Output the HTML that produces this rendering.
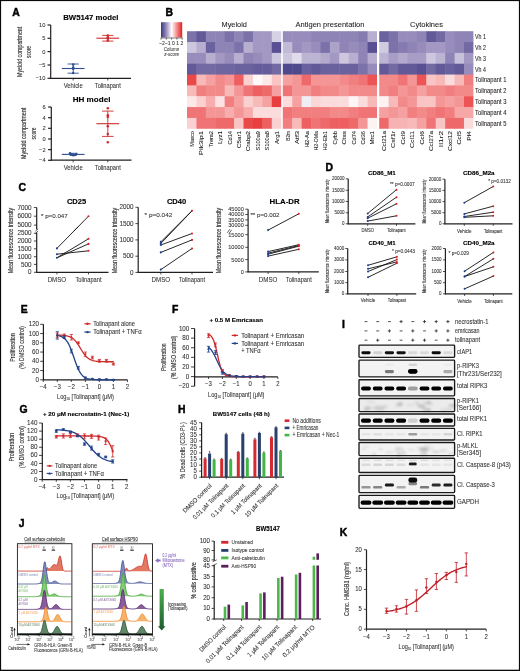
<!DOCTYPE html>
<html><head><meta charset="utf-8"><title>Figure</title>
<style>
html,body{margin:0;padding:0;background:#fff;}
body{width:520px;height:671px;overflow:hidden;}
svg{display:block;will-change:transform;}
text{font-family:"Liberation Sans", sans-serif;}
</style></head><body>
<svg width="520" height="671" viewBox="0 0 520 671" font-family='"Liberation Sans", sans-serif' fill="#231f20">
<rect width="520" height="671" fill="#fff"/>
<text x="12.30" y="15.80" font-size="10.4" font-weight="bold" fill="#000" stroke="#000" stroke-width="0.45">A</text>
<text x="90.85" y="20.00" font-size="7.0" stroke="#000" stroke-width="0.12" text-anchor="middle" font-weight="bold" fill="#000" textLength="55.3" lengthAdjust="spacingAndGlyphs">BW5147 model</text>
<line x1="50.70" y1="25.00" x2="50.70" y2="78.75" stroke="#231f20" stroke-width="1.2"/>
<line x1="50.25" y1="78.30" x2="131.00" y2="78.30" stroke="#231f20" stroke-width="1.2"/>
<line x1="47.50" y1="25.00" x2="50.70" y2="25.00" stroke="#231f20" stroke-width="1.2"/>
<text x="45.40" y="26.94" font-size="6.26" stroke="#333" stroke-width="0.08" text-anchor="end" fill="#333" textLength="6.4" lengthAdjust="spacingAndGlyphs">10</text>
<line x1="47.50" y1="38.30" x2="50.70" y2="38.30" stroke="#231f20" stroke-width="1.2"/>
<text x="45.40" y="40.24" font-size="6.26" stroke="#333" stroke-width="0.08" text-anchor="end" fill="#333" textLength="3.2" lengthAdjust="spacingAndGlyphs">5</text>
<line x1="47.50" y1="51.60" x2="50.70" y2="51.60" stroke="#231f20" stroke-width="1.2"/>
<text x="45.40" y="53.54" font-size="6.26" stroke="#333" stroke-width="0.08" text-anchor="end" fill="#333" textLength="3.2" lengthAdjust="spacingAndGlyphs">0</text>
<line x1="47.50" y1="65.00" x2="50.70" y2="65.00" stroke="#231f20" stroke-width="1.2"/>
<text x="45.40" y="66.94" font-size="6.26" stroke="#333" stroke-width="0.08" text-anchor="end" fill="#333" textLength="6.5" lengthAdjust="spacingAndGlyphs">−5</text>
<line x1="47.50" y1="78.30" x2="50.70" y2="78.30" stroke="#231f20" stroke-width="1.2"/>
<text x="45.40" y="80.24" font-size="6.26" stroke="#333" stroke-width="0.08" text-anchor="end" fill="#333" textLength="9.7" lengthAdjust="spacingAndGlyphs">−10</text>
<line x1="73.20" y1="78.30" x2="73.20" y2="80.50" stroke="#231f20" stroke-width="0.8"/>
<line x1="107.80" y1="78.30" x2="107.80" y2="80.50" stroke="#231f20" stroke-width="0.8"/>
<text x="73.20" y="88.20" font-size="6.5" stroke="#333" stroke-width="0.08" text-anchor="middle" fill="#333" textLength="19.0" lengthAdjust="spacingAndGlyphs">Vehicle</text>
<text x="107.80" y="88.20" font-size="6.5" stroke="#333" stroke-width="0.08" text-anchor="middle" fill="#333" textLength="26.0" lengthAdjust="spacingAndGlyphs">Tolinapant</text>
<text transform="translate(21.64,51.90) rotate(-90)" font-size="6.48" text-anchor="middle" stroke="#333" stroke-width="0.14" textLength="50.2" lengthAdjust="spacingAndGlyphs" fill="#333">Myeloid compartment</text>
<text transform="translate(31.04,51.90) rotate(-90)" font-size="6.48" text-anchor="middle" stroke="#333" stroke-width="0.14" textLength="12.0" lengthAdjust="spacingAndGlyphs" fill="#333">score</text>
<line x1="61.80" y1="68.50" x2="84.60" y2="68.50" stroke="#2f4f8f" stroke-width="1.1"/>
<line x1="73.20" y1="64.00" x2="73.20" y2="73.20" stroke="#2f4f8f" stroke-width="0.9"/>
<line x1="67.60" y1="64.00" x2="78.80" y2="64.00" stroke="#2f4f8f" stroke-width="0.9"/>
<line x1="67.60" y1="73.20" x2="78.80" y2="73.20" stroke="#2f4f8f" stroke-width="0.9"/>
<circle cx="73.20" cy="64.40" r="1.25" fill="#2f4f8f"/>
<circle cx="73.20" cy="67.60" r="1.25" fill="#2f4f8f"/>
<circle cx="73.20" cy="68.80" r="1.25" fill="#2f4f8f"/>
<circle cx="73.20" cy="73.00" r="1.25" fill="#2f4f8f"/>
<line x1="96.40" y1="38.20" x2="119.20" y2="38.20" stroke="#cf2a2a" stroke-width="1.1"/>
<line x1="107.80" y1="35.40" x2="107.80" y2="41.10" stroke="#cf2a2a" stroke-width="0.9"/>
<line x1="102.20" y1="35.40" x2="113.40" y2="35.40" stroke="#cf2a2a" stroke-width="0.9"/>
<line x1="102.20" y1="41.10" x2="113.40" y2="41.10" stroke="#cf2a2a" stroke-width="0.9"/>
<circle cx="107.80" cy="35.60" r="1.25" fill="#cf2a2a"/>
<circle cx="107.80" cy="37.30" r="1.25" fill="#cf2a2a"/>
<circle cx="107.80" cy="38.60" r="1.25" fill="#cf2a2a"/>
<circle cx="107.80" cy="40.60" r="1.25" fill="#cf2a2a"/>
<text x="91.55" y="102.10" font-size="7.0" stroke="#000" stroke-width="0.12" text-anchor="middle" font-weight="bold" fill="#000" textLength="37.7" lengthAdjust="spacingAndGlyphs">HH model</text>
<line x1="51.30" y1="107.00" x2="51.30" y2="160.65" stroke="#231f20" stroke-width="1.2"/>
<line x1="50.85" y1="160.20" x2="131.50" y2="160.20" stroke="#231f20" stroke-width="1.2"/>
<line x1="48.10" y1="107.00" x2="51.30" y2="107.00" stroke="#231f20" stroke-width="1.2"/>
<text x="45.60" y="108.94" font-size="6.26" stroke="#333" stroke-width="0.08" text-anchor="end" fill="#333" textLength="3.2" lengthAdjust="spacingAndGlyphs">6</text>
<line x1="48.10" y1="117.70" x2="51.30" y2="117.70" stroke="#231f20" stroke-width="1.2"/>
<text x="45.60" y="119.64" font-size="6.26" stroke="#333" stroke-width="0.08" text-anchor="end" fill="#333" textLength="3.2" lengthAdjust="spacingAndGlyphs">4</text>
<line x1="48.10" y1="128.30" x2="51.30" y2="128.30" stroke="#231f20" stroke-width="1.2"/>
<text x="45.60" y="130.24" font-size="6.26" stroke="#333" stroke-width="0.08" text-anchor="end" fill="#333" textLength="3.2" lengthAdjust="spacingAndGlyphs">2</text>
<line x1="48.10" y1="139.00" x2="51.30" y2="139.00" stroke="#231f20" stroke-width="1.2"/>
<text x="45.60" y="140.94" font-size="6.26" stroke="#333" stroke-width="0.08" text-anchor="end" fill="#333" textLength="3.2" lengthAdjust="spacingAndGlyphs">0</text>
<line x1="48.10" y1="149.60" x2="51.30" y2="149.60" stroke="#231f20" stroke-width="1.2"/>
<text x="45.60" y="151.54" font-size="6.26" stroke="#333" stroke-width="0.08" text-anchor="end" fill="#333" textLength="6.5" lengthAdjust="spacingAndGlyphs">−2</text>
<line x1="48.10" y1="160.30" x2="51.30" y2="160.30" stroke="#231f20" stroke-width="1.2"/>
<text x="45.60" y="162.24" font-size="6.26" stroke="#333" stroke-width="0.08" text-anchor="end" fill="#333" textLength="6.5" lengthAdjust="spacingAndGlyphs">−4</text>
<line x1="73.20" y1="160.20" x2="73.20" y2="162.40" stroke="#231f20" stroke-width="0.8"/>
<line x1="107.80" y1="160.20" x2="107.80" y2="162.40" stroke="#231f20" stroke-width="0.8"/>
<text x="73.20" y="169.60" font-size="6.5" stroke="#333" stroke-width="0.08" text-anchor="middle" fill="#333" textLength="19.0" lengthAdjust="spacingAndGlyphs">Vehicle</text>
<text x="107.80" y="169.60" font-size="6.5" stroke="#333" stroke-width="0.08" text-anchor="middle" fill="#333" textLength="26.0" lengthAdjust="spacingAndGlyphs">Tolinapant</text>
<text transform="translate(26.14,133.40) rotate(-90)" font-size="6.48" text-anchor="middle" stroke="#333" stroke-width="0.14" textLength="51.3" lengthAdjust="spacingAndGlyphs" fill="#333">Myeloid compartment</text>
<text transform="translate(35.74,133.40) rotate(-90)" font-size="6.48" text-anchor="middle" stroke="#333" stroke-width="0.14" textLength="12.0" lengthAdjust="spacingAndGlyphs" fill="#333">score</text>
<line x1="61.80" y1="154.40" x2="84.60" y2="154.40" stroke="#2f4f8f" stroke-width="1.1"/>
<line x1="73.20" y1="153.30" x2="73.20" y2="155.50" stroke="#2f4f8f" stroke-width="0.9"/>
<line x1="69.70" y1="153.30" x2="76.70" y2="153.30" stroke="#2f4f8f" stroke-width="0.9"/>
<line x1="69.70" y1="155.50" x2="76.70" y2="155.50" stroke="#2f4f8f" stroke-width="0.9"/>
<circle cx="70.00" cy="153.20" r="1.25" fill="#2f4f8f"/>
<circle cx="71.60" cy="154.30" r="1.25" fill="#2f4f8f"/>
<circle cx="73.20" cy="155.20" r="1.25" fill="#2f4f8f"/>
<circle cx="74.80" cy="155.00" r="1.25" fill="#2f4f8f"/>
<circle cx="76.40" cy="153.90" r="1.25" fill="#2f4f8f"/>
<line x1="96.40" y1="123.70" x2="119.20" y2="123.70" stroke="#cf2a2a" stroke-width="1.1"/>
<line x1="107.80" y1="111.10" x2="107.80" y2="136.40" stroke="#cf2a2a" stroke-width="0.9"/>
<line x1="102.00" y1="111.10" x2="113.60" y2="111.10" stroke="#cf2a2a" stroke-width="0.9"/>
<line x1="102.00" y1="136.40" x2="113.60" y2="136.40" stroke="#cf2a2a" stroke-width="0.9"/>
<circle cx="107.80" cy="108.20" r="1.25" fill="#cf2a2a"/>
<circle cx="107.80" cy="115.20" r="1.25" fill="#cf2a2a"/>
<circle cx="107.80" cy="117.00" r="1.25" fill="#cf2a2a"/>
<circle cx="107.80" cy="126.30" r="1.25" fill="#cf2a2a"/>
<circle cx="107.80" cy="134.10" r="1.25" fill="#cf2a2a"/>
<circle cx="107.80" cy="142.20" r="1.25" fill="#cf2a2a"/>
<text x="165.60" y="15.90" font-size="10.4" font-weight="bold" fill="#000" stroke="#000" stroke-width="0.45">B</text>
<defs><linearGradient id="cb" x1="0" x2="1" y1="0" y2="0"><stop offset="0.000" stop-color="#3c3780"/><stop offset="0.125" stop-color="#6a629e"/><stop offset="0.250" stop-color="#988cbc"/><stop offset="0.375" stop-color="#ccc6de"/><stop offset="0.500" stop-color="#ffffff"/><stop offset="0.625" stop-color="#f9c4c4"/><stop offset="0.750" stop-color="#f38a8a"/><stop offset="0.875" stop-color="#ec5455"/><stop offset="1.000" stop-color="#e41e20"/></linearGradient></defs>
<rect x="161.00" y="22.20" width="21.20" height="15.30" fill="url(#cb)"/>
<line x1="161.00" y1="38.00" x2="182.20" y2="38.00" stroke="#333" stroke-width="0.6"/>
<line x1="161.00" y1="37.60" x2="161.00" y2="39.60" stroke="#333" stroke-width="0.7"/>
<line x1="166.30" y1="37.60" x2="166.30" y2="39.60" stroke="#333" stroke-width="0.7"/>
<line x1="171.60" y1="37.60" x2="171.60" y2="39.60" stroke="#333" stroke-width="0.7"/>
<line x1="176.90" y1="37.60" x2="176.90" y2="39.60" stroke="#333" stroke-width="0.7"/>
<line x1="182.20" y1="37.60" x2="182.20" y2="39.60" stroke="#333" stroke-width="0.7"/>
<text x="171.20" y="44.94" font-size="4.64" stroke="#333" stroke-width="0.08" text-anchor="middle" fill="#333" textLength="24.0" lengthAdjust="spacingAndGlyphs">−2−1 0  1  2</text>
<text x="171.60" y="51.20" font-size="5.34" stroke="#444" stroke-width="0.08" text-anchor="middle" fill="#444" textLength="15.5" lengthAdjust="spacingAndGlyphs">Column</text>
<text x="171.60" y="56.30" font-size="5.34" stroke="#444" stroke-width="0.08" text-anchor="middle" fill="#444" textLength="14.5" lengthAdjust="spacingAndGlyphs" font-style="italic">z-score</text>
<rect x="187.00" y="31.20" width="9.92" height="11.34" fill="#7c72aa"/>
<rect x="196.42" y="31.20" width="9.92" height="11.34" fill="#615998"/>
<rect x="205.84" y="31.20" width="9.92" height="11.34" fill="#8f84b6"/>
<rect x="215.26" y="31.20" width="9.92" height="11.34" fill="#8f84b6"/>
<rect x="224.68" y="31.20" width="9.92" height="11.34" fill="#7c72aa"/>
<rect x="234.10" y="31.20" width="9.92" height="11.34" fill="#8f84b6"/>
<rect x="243.52" y="31.20" width="9.92" height="11.34" fill="#7c72aa"/>
<rect x="252.94" y="31.20" width="9.92" height="11.34" fill="#a298c3"/>
<rect x="262.36" y="31.20" width="9.92" height="11.34" fill="#a298c3"/>
<rect x="271.78" y="31.20" width="9.42" height="11.34" fill="#d6d1e4"/>
<rect x="187.00" y="42.04" width="9.92" height="11.34" fill="#ccc6de"/>
<rect x="196.42" y="42.04" width="9.92" height="11.34" fill="#b7aed0"/>
<rect x="205.84" y="42.04" width="9.92" height="11.34" fill="#6a629e"/>
<rect x="215.26" y="42.04" width="9.92" height="11.34" fill="#8f84b6"/>
<rect x="224.68" y="42.04" width="9.92" height="11.34" fill="#8f84b6"/>
<rect x="234.10" y="42.04" width="9.92" height="11.34" fill="#7c72aa"/>
<rect x="243.52" y="42.04" width="9.92" height="11.34" fill="#b7aed0"/>
<rect x="252.94" y="42.04" width="9.92" height="11.34" fill="#a298c3"/>
<rect x="262.36" y="42.04" width="9.92" height="11.34" fill="#a298c3"/>
<rect x="271.78" y="42.04" width="9.42" height="11.34" fill="#585092"/>
<rect x="187.00" y="52.88" width="9.92" height="11.34" fill="#988cbc"/>
<rect x="196.42" y="52.88" width="9.92" height="11.34" fill="#988cbc"/>
<rect x="205.84" y="52.88" width="9.92" height="11.34" fill="#b7aed0"/>
<rect x="215.26" y="52.88" width="9.92" height="11.34" fill="#a298c3"/>
<rect x="224.68" y="52.88" width="9.92" height="11.34" fill="#988cbc"/>
<rect x="234.10" y="52.88" width="9.92" height="11.34" fill="#b7aed0"/>
<rect x="243.52" y="52.88" width="9.92" height="11.34" fill="#8f84b6"/>
<rect x="252.94" y="52.88" width="9.92" height="11.34" fill="#988cbc"/>
<rect x="262.36" y="52.88" width="9.92" height="11.34" fill="#a298c3"/>
<rect x="271.78" y="52.88" width="9.42" height="11.34" fill="#ccc6de"/>
<rect x="187.00" y="63.72" width="9.92" height="11.34" fill="#615998"/>
<rect x="196.42" y="63.72" width="9.92" height="11.34" fill="#736aa4"/>
<rect x="205.84" y="63.72" width="9.92" height="11.34" fill="#736aa4"/>
<rect x="215.26" y="63.72" width="9.92" height="11.34" fill="#6f66a1"/>
<rect x="224.68" y="63.72" width="9.92" height="11.34" fill="#6f66a1"/>
<rect x="234.10" y="63.72" width="9.92" height="11.34" fill="#6a629e"/>
<rect x="243.52" y="63.72" width="9.92" height="11.34" fill="#6a629e"/>
<rect x="252.94" y="63.72" width="9.92" height="11.34" fill="#655d9b"/>
<rect x="262.36" y="63.72" width="9.92" height="11.34" fill="#655d9b"/>
<rect x="271.78" y="63.72" width="9.42" height="11.34" fill="#736aa4"/>
<rect x="187.00" y="74.56" width="9.92" height="11.34" fill="#ea494a"/>
<rect x="196.42" y="74.56" width="9.92" height="11.34" fill="#f8b9b9"/>
<rect x="205.84" y="74.56" width="9.92" height="11.34" fill="#f5a1a1"/>
<rect x="215.26" y="74.56" width="9.92" height="11.34" fill="#f38a8a"/>
<rect x="224.68" y="74.56" width="9.92" height="11.34" fill="#f49696"/>
<rect x="234.10" y="74.56" width="9.92" height="11.34" fill="#ed5f60"/>
<rect x="243.52" y="74.56" width="9.92" height="11.34" fill="#fad0d0"/>
<rect x="252.94" y="74.56" width="9.92" height="11.34" fill="#fef9f9"/>
<rect x="262.36" y="74.56" width="9.92" height="11.34" fill="#fde8e8"/>
<rect x="271.78" y="74.56" width="9.42" height="11.34" fill="#f9c4c4"/>
<rect x="187.00" y="85.40" width="9.92" height="11.34" fill="#f8b9b9"/>
<rect x="196.42" y="85.40" width="9.92" height="11.34" fill="#f27f7f"/>
<rect x="205.84" y="85.40" width="9.92" height="11.34" fill="#f38a8a"/>
<rect x="215.26" y="85.40" width="9.92" height="11.34" fill="#f38a8a"/>
<rect x="224.68" y="85.40" width="9.92" height="11.34" fill="#f8b9b9"/>
<rect x="234.10" y="85.40" width="9.92" height="11.34" fill="#f49696"/>
<rect x="243.52" y="85.40" width="9.92" height="11.34" fill="#f07475"/>
<rect x="252.94" y="85.40" width="9.92" height="11.34" fill="#ed5f60"/>
<rect x="262.36" y="85.40" width="9.92" height="11.34" fill="#ee6a6a"/>
<rect x="271.78" y="85.40" width="9.42" height="11.34" fill="#f5a1a1"/>
<rect x="187.00" y="96.24" width="9.92" height="11.34" fill="#fde8e8"/>
<rect x="196.42" y="96.24" width="9.92" height="11.34" fill="#fad0d0"/>
<rect x="205.84" y="96.24" width="9.92" height="11.34" fill="#f7adad"/>
<rect x="215.26" y="96.24" width="9.92" height="11.34" fill="#fce2e2"/>
<rect x="224.68" y="96.24" width="9.92" height="11.34" fill="#f27f7f"/>
<rect x="234.10" y="96.24" width="9.92" height="11.34" fill="#f5a1a1"/>
<rect x="243.52" y="96.24" width="9.92" height="11.34" fill="#fad0d0"/>
<rect x="252.94" y="96.24" width="9.92" height="11.34" fill="#f8b9b9"/>
<rect x="262.36" y="96.24" width="9.92" height="11.34" fill="#f5a1a1"/>
<rect x="271.78" y="96.24" width="9.42" height="11.34" fill="#e83e40"/>
<rect x="187.00" y="107.08" width="9.92" height="11.34" fill="#f07475"/>
<rect x="196.42" y="107.08" width="9.92" height="11.34" fill="#f07475"/>
<rect x="205.84" y="107.08" width="9.92" height="11.34" fill="#f49696"/>
<rect x="215.26" y="107.08" width="9.92" height="11.34" fill="#f49696"/>
<rect x="224.68" y="107.08" width="9.92" height="11.34" fill="#f7adad"/>
<rect x="234.10" y="107.08" width="9.92" height="11.34" fill="#f49696"/>
<rect x="243.52" y="107.08" width="9.92" height="11.34" fill="#f7adad"/>
<rect x="252.94" y="107.08" width="9.92" height="11.34" fill="#fbdcdc"/>
<rect x="262.36" y="107.08" width="9.92" height="11.34" fill="#fbdcdc"/>
<rect x="271.78" y="107.08" width="9.42" height="11.34" fill="#fbdcdc"/>
<rect x="187.00" y="117.92" width="9.92" height="10.84" fill="#fad0d0"/>
<rect x="196.42" y="117.92" width="9.92" height="10.84" fill="#f07475"/>
<rect x="205.84" y="117.92" width="9.92" height="10.84" fill="#f07475"/>
<rect x="215.26" y="117.92" width="9.92" height="10.84" fill="#ee6a6a"/>
<rect x="224.68" y="117.92" width="9.92" height="10.84" fill="#ee6a6a"/>
<rect x="234.10" y="117.92" width="9.92" height="10.84" fill="#f9c4c4"/>
<rect x="243.52" y="117.92" width="9.92" height="10.84" fill="#ea494a"/>
<rect x="252.94" y="117.92" width="9.92" height="10.84" fill="#e83e40"/>
<rect x="262.36" y="117.92" width="9.92" height="10.84" fill="#ed5f60"/>
<rect x="271.78" y="117.92" width="9.42" height="10.84" fill="#fad0d0"/>
<rect x="282.80" y="31.20" width="9.92" height="11.34" fill="#988cbc"/>
<rect x="292.22" y="31.20" width="9.92" height="11.34" fill="#988cbc"/>
<rect x="301.64" y="31.20" width="9.92" height="11.34" fill="#988cbc"/>
<rect x="311.06" y="31.20" width="9.92" height="11.34" fill="#8f84b6"/>
<rect x="320.48" y="31.20" width="9.92" height="11.34" fill="#8f84b6"/>
<rect x="329.90" y="31.20" width="9.92" height="11.34" fill="#8f84b6"/>
<rect x="339.32" y="31.20" width="9.92" height="11.34" fill="#8f84b6"/>
<rect x="348.74" y="31.20" width="9.92" height="11.34" fill="#8f84b6"/>
<rect x="358.16" y="31.20" width="9.92" height="11.34" fill="#867bb0"/>
<rect x="367.58" y="31.20" width="9.42" height="11.34" fill="#b7aed0"/>
<rect x="282.80" y="42.04" width="9.92" height="11.34" fill="#c1bad7"/>
<rect x="292.22" y="42.04" width="9.92" height="11.34" fill="#988cbc"/>
<rect x="301.64" y="42.04" width="9.92" height="11.34" fill="#a298c3"/>
<rect x="311.06" y="42.04" width="9.92" height="11.34" fill="#988cbc"/>
<rect x="320.48" y="42.04" width="9.92" height="11.34" fill="#7c72aa"/>
<rect x="329.90" y="42.04" width="9.92" height="11.34" fill="#ada3c9"/>
<rect x="339.32" y="42.04" width="9.92" height="11.34" fill="#8f84b6"/>
<rect x="348.74" y="42.04" width="9.92" height="11.34" fill="#988cbc"/>
<rect x="358.16" y="42.04" width="9.92" height="11.34" fill="#8f84b6"/>
<rect x="367.58" y="42.04" width="9.42" height="11.34" fill="#585092"/>
<rect x="282.80" y="52.88" width="9.92" height="11.34" fill="#ccc6de"/>
<rect x="292.22" y="52.88" width="9.92" height="11.34" fill="#e0dceb"/>
<rect x="301.64" y="52.88" width="9.92" height="11.34" fill="#bcb4d3"/>
<rect x="311.06" y="52.88" width="9.92" height="11.34" fill="#bcb4d3"/>
<rect x="320.48" y="52.88" width="9.92" height="11.34" fill="#b2a9cd"/>
<rect x="329.90" y="52.88" width="9.92" height="11.34" fill="#a298c3"/>
<rect x="339.32" y="52.88" width="9.92" height="11.34" fill="#ccc6de"/>
<rect x="348.74" y="52.88" width="9.92" height="11.34" fill="#b7aed0"/>
<rect x="358.16" y="52.88" width="9.92" height="11.34" fill="#8f84b6"/>
<rect x="367.58" y="52.88" width="9.42" height="11.34" fill="#b7aed0"/>
<rect x="282.80" y="63.72" width="9.92" height="11.34" fill="#4e488c"/>
<rect x="292.22" y="63.72" width="9.92" height="11.34" fill="#4e488c"/>
<rect x="301.64" y="63.72" width="9.92" height="11.34" fill="#6a629e"/>
<rect x="311.06" y="63.72" width="9.92" height="11.34" fill="#615998"/>
<rect x="320.48" y="63.72" width="9.92" height="11.34" fill="#6a629e"/>
<rect x="329.90" y="63.72" width="9.92" height="11.34" fill="#6a629e"/>
<rect x="339.32" y="63.72" width="9.92" height="11.34" fill="#6a629e"/>
<rect x="348.74" y="63.72" width="9.92" height="11.34" fill="#6a629e"/>
<rect x="358.16" y="63.72" width="9.92" height="11.34" fill="#7c72aa"/>
<rect x="367.58" y="63.72" width="9.42" height="11.34" fill="#988cbc"/>
<rect x="282.80" y="74.56" width="9.92" height="11.34" fill="#f5a1a1"/>
<rect x="292.22" y="74.56" width="9.92" height="11.34" fill="#f49696"/>
<rect x="301.64" y="74.56" width="9.92" height="11.34" fill="#ee6a6a"/>
<rect x="311.06" y="74.56" width="9.92" height="11.34" fill="#f49696"/>
<rect x="320.48" y="74.56" width="9.92" height="11.34" fill="#f49696"/>
<rect x="329.90" y="74.56" width="9.92" height="11.34" fill="#f49696"/>
<rect x="339.32" y="74.56" width="9.92" height="11.34" fill="#f38a8a"/>
<rect x="348.74" y="74.56" width="9.92" height="11.34" fill="#f27f7f"/>
<rect x="358.16" y="74.56" width="9.92" height="11.34" fill="#f07475"/>
<rect x="367.58" y="74.56" width="9.42" height="11.34" fill="#ec5455"/>
<rect x="282.80" y="85.40" width="9.92" height="11.34" fill="#f07475"/>
<rect x="292.22" y="85.40" width="9.92" height="11.34" fill="#f49696"/>
<rect x="301.64" y="85.40" width="9.92" height="11.34" fill="#f49696"/>
<rect x="311.06" y="85.40" width="9.92" height="11.34" fill="#f27f7f"/>
<rect x="320.48" y="85.40" width="9.92" height="11.34" fill="#f38a8a"/>
<rect x="329.90" y="85.40" width="9.92" height="11.34" fill="#f38a8a"/>
<rect x="339.32" y="85.40" width="9.92" height="11.34" fill="#f49696"/>
<rect x="348.74" y="85.40" width="9.92" height="11.34" fill="#f38a8a"/>
<rect x="358.16" y="85.40" width="9.92" height="11.34" fill="#f38a8a"/>
<rect x="367.58" y="85.40" width="9.42" height="11.34" fill="#f38a8a"/>
<rect x="282.80" y="96.24" width="9.92" height="11.34" fill="#fbdcdc"/>
<rect x="292.22" y="96.24" width="9.92" height="11.34" fill="#f5a1a1"/>
<rect x="301.64" y="96.24" width="9.92" height="11.34" fill="#f0eef5"/>
<rect x="311.06" y="96.24" width="9.92" height="11.34" fill="#fbd6d6"/>
<rect x="320.48" y="96.24" width="9.92" height="11.34" fill="#fbdcdc"/>
<rect x="329.90" y="96.24" width="9.92" height="11.34" fill="#fbdcdc"/>
<rect x="339.32" y="96.24" width="9.92" height="11.34" fill="#fbdcdc"/>
<rect x="348.74" y="96.24" width="9.92" height="11.34" fill="#fef6f6"/>
<rect x="358.16" y="96.24" width="9.92" height="11.34" fill="#fbdcdc"/>
<rect x="367.58" y="96.24" width="9.42" height="11.34" fill="#f8b9b9"/>
<rect x="282.80" y="107.08" width="9.92" height="11.34" fill="#f07475"/>
<rect x="292.22" y="107.08" width="9.92" height="11.34" fill="#f27f7f"/>
<rect x="301.64" y="107.08" width="9.92" height="11.34" fill="#f27f7f"/>
<rect x="311.06" y="107.08" width="9.92" height="11.34" fill="#f27f7f"/>
<rect x="320.48" y="107.08" width="9.92" height="11.34" fill="#f27f7f"/>
<rect x="329.90" y="107.08" width="9.92" height="11.34" fill="#f38a8a"/>
<rect x="339.32" y="107.08" width="9.92" height="11.34" fill="#f38a8a"/>
<rect x="348.74" y="107.08" width="9.92" height="11.34" fill="#f27f7f"/>
<rect x="358.16" y="107.08" width="9.92" height="11.34" fill="#f07475"/>
<rect x="367.58" y="107.08" width="9.42" height="11.34" fill="#f07475"/>
<rect x="282.80" y="117.92" width="9.92" height="10.84" fill="#f27f7f"/>
<rect x="292.22" y="117.92" width="9.92" height="10.84" fill="#f8b9b9"/>
<rect x="301.64" y="117.92" width="9.92" height="10.84" fill="#ed5f60"/>
<rect x="311.06" y="117.92" width="9.92" height="10.84" fill="#f07475"/>
<rect x="320.48" y="117.92" width="9.92" height="10.84" fill="#ee6a6a"/>
<rect x="329.90" y="117.92" width="9.92" height="10.84" fill="#ed5f60"/>
<rect x="339.32" y="117.92" width="9.92" height="10.84" fill="#ed5f60"/>
<rect x="348.74" y="117.92" width="9.92" height="10.84" fill="#ee6a6a"/>
<rect x="358.16" y="117.92" width="9.92" height="10.84" fill="#f49696"/>
<rect x="367.58" y="117.92" width="9.42" height="10.84" fill="#fef3f3"/>
<rect x="379.20" y="31.20" width="9.92" height="11.34" fill="#6a629e"/>
<rect x="388.62" y="31.20" width="9.92" height="11.34" fill="#7c72aa"/>
<rect x="398.04" y="31.20" width="9.92" height="11.34" fill="#988cbc"/>
<rect x="407.46" y="31.20" width="9.92" height="11.34" fill="#988cbc"/>
<rect x="416.88" y="31.20" width="9.92" height="11.34" fill="#8f84b6"/>
<rect x="426.30" y="31.20" width="9.92" height="11.34" fill="#615998"/>
<rect x="435.72" y="31.20" width="9.92" height="11.34" fill="#736aa4"/>
<rect x="445.14" y="31.20" width="9.92" height="11.34" fill="#988cbc"/>
<rect x="454.56" y="31.20" width="9.92" height="11.34" fill="#8f84b6"/>
<rect x="463.98" y="31.20" width="9.42" height="11.34" fill="#8f84b6"/>
<rect x="379.20" y="42.04" width="9.92" height="11.34" fill="#d1cbe1"/>
<rect x="388.62" y="42.04" width="9.92" height="11.34" fill="#7c72aa"/>
<rect x="398.04" y="42.04" width="9.92" height="11.34" fill="#867bb0"/>
<rect x="407.46" y="42.04" width="9.92" height="11.34" fill="#8f84b6"/>
<rect x="416.88" y="42.04" width="9.92" height="11.34" fill="#988cbc"/>
<rect x="426.30" y="42.04" width="9.92" height="11.34" fill="#a298c3"/>
<rect x="435.72" y="42.04" width="9.92" height="11.34" fill="#a298c3"/>
<rect x="445.14" y="42.04" width="9.92" height="11.34" fill="#988cbc"/>
<rect x="454.56" y="42.04" width="9.92" height="11.34" fill="#8f84b6"/>
<rect x="463.98" y="42.04" width="9.42" height="11.34" fill="#736aa4"/>
<rect x="379.20" y="52.88" width="9.92" height="11.34" fill="#bcb4d3"/>
<rect x="388.62" y="52.88" width="9.92" height="11.34" fill="#a79dc6"/>
<rect x="398.04" y="52.88" width="9.92" height="11.34" fill="#b2a9cd"/>
<rect x="407.46" y="52.88" width="9.92" height="11.34" fill="#a79dc6"/>
<rect x="416.88" y="52.88" width="9.92" height="11.34" fill="#a79dc6"/>
<rect x="426.30" y="52.88" width="9.92" height="11.34" fill="#ccc6de"/>
<rect x="435.72" y="52.88" width="9.92" height="11.34" fill="#bcb4d3"/>
<rect x="445.14" y="52.88" width="9.92" height="11.34" fill="#8f84b6"/>
<rect x="454.56" y="52.88" width="9.92" height="11.34" fill="#c6c0da"/>
<rect x="463.98" y="52.88" width="9.42" height="11.34" fill="#a298c3"/>
<rect x="379.20" y="63.72" width="9.92" height="11.34" fill="#615998"/>
<rect x="388.62" y="63.72" width="9.92" height="11.34" fill="#736aa4"/>
<rect x="398.04" y="63.72" width="9.92" height="11.34" fill="#615998"/>
<rect x="407.46" y="63.72" width="9.92" height="11.34" fill="#615998"/>
<rect x="416.88" y="63.72" width="9.92" height="11.34" fill="#585092"/>
<rect x="426.30" y="63.72" width="9.92" height="11.34" fill="#736aa4"/>
<rect x="435.72" y="63.72" width="9.92" height="11.34" fill="#615998"/>
<rect x="445.14" y="63.72" width="9.92" height="11.34" fill="#6a629e"/>
<rect x="454.56" y="63.72" width="9.92" height="11.34" fill="#615998"/>
<rect x="463.98" y="63.72" width="9.42" height="11.34" fill="#988cbc"/>
<rect x="379.20" y="74.56" width="9.92" height="11.34" fill="#f38a8a"/>
<rect x="388.62" y="74.56" width="9.92" height="11.34" fill="#f38a8a"/>
<rect x="398.04" y="74.56" width="9.92" height="11.34" fill="#f07475"/>
<rect x="407.46" y="74.56" width="9.92" height="11.34" fill="#f49696"/>
<rect x="416.88" y="74.56" width="9.92" height="11.34" fill="#ec5455"/>
<rect x="426.30" y="74.56" width="9.92" height="11.34" fill="#f9c4c4"/>
<rect x="435.72" y="74.56" width="9.92" height="11.34" fill="#f8b9b9"/>
<rect x="445.14" y="74.56" width="9.92" height="11.34" fill="#fbdcdc"/>
<rect x="454.56" y="74.56" width="9.92" height="11.34" fill="#f8b9b9"/>
<rect x="463.98" y="74.56" width="9.42" height="11.34" fill="#f27f7f"/>
<rect x="379.20" y="85.40" width="9.92" height="11.34" fill="#f38a8a"/>
<rect x="388.62" y="85.40" width="9.92" height="11.34" fill="#f27f7f"/>
<rect x="398.04" y="85.40" width="9.92" height="11.34" fill="#f49696"/>
<rect x="407.46" y="85.40" width="9.92" height="11.34" fill="#f38a8a"/>
<rect x="416.88" y="85.40" width="9.92" height="11.34" fill="#f5a1a1"/>
<rect x="426.30" y="85.40" width="9.92" height="11.34" fill="#f38a8a"/>
<rect x="435.72" y="85.40" width="9.92" height="11.34" fill="#f38a8a"/>
<rect x="445.14" y="85.40" width="9.92" height="11.34" fill="#f27f7f"/>
<rect x="454.56" y="85.40" width="9.92" height="11.34" fill="#f38a8a"/>
<rect x="463.98" y="85.40" width="9.42" height="11.34" fill="#f38a8a"/>
<rect x="379.20" y="96.24" width="9.92" height="11.34" fill="#fef3f3"/>
<rect x="388.62" y="96.24" width="9.92" height="11.34" fill="#f8b9b9"/>
<rect x="398.04" y="96.24" width="9.92" height="11.34" fill="#f38a8a"/>
<rect x="407.46" y="96.24" width="9.92" height="11.34" fill="#f49696"/>
<rect x="416.88" y="96.24" width="9.92" height="11.34" fill="#f9c4c4"/>
<rect x="426.30" y="96.24" width="9.92" height="11.34" fill="#f9c4c4"/>
<rect x="435.72" y="96.24" width="9.92" height="11.34" fill="#f49696"/>
<rect x="445.14" y="96.24" width="9.92" height="11.34" fill="#f5a1a1"/>
<rect x="454.56" y="96.24" width="9.92" height="11.34" fill="#f49696"/>
<rect x="463.98" y="96.24" width="9.42" height="11.34" fill="#ec5455"/>
<rect x="379.20" y="107.08" width="9.92" height="11.34" fill="#f5a1a1"/>
<rect x="388.62" y="107.08" width="9.92" height="11.34" fill="#f49696"/>
<rect x="398.04" y="107.08" width="9.92" height="11.34" fill="#f5a1a1"/>
<rect x="407.46" y="107.08" width="9.92" height="11.34" fill="#f27f7f"/>
<rect x="416.88" y="107.08" width="9.92" height="11.34" fill="#f38a8a"/>
<rect x="426.30" y="107.08" width="9.92" height="11.34" fill="#f27f7f"/>
<rect x="435.72" y="107.08" width="9.92" height="11.34" fill="#f07475"/>
<rect x="445.14" y="107.08" width="9.92" height="11.34" fill="#f27f7f"/>
<rect x="454.56" y="107.08" width="9.92" height="11.34" fill="#f6a7a7"/>
<rect x="463.98" y="107.08" width="9.42" height="11.34" fill="#f6a7a7"/>
<rect x="379.20" y="117.92" width="9.92" height="10.84" fill="#ee6a6a"/>
<rect x="388.62" y="117.92" width="9.92" height="10.84" fill="#f7b3b3"/>
<rect x="398.04" y="117.92" width="9.92" height="10.84" fill="#f7b3b3"/>
<rect x="407.46" y="117.92" width="9.92" height="10.84" fill="#f8b9b9"/>
<rect x="416.88" y="117.92" width="9.92" height="10.84" fill="#f5a1a1"/>
<rect x="426.30" y="117.92" width="9.92" height="10.84" fill="#f07475"/>
<rect x="435.72" y="117.92" width="9.92" height="10.84" fill="#f9c4c4"/>
<rect x="445.14" y="117.92" width="9.92" height="10.84" fill="#ee6a6a"/>
<rect x="454.56" y="117.92" width="9.92" height="10.84" fill="#ee6a6a"/>
<rect x="463.98" y="117.92" width="9.42" height="10.84" fill="#fbdcdc"/>
<text x="234.20" y="27.40" font-size="7.77" stroke="#231f20" stroke-width="0.08" text-anchor="middle" textLength="25.4" lengthAdjust="spacingAndGlyphs">Myeloid</text>
<text x="330.00" y="27.40" font-size="7.77" stroke="#231f20" stroke-width="0.08" text-anchor="middle" textLength="69.0" lengthAdjust="spacingAndGlyphs">Antigen presentation</text>
<text x="426.50" y="27.40" font-size="7.77" stroke="#231f20" stroke-width="0.08" text-anchor="middle" textLength="33.0" lengthAdjust="spacingAndGlyphs">Cytokines</text>
<text x="475.10" y="39.07" font-size="6.61" stroke="#231f20" stroke-width="0.08" textLength="10.8" lengthAdjust="spacingAndGlyphs">Vh 1</text>
<text x="475.10" y="49.91" font-size="6.61" stroke="#231f20" stroke-width="0.08" textLength="10.8" lengthAdjust="spacingAndGlyphs">Vh 2</text>
<text x="475.10" y="60.75" font-size="6.61" stroke="#231f20" stroke-width="0.08" textLength="10.8" lengthAdjust="spacingAndGlyphs">Vh 3</text>
<text x="475.10" y="71.59" font-size="6.61" stroke="#231f20" stroke-width="0.08" textLength="10.8" lengthAdjust="spacingAndGlyphs">Vh 4</text>
<text x="475.10" y="82.43" font-size="6.61" stroke="#231f20" stroke-width="0.08" textLength="31.4" lengthAdjust="spacingAndGlyphs">Tolinapant 1</text>
<text x="475.10" y="93.27" font-size="6.61" stroke="#231f20" stroke-width="0.08" textLength="31.4" lengthAdjust="spacingAndGlyphs">Tolinapant 2</text>
<text x="475.10" y="104.11" font-size="6.61" stroke="#231f20" stroke-width="0.08" textLength="31.4" lengthAdjust="spacingAndGlyphs">Tolinapant 3</text>
<text x="475.10" y="114.95" font-size="6.61" stroke="#231f20" stroke-width="0.08" textLength="31.4" lengthAdjust="spacingAndGlyphs">Tolinapant 4</text>
<text x="475.10" y="125.79" font-size="6.61" stroke="#231f20" stroke-width="0.08" textLength="31.4" lengthAdjust="spacingAndGlyphs">Tolinapant 5</text>
<text transform="translate(193.87,131.0) rotate(-90)" font-size="6.0" text-anchor="end" stroke="#231f20" stroke-width="0.08" textLength="15.7" lengthAdjust="spacingAndGlyphs">Marco</text>
<text transform="translate(203.29,131.0) rotate(-90)" font-size="6.0" text-anchor="end" stroke="#231f20" stroke-width="0.08" textLength="24.0" lengthAdjust="spacingAndGlyphs">Pik3ip1</text>
<text transform="translate(212.71,131.0) rotate(-90)" font-size="6.0" text-anchor="end" stroke="#231f20" stroke-width="0.08" textLength="16.2" lengthAdjust="spacingAndGlyphs">Trem2</text>
<text transform="translate(222.13,131.0) rotate(-90)" font-size="6.0" text-anchor="end" stroke="#231f20" stroke-width="0.08" textLength="13.0" lengthAdjust="spacingAndGlyphs">Lyz1</text>
<text transform="translate(231.55,131.0) rotate(-90)" font-size="6.0" text-anchor="end" stroke="#231f20" stroke-width="0.08" textLength="13.6" lengthAdjust="spacingAndGlyphs">Cd14</text>
<text transform="translate(240.97,131.0) rotate(-90)" font-size="6.0" text-anchor="end" stroke="#231f20" stroke-width="0.08" textLength="16.9" lengthAdjust="spacingAndGlyphs">C5ar1</text>
<text transform="translate(250.39,131.0) rotate(-90)" font-size="6.0" text-anchor="end" stroke="#231f20" stroke-width="0.08" textLength="20.1" lengthAdjust="spacingAndGlyphs">Crabp2</text>
<text transform="translate(259.81,131.0) rotate(-90)" font-size="6.0" text-anchor="end" stroke="#231f20" stroke-width="0.08" textLength="19.5" lengthAdjust="spacingAndGlyphs">S100a9</text>
<text transform="translate(269.23,131.0) rotate(-90)" font-size="6.0" text-anchor="end" stroke="#231f20" stroke-width="0.08" textLength="19.5" lengthAdjust="spacingAndGlyphs">S100a8</text>
<text transform="translate(278.65,131.0) rotate(-90)" font-size="6.0" text-anchor="end" stroke="#231f20" stroke-width="0.08" textLength="13.0" lengthAdjust="spacingAndGlyphs">Arg1</text>
<text transform="translate(289.67,131.0) rotate(-90)" font-size="6.0" text-anchor="end" stroke="#231f20" stroke-width="0.08" textLength="9.8" lengthAdjust="spacingAndGlyphs">B2m</text>
<text transform="translate(299.09,131.0) rotate(-90)" font-size="6.0" text-anchor="end" stroke="#231f20" stroke-width="0.08" textLength="13.0" lengthAdjust="spacingAndGlyphs">Atf3</text>
<text transform="translate(308.51,131.0) rotate(-90)" font-size="6.0" text-anchor="end" stroke="#231f20" stroke-width="0.08" textLength="16.2" lengthAdjust="spacingAndGlyphs">H2-Aa</text>
<text transform="translate(317.93,131.0) rotate(-90)" font-size="6.0" text-anchor="end" stroke="#231f20" stroke-width="0.08" textLength="19.5" lengthAdjust="spacingAndGlyphs">H2-DMa</text>
<text transform="translate(327.35,131.0) rotate(-90)" font-size="6.0" text-anchor="end" stroke="#231f20" stroke-width="0.08" textLength="19.5" lengthAdjust="spacingAndGlyphs">H2-Eb1</text>
<text transform="translate(336.77,131.0) rotate(-90)" font-size="6.0" text-anchor="end" stroke="#231f20" stroke-width="0.08" textLength="13.6" lengthAdjust="spacingAndGlyphs">Cybb</text>
<text transform="translate(346.19,131.0) rotate(-90)" font-size="6.0" text-anchor="end" stroke="#231f20" stroke-width="0.08" textLength="13.6" lengthAdjust="spacingAndGlyphs">Ctss</text>
<text transform="translate(355.61,131.0) rotate(-90)" font-size="6.0" text-anchor="end" stroke="#231f20" stroke-width="0.08" textLength="13.6" lengthAdjust="spacingAndGlyphs">Cd74</text>
<text transform="translate(365.03,131.0) rotate(-90)" font-size="6.0" text-anchor="end" stroke="#231f20" stroke-width="0.08" textLength="13.6" lengthAdjust="spacingAndGlyphs">Cd36</text>
<text transform="translate(374.45,131.0) rotate(-90)" font-size="6.0" text-anchor="end" stroke="#231f20" stroke-width="0.08" textLength="13.6" lengthAdjust="spacingAndGlyphs">Mrc1</text>
<text transform="translate(386.07,131.0) rotate(-90)" font-size="6.0" text-anchor="end" stroke="#231f20" stroke-width="0.08" textLength="20.1" lengthAdjust="spacingAndGlyphs">Ccl21a</text>
<text transform="translate(395.49,131.0) rotate(-90)" font-size="6.0" text-anchor="end" stroke="#231f20" stroke-width="0.08" textLength="16.9" lengthAdjust="spacingAndGlyphs">Csf1r</text>
<text transform="translate(404.91,131.0) rotate(-90)" font-size="6.0" text-anchor="end" stroke="#231f20" stroke-width="0.08" textLength="13.6" lengthAdjust="spacingAndGlyphs">Ccl9</text>
<text transform="translate(414.33,131.0) rotate(-90)" font-size="6.0" text-anchor="end" stroke="#231f20" stroke-width="0.08" textLength="16.9" lengthAdjust="spacingAndGlyphs">Ccl11</text>
<text transform="translate(423.75,131.0) rotate(-90)" font-size="6.0" text-anchor="end" stroke="#231f20" stroke-width="0.08" textLength="13.6" lengthAdjust="spacingAndGlyphs">Ccl6</text>
<text transform="translate(433.17,131.0) rotate(-90)" font-size="6.0" text-anchor="end" stroke="#231f20" stroke-width="0.08" textLength="20.1" lengthAdjust="spacingAndGlyphs">Ccl27a</text>
<text transform="translate(442.59,131.0) rotate(-90)" font-size="6.0" text-anchor="end" stroke="#231f20" stroke-width="0.08" textLength="16.2" lengthAdjust="spacingAndGlyphs">Il1r2</text>
<text transform="translate(452.01,131.0) rotate(-90)" font-size="6.0" text-anchor="end" stroke="#231f20" stroke-width="0.08" textLength="20.1" lengthAdjust="spacingAndGlyphs">Cxcl12</text>
<text transform="translate(461.43,131.0) rotate(-90)" font-size="6.0" text-anchor="end" stroke="#231f20" stroke-width="0.08" textLength="13.6" lengthAdjust="spacingAndGlyphs">Ccl5</text>
<text transform="translate(470.85,131.0) rotate(-90)" font-size="6.0" text-anchor="end" stroke="#231f20" stroke-width="0.08" textLength="9.8" lengthAdjust="spacingAndGlyphs">Pf4</text>
<text x="18.60" y="190.70" font-size="10.4" font-weight="bold" fill="#000" stroke="#000" stroke-width="0.45">C</text>
<line x1="36.70" y1="207.50" x2="36.70" y2="229.60" stroke="#231f20" stroke-width="1.2"/>
<line x1="36.70" y1="232.60" x2="36.70" y2="272.85" stroke="#231f20" stroke-width="1.2"/>
<line x1="35.30" y1="231.20" x2="38.10" y2="228.80" stroke="#231f20" stroke-width="0.7"/>
<line x1="35.30" y1="233.40" x2="38.10" y2="231.00" stroke="#231f20" stroke-width="0.7"/>
<line x1="36.25" y1="272.40" x2="108.50" y2="272.40" stroke="#231f20" stroke-width="1.2"/>
<line x1="33.90" y1="207.50" x2="36.70" y2="207.50" stroke="#231f20" stroke-width="0.8"/>
<text x="31.60" y="209.66" font-size="6.96" stroke="#333" stroke-width="0.08" text-anchor="end" fill="#333" textLength="14.1" lengthAdjust="spacingAndGlyphs">7000</text>
<line x1="33.90" y1="216.20" x2="36.70" y2="216.20" stroke="#231f20" stroke-width="0.8"/>
<text x="31.60" y="218.36" font-size="6.96" stroke="#333" stroke-width="0.08" text-anchor="end" fill="#333" textLength="14.1" lengthAdjust="spacingAndGlyphs">6000</text>
<line x1="33.90" y1="225.10" x2="36.70" y2="225.10" stroke="#231f20" stroke-width="0.8"/>
<text x="31.60" y="227.26" font-size="6.96" stroke="#333" stroke-width="0.08" text-anchor="end" fill="#333" textLength="14.1" lengthAdjust="spacingAndGlyphs">5000</text>
<line x1="33.90" y1="233.30" x2="36.70" y2="233.30" stroke="#231f20" stroke-width="0.8"/>
<text x="31.60" y="235.46" font-size="6.96" stroke="#333" stroke-width="0.08" text-anchor="end" fill="#333" textLength="14.1" lengthAdjust="spacingAndGlyphs">2500</text>
<line x1="33.90" y1="241.00" x2="36.70" y2="241.00" stroke="#231f20" stroke-width="0.8"/>
<text x="31.60" y="243.16" font-size="6.96" stroke="#333" stroke-width="0.08" text-anchor="end" fill="#333" textLength="14.1" lengthAdjust="spacingAndGlyphs">2000</text>
<line x1="33.90" y1="248.80" x2="36.70" y2="248.80" stroke="#231f20" stroke-width="0.8"/>
<text x="31.60" y="250.96" font-size="6.96" stroke="#333" stroke-width="0.08" text-anchor="end" fill="#333" textLength="14.1" lengthAdjust="spacingAndGlyphs">1500</text>
<line x1="33.90" y1="256.70" x2="36.70" y2="256.70" stroke="#231f20" stroke-width="0.8"/>
<text x="31.60" y="258.86" font-size="6.96" stroke="#333" stroke-width="0.08" text-anchor="end" fill="#333" textLength="14.1" lengthAdjust="spacingAndGlyphs">1000</text>
<line x1="33.90" y1="264.40" x2="36.70" y2="264.40" stroke="#231f20" stroke-width="0.8"/>
<text x="31.60" y="266.56" font-size="6.96" stroke="#333" stroke-width="0.08" text-anchor="end" fill="#333" textLength="10.6" lengthAdjust="spacingAndGlyphs">500</text>
<line x1="33.90" y1="272.30" x2="36.70" y2="272.30" stroke="#231f20" stroke-width="0.8"/>
<text x="31.60" y="274.46" font-size="6.96" stroke="#333" stroke-width="0.08" text-anchor="end" fill="#333" textLength="3.5" lengthAdjust="spacingAndGlyphs">0</text>
<line x1="56.90" y1="272.40" x2="56.90" y2="274.40" stroke="#231f20" stroke-width="0.8"/>
<line x1="88.50" y1="272.40" x2="88.50" y2="274.40" stroke="#231f20" stroke-width="0.8"/>
<text x="56.90" y="281.96" font-size="6.96" stroke="#333" stroke-width="0.08" text-anchor="middle" fill="#333" textLength="18.5" lengthAdjust="spacingAndGlyphs">DMSO</text>
<text x="88.50" y="281.96" font-size="6.96" stroke="#333" stroke-width="0.08" text-anchor="middle" fill="#333" textLength="26.0" lengthAdjust="spacingAndGlyphs">Tolinapant</text>
<text x="76.55" y="203.90" font-size="7.2" stroke="#000" stroke-width="0.12" text-anchor="middle" font-weight="bold" fill="#000" textLength="19.3" lengthAdjust="spacingAndGlyphs">CD25</text>
<text x="41.00" y="217.97" font-size="6.03" stroke="#333" stroke-width="0.08" fill="#333" textLength="26.8" lengthAdjust="spacingAndGlyphs">* p=0.047</text>
<text transform="translate(12.72,240.60) rotate(-90)" font-size="6.72" text-anchor="middle" stroke="#333" stroke-width="0.14" textLength="65.5" lengthAdjust="spacingAndGlyphs" fill="#333">Mean fluorescence intensity</text>
<line x1="56.90" y1="248.40" x2="78.39" y2="226.50" stroke="#111" stroke-width="0.9"/>
<line x1="73.98" y1="231.00" x2="88.50" y2="216.20" stroke="#111" stroke-width="0.9"/>
<line x1="56.90" y1="254.20" x2="88.50" y2="250.80" stroke="#111" stroke-width="0.9"/>
<line x1="56.90" y1="257.80" x2="88.50" y2="243.90" stroke="#111" stroke-width="0.9"/>
<line x1="56.90" y1="257.80" x2="88.50" y2="238.80" stroke="#111" stroke-width="0.9"/>
<circle cx="56.90" cy="248.40" r="1.05" fill="#1f3e8c"/>
<circle cx="56.90" cy="254.20" r="1.05" fill="#1f3e8c"/>
<circle cx="56.90" cy="257.80" r="1.05" fill="#1f3e8c"/>
<circle cx="88.50" cy="216.20" r="1.05" fill="#d42026"/>
<circle cx="88.50" cy="238.80" r="1.05" fill="#d42026"/>
<circle cx="88.50" cy="243.90" r="1.05" fill="#d42026"/>
<circle cx="88.50" cy="250.80" r="1.05" fill="#d42026"/>
<line x1="138.20" y1="207.30" x2="138.20" y2="272.85" stroke="#231f20" stroke-width="1.2"/>
<line x1="137.75" y1="272.40" x2="213.00" y2="272.40" stroke="#231f20" stroke-width="1.2"/>
<line x1="135.40" y1="207.30" x2="138.20" y2="207.30" stroke="#231f20" stroke-width="0.8"/>
<text x="133.60" y="209.46" font-size="6.96" stroke="#333" stroke-width="0.08" text-anchor="end" fill="#333" textLength="14.1" lengthAdjust="spacingAndGlyphs">2000</text>
<line x1="135.40" y1="223.60" x2="138.20" y2="223.60" stroke="#231f20" stroke-width="0.8"/>
<text x="133.60" y="225.76" font-size="6.96" stroke="#333" stroke-width="0.08" text-anchor="end" fill="#333" textLength="14.1" lengthAdjust="spacingAndGlyphs">1500</text>
<line x1="135.40" y1="239.90" x2="138.20" y2="239.90" stroke="#231f20" stroke-width="0.8"/>
<text x="133.60" y="242.06" font-size="6.96" stroke="#333" stroke-width="0.08" text-anchor="end" fill="#333" textLength="14.1" lengthAdjust="spacingAndGlyphs">1000</text>
<line x1="135.40" y1="256.20" x2="138.20" y2="256.20" stroke="#231f20" stroke-width="0.8"/>
<text x="133.60" y="258.36" font-size="6.96" stroke="#333" stroke-width="0.08" text-anchor="end" fill="#333" textLength="10.6" lengthAdjust="spacingAndGlyphs">500</text>
<line x1="135.40" y1="272.40" x2="138.20" y2="272.40" stroke="#231f20" stroke-width="0.8"/>
<text x="133.60" y="274.56" font-size="6.96" stroke="#333" stroke-width="0.08" text-anchor="end" fill="#333" textLength="3.5" lengthAdjust="spacingAndGlyphs">0</text>
<line x1="160.80" y1="272.40" x2="160.80" y2="274.40" stroke="#231f20" stroke-width="0.8"/>
<line x1="192.00" y1="272.40" x2="192.00" y2="274.40" stroke="#231f20" stroke-width="0.8"/>
<text x="160.80" y="281.96" font-size="6.96" stroke="#333" stroke-width="0.08" text-anchor="middle" fill="#333" textLength="18.5" lengthAdjust="spacingAndGlyphs">DMSO</text>
<text x="192.00" y="281.96" font-size="6.96" stroke="#333" stroke-width="0.08" text-anchor="middle" fill="#333" textLength="26.0" lengthAdjust="spacingAndGlyphs">Tolinapant</text>
<text x="176.55" y="203.90" font-size="7.2" stroke="#000" stroke-width="0.12" text-anchor="middle" font-weight="bold" fill="#000" textLength="19.3" lengthAdjust="spacingAndGlyphs">CD40</text>
<text x="144.60" y="217.37" font-size="6.03" stroke="#333" stroke-width="0.08" fill="#333" textLength="27.7" lengthAdjust="spacingAndGlyphs">* p=0.042</text>
<text transform="translate(117.12,240.60) rotate(-90)" font-size="6.72" text-anchor="middle" stroke="#333" stroke-width="0.14" textLength="65.5" lengthAdjust="spacingAndGlyphs" fill="#333">Mean fluorescence intensity</text>
<line x1="160.80" y1="241.90" x2="192.00" y2="210.80" stroke="#111" stroke-width="0.9"/>
<line x1="160.80" y1="243.50" x2="192.00" y2="210.80" stroke="#111" stroke-width="0.9"/>
<line x1="160.80" y1="245.00" x2="192.00" y2="233.50" stroke="#111" stroke-width="0.9"/>
<line x1="160.80" y1="252.40" x2="192.00" y2="239.90" stroke="#111" stroke-width="0.9"/>
<line x1="160.80" y1="269.60" x2="192.00" y2="248.50" stroke="#111" stroke-width="0.9"/>
<circle cx="160.80" cy="241.90" r="1.05" fill="#1f3e8c"/>
<circle cx="160.80" cy="243.50" r="1.05" fill="#1f3e8c"/>
<circle cx="160.80" cy="245.00" r="1.05" fill="#1f3e8c"/>
<circle cx="160.80" cy="252.40" r="1.05" fill="#1f3e8c"/>
<circle cx="160.80" cy="269.60" r="1.05" fill="#1f3e8c"/>
<circle cx="192.00" cy="210.80" r="1.05" fill="#d42026"/>
<circle cx="192.00" cy="233.50" r="1.05" fill="#d42026"/>
<circle cx="192.00" cy="239.90" r="1.05" fill="#d42026"/>
<circle cx="192.00" cy="248.50" r="1.05" fill="#d42026"/>
<line x1="248.10" y1="209.20" x2="248.10" y2="272.35" stroke="#231f20" stroke-width="1.2"/>
<line x1="227.40" y1="232.80" x2="229.80" y2="229.20" stroke="#231f20" stroke-width="0.7"/>
<line x1="229.20" y1="233.40" x2="231.60" y2="229.80" stroke="#231f20" stroke-width="0.7"/>
<line x1="247.65" y1="271.90" x2="318.80" y2="271.90" stroke="#231f20" stroke-width="1.2"/>
<line x1="245.30" y1="209.20" x2="248.10" y2="209.20" stroke="#231f20" stroke-width="0.8"/>
<text x="243.80" y="211.11" font-size="6.15" stroke="#333" stroke-width="0.08" text-anchor="end" fill="#333" textLength="15.6" lengthAdjust="spacingAndGlyphs">45000</text>
<line x1="245.30" y1="214.50" x2="248.10" y2="214.50" stroke="#231f20" stroke-width="0.8"/>
<text x="243.80" y="216.41" font-size="6.15" stroke="#333" stroke-width="0.08" text-anchor="end" fill="#333" textLength="15.6" lengthAdjust="spacingAndGlyphs">40000</text>
<line x1="245.30" y1="219.90" x2="248.10" y2="219.90" stroke="#231f20" stroke-width="0.8"/>
<text x="243.80" y="221.81" font-size="6.15" stroke="#333" stroke-width="0.08" text-anchor="end" fill="#333" textLength="15.6" lengthAdjust="spacingAndGlyphs">35000</text>
<line x1="245.30" y1="225.30" x2="248.10" y2="225.30" stroke="#231f20" stroke-width="0.8"/>
<text x="243.80" y="227.21" font-size="6.15" stroke="#333" stroke-width="0.08" text-anchor="end" fill="#333" textLength="15.6" lengthAdjust="spacingAndGlyphs">30000</text>
<line x1="245.30" y1="234.70" x2="248.10" y2="234.70" stroke="#231f20" stroke-width="0.8"/>
<text x="243.80" y="236.61" font-size="6.15" stroke="#333" stroke-width="0.08" text-anchor="end" fill="#333" textLength="15.6" lengthAdjust="spacingAndGlyphs">15000</text>
<line x1="245.30" y1="247.30" x2="248.10" y2="247.30" stroke="#231f20" stroke-width="0.8"/>
<text x="243.80" y="249.21" font-size="6.15" stroke="#333" stroke-width="0.08" text-anchor="end" fill="#333" textLength="15.6" lengthAdjust="spacingAndGlyphs">10000</text>
<line x1="245.30" y1="259.60" x2="248.10" y2="259.60" stroke="#231f20" stroke-width="0.8"/>
<text x="243.80" y="261.51" font-size="6.15" stroke="#333" stroke-width="0.08" text-anchor="end" fill="#333" textLength="12.5" lengthAdjust="spacingAndGlyphs">5000</text>
<line x1="245.30" y1="271.90" x2="248.10" y2="271.90" stroke="#231f20" stroke-width="0.8"/>
<text x="243.80" y="273.81" font-size="6.15" stroke="#333" stroke-width="0.08" text-anchor="end" fill="#333" textLength="3.1" lengthAdjust="spacingAndGlyphs">0</text>
<line x1="268.10" y1="271.90" x2="268.10" y2="273.90" stroke="#231f20" stroke-width="0.8"/>
<line x1="298.80" y1="271.90" x2="298.80" y2="273.90" stroke="#231f20" stroke-width="0.8"/>
<text x="268.10" y="281.96" font-size="6.96" stroke="#333" stroke-width="0.08" text-anchor="middle" fill="#333" textLength="18.5" lengthAdjust="spacingAndGlyphs">DMSO</text>
<text x="298.80" y="281.96" font-size="6.96" stroke="#333" stroke-width="0.08" text-anchor="middle" fill="#333" textLength="26.0" lengthAdjust="spacingAndGlyphs">Tolinapant</text>
<text x="284.60" y="203.80" font-size="7.2" stroke="#000" stroke-width="0.12" text-anchor="middle" font-weight="bold" fill="#000" textLength="30.0" lengthAdjust="spacingAndGlyphs">HLA-DR</text>
<text x="250.40" y="217.37" font-size="6.03" stroke="#333" stroke-width="0.08" fill="#333" textLength="29.2" lengthAdjust="spacingAndGlyphs">** p=0.002</text>
<text transform="translate(221.42,240.60) rotate(-90)" font-size="6.72" text-anchor="middle" stroke="#333" stroke-width="0.14" textLength="65.5" lengthAdjust="spacingAndGlyphs" fill="#333">Mean fluorescence intensity</text>
<line x1="268.10" y1="230.10" x2="298.80" y2="213.80" stroke="#111" stroke-width="0.9"/>
<line x1="268.10" y1="251.60" x2="298.80" y2="244.70" stroke="#111" stroke-width="0.9"/>
<line x1="268.10" y1="253.20" x2="298.80" y2="245.50" stroke="#111" stroke-width="0.9"/>
<line x1="268.10" y1="254.20" x2="298.80" y2="246.20" stroke="#111" stroke-width="0.9"/>
<line x1="268.10" y1="256.10" x2="298.80" y2="249.30" stroke="#111" stroke-width="0.9"/>
<circle cx="268.10" cy="230.10" r="1.05" fill="#1f3e8c"/>
<circle cx="268.10" cy="251.60" r="1.05" fill="#1f3e8c"/>
<circle cx="268.10" cy="253.20" r="1.05" fill="#1f3e8c"/>
<circle cx="268.10" cy="254.20" r="1.05" fill="#1f3e8c"/>
<circle cx="268.10" cy="256.10" r="1.05" fill="#1f3e8c"/>
<circle cx="298.80" cy="213.80" r="1.05" fill="#d42026"/>
<circle cx="298.80" cy="244.70" r="1.05" fill="#d42026"/>
<circle cx="298.80" cy="245.50" r="1.05" fill="#d42026"/>
<circle cx="298.80" cy="246.20" r="1.05" fill="#d42026"/>
<circle cx="298.80" cy="249.30" r="1.05" fill="#d42026"/>
<text x="325.60" y="170.80" font-size="10.4" font-weight="bold" fill="#000" stroke="#000" stroke-width="0.45">D</text>
<line x1="348.20" y1="178.80" x2="348.20" y2="224.25" stroke="#231f20" stroke-width="1.2"/>
<line x1="347.75" y1="223.80" x2="415.40" y2="223.80" stroke="#231f20" stroke-width="1.2"/>
<line x1="345.80" y1="178.80" x2="348.20" y2="178.80" stroke="#231f20" stroke-width="0.8"/>
<text x="344.60" y="180.35" font-size="4.99" stroke="#333" stroke-width="0.08" text-anchor="end" fill="#333" textLength="12.7" lengthAdjust="spacingAndGlyphs">20000</text>
<line x1="345.80" y1="190.30" x2="348.20" y2="190.30" stroke="#231f20" stroke-width="0.8"/>
<text x="344.60" y="191.85" font-size="4.99" stroke="#333" stroke-width="0.08" text-anchor="end" fill="#333" textLength="12.7" lengthAdjust="spacingAndGlyphs">15000</text>
<line x1="345.80" y1="201.50" x2="348.20" y2="201.50" stroke="#231f20" stroke-width="0.8"/>
<text x="344.60" y="203.05" font-size="4.99" stroke="#333" stroke-width="0.08" text-anchor="end" fill="#333" textLength="12.7" lengthAdjust="spacingAndGlyphs">10000</text>
<line x1="345.80" y1="212.80" x2="348.20" y2="212.80" stroke="#231f20" stroke-width="0.8"/>
<text x="344.60" y="214.35" font-size="4.99" stroke="#333" stroke-width="0.08" text-anchor="end" fill="#333" textLength="10.1" lengthAdjust="spacingAndGlyphs">5000</text>
<line x1="345.80" y1="223.80" x2="348.20" y2="223.80" stroke="#231f20" stroke-width="0.8"/>
<text x="344.60" y="225.35" font-size="4.99" stroke="#333" stroke-width="0.08" text-anchor="end" fill="#333" textLength="2.5" lengthAdjust="spacingAndGlyphs">0</text>
<line x1="367.70" y1="223.80" x2="367.70" y2="225.80" stroke="#231f20" stroke-width="0.8"/>
<line x1="396.50" y1="223.80" x2="396.50" y2="225.80" stroke="#231f20" stroke-width="0.8"/>
<text x="367.70" y="232.45" font-size="4.99" stroke="#333" stroke-width="0.08" text-anchor="middle" fill="#333" textLength="12.5" lengthAdjust="spacingAndGlyphs">DMSO</text>
<text x="396.50" y="232.45" font-size="4.99" stroke="#333" stroke-width="0.08" text-anchor="middle" fill="#333" textLength="18.5" lengthAdjust="spacingAndGlyphs">Tolinapant</text>
<text x="381.85" y="174.90" font-size="5.6" stroke="#000" stroke-width="0.12" text-anchor="middle" font-weight="bold" fill="#000" textLength="27.7" lengthAdjust="spacingAndGlyphs">CD86_M1</text>
<text x="390.00" y="185.74" font-size="4.64" stroke="#333" stroke-width="0.08" fill="#333" textLength="24.6" lengthAdjust="spacingAndGlyphs">** p=0.0007</text>
<text transform="translate(328.78,201.20) rotate(-90)" font-size="4.8" text-anchor="middle" stroke="#333" stroke-width="0.14" textLength="44.0" lengthAdjust="spacingAndGlyphs" fill="#333">Mean fluorescence intensity</text>
<line x1="367.70" y1="213.50" x2="396.50" y2="189.70" stroke="#111" stroke-width="0.9"/>
<line x1="367.70" y1="216.90" x2="396.50" y2="197.20" stroke="#111" stroke-width="0.9"/>
<line x1="367.70" y1="218.20" x2="396.50" y2="203.80" stroke="#111" stroke-width="0.9"/>
<line x1="367.70" y1="221.10" x2="396.50" y2="215.80" stroke="#111" stroke-width="0.9"/>
<circle cx="367.70" cy="213.50" r="1.0" fill="#1f3e8c"/>
<circle cx="367.70" cy="216.90" r="1.0" fill="#1f3e8c"/>
<circle cx="367.70" cy="218.20" r="1.0" fill="#1f3e8c"/>
<circle cx="367.70" cy="221.10" r="1.0" fill="#1f3e8c"/>
<circle cx="396.50" cy="189.70" r="1.0" fill="#d42026"/>
<circle cx="396.50" cy="197.20" r="1.0" fill="#d42026"/>
<circle cx="396.50" cy="203.80" r="1.0" fill="#d42026"/>
<circle cx="396.50" cy="215.80" r="1.0" fill="#d42026"/>
<line x1="444.90" y1="179.20" x2="444.90" y2="224.25" stroke="#231f20" stroke-width="1.2"/>
<line x1="444.45" y1="223.80" x2="512.50" y2="223.80" stroke="#231f20" stroke-width="1.2"/>
<line x1="442.50" y1="179.20" x2="444.90" y2="179.20" stroke="#231f20" stroke-width="0.8"/>
<text x="441.40" y="180.75" font-size="4.99" stroke="#333" stroke-width="0.08" text-anchor="end" fill="#333" textLength="12.7" lengthAdjust="spacingAndGlyphs">20000</text>
<line x1="442.50" y1="190.40" x2="444.90" y2="190.40" stroke="#231f20" stroke-width="0.8"/>
<text x="441.40" y="191.95" font-size="4.99" stroke="#333" stroke-width="0.08" text-anchor="end" fill="#333" textLength="12.7" lengthAdjust="spacingAndGlyphs">15000</text>
<line x1="442.50" y1="201.60" x2="444.90" y2="201.60" stroke="#231f20" stroke-width="0.8"/>
<text x="441.40" y="203.15" font-size="4.99" stroke="#333" stroke-width="0.08" text-anchor="end" fill="#333" textLength="12.7" lengthAdjust="spacingAndGlyphs">10000</text>
<line x1="442.50" y1="212.70" x2="444.90" y2="212.70" stroke="#231f20" stroke-width="0.8"/>
<text x="441.40" y="214.25" font-size="4.99" stroke="#333" stroke-width="0.08" text-anchor="end" fill="#333" textLength="10.1" lengthAdjust="spacingAndGlyphs">5000</text>
<line x1="442.50" y1="223.80" x2="444.90" y2="223.80" stroke="#231f20" stroke-width="0.8"/>
<text x="441.40" y="225.35" font-size="4.99" stroke="#333" stroke-width="0.08" text-anchor="end" fill="#333" textLength="2.5" lengthAdjust="spacingAndGlyphs">0</text>
<line x1="464.30" y1="223.80" x2="464.30" y2="225.80" stroke="#231f20" stroke-width="0.8"/>
<line x1="493.20" y1="223.80" x2="493.20" y2="225.80" stroke="#231f20" stroke-width="0.8"/>
<text x="464.30" y="232.75" font-size="4.99" stroke="#333" stroke-width="0.08" text-anchor="middle" fill="#333" textLength="14.5" lengthAdjust="spacingAndGlyphs">Vehicle</text>
<text x="493.20" y="232.75" font-size="4.99" stroke="#333" stroke-width="0.08" text-anchor="middle" fill="#333" textLength="18.5" lengthAdjust="spacingAndGlyphs">Tolinapant</text>
<text x="478.80" y="175.20" font-size="5.6" stroke="#000" stroke-width="0.12" text-anchor="middle" font-weight="bold" fill="#000" textLength="31.6" lengthAdjust="spacingAndGlyphs">CD86_M2a</text>
<text x="488.30" y="182.54" font-size="4.64" stroke="#333" stroke-width="0.08" fill="#333" textLength="22.4" lengthAdjust="spacingAndGlyphs">* p=0.0132</text>
<text transform="translate(425.98,201.40) rotate(-90)" font-size="4.8" text-anchor="middle" stroke="#333" stroke-width="0.14" textLength="44.0" lengthAdjust="spacingAndGlyphs" fill="#333">Mean fluorescence intensity</text>
<line x1="464.30" y1="202.70" x2="493.20" y2="186.50" stroke="#111" stroke-width="0.9"/>
<line x1="464.30" y1="213.90" x2="493.20" y2="206.20" stroke="#111" stroke-width="0.9"/>
<line x1="464.30" y1="216.50" x2="493.20" y2="212.20" stroke="#111" stroke-width="0.9"/>
<line x1="464.30" y1="217.30" x2="493.20" y2="215.80" stroke="#111" stroke-width="0.9"/>
<circle cx="464.30" cy="202.70" r="1.0" fill="#1f3e8c"/>
<circle cx="464.30" cy="213.90" r="1.0" fill="#1f3e8c"/>
<circle cx="464.30" cy="216.50" r="1.0" fill="#1f3e8c"/>
<circle cx="464.30" cy="217.30" r="1.0" fill="#1f3e8c"/>
<circle cx="493.20" cy="186.50" r="1.0" fill="#d42026"/>
<circle cx="493.20" cy="206.20" r="1.0" fill="#d42026"/>
<circle cx="493.20" cy="212.20" r="1.0" fill="#d42026"/>
<circle cx="493.20" cy="215.80" r="1.0" fill="#d42026"/>
<line x1="347.70" y1="248.50" x2="347.70" y2="294.35" stroke="#231f20" stroke-width="1.2"/>
<line x1="347.25" y1="293.90" x2="416.20" y2="293.90" stroke="#231f20" stroke-width="1.2"/>
<line x1="345.30" y1="248.50" x2="347.70" y2="248.50" stroke="#231f20" stroke-width="0.8"/>
<text x="344.20" y="250.05" font-size="4.99" stroke="#333" stroke-width="0.08" text-anchor="end" fill="#333" textLength="10.1" lengthAdjust="spacingAndGlyphs">4000</text>
<line x1="345.30" y1="259.90" x2="347.70" y2="259.90" stroke="#231f20" stroke-width="0.8"/>
<text x="344.20" y="261.45" font-size="4.99" stroke="#333" stroke-width="0.08" text-anchor="end" fill="#333" textLength="10.1" lengthAdjust="spacingAndGlyphs">3000</text>
<line x1="345.30" y1="271.50" x2="347.70" y2="271.50" stroke="#231f20" stroke-width="0.8"/>
<text x="344.20" y="273.05" font-size="4.99" stroke="#333" stroke-width="0.08" text-anchor="end" fill="#333" textLength="10.1" lengthAdjust="spacingAndGlyphs">2000</text>
<line x1="345.30" y1="282.70" x2="347.70" y2="282.70" stroke="#231f20" stroke-width="0.8"/>
<text x="344.20" y="284.25" font-size="4.99" stroke="#333" stroke-width="0.08" text-anchor="end" fill="#333" textLength="10.1" lengthAdjust="spacingAndGlyphs">1000</text>
<line x1="345.30" y1="293.90" x2="347.70" y2="293.90" stroke="#231f20" stroke-width="0.8"/>
<text x="344.20" y="295.45" font-size="4.99" stroke="#333" stroke-width="0.08" text-anchor="end" fill="#333" textLength="2.5" lengthAdjust="spacingAndGlyphs">0</text>
<line x1="368.00" y1="293.90" x2="368.00" y2="295.90" stroke="#231f20" stroke-width="0.8"/>
<line x1="396.90" y1="293.90" x2="396.90" y2="295.90" stroke="#231f20" stroke-width="0.8"/>
<text x="368.00" y="302.45" font-size="4.99" stroke="#333" stroke-width="0.08" text-anchor="middle" fill="#333" textLength="14.5" lengthAdjust="spacingAndGlyphs">Vehicle</text>
<text x="396.90" y="302.45" font-size="4.99" stroke="#333" stroke-width="0.08" text-anchor="middle" fill="#333" textLength="18.5" lengthAdjust="spacingAndGlyphs">Tolinapant</text>
<text x="382.10" y="245.10" font-size="5.6" stroke="#000" stroke-width="0.12" text-anchor="middle" font-weight="bold" fill="#000" textLength="27.2" lengthAdjust="spacingAndGlyphs">CD40_M1</text>
<text x="392.00" y="253.04" font-size="4.64" stroke="#333" stroke-width="0.08" fill="#333" textLength="23.0" lengthAdjust="spacingAndGlyphs">* p=0.0443</text>
<text transform="translate(329.28,271.20) rotate(-90)" font-size="4.8" text-anchor="middle" stroke="#333" stroke-width="0.14" textLength="44.0" lengthAdjust="spacingAndGlyphs" fill="#333">Mean fluorescence intensity</text>
<line x1="368.00" y1="265.30" x2="396.90" y2="256.80" stroke="#111" stroke-width="0.9"/>
<line x1="368.00" y1="268.80" x2="396.90" y2="261.90" stroke="#111" stroke-width="0.9"/>
<line x1="368.00" y1="271.50" x2="396.90" y2="259.60" stroke="#111" stroke-width="0.9"/>
<line x1="368.00" y1="277.30" x2="396.90" y2="263.20" stroke="#111" stroke-width="0.9"/>
<circle cx="368.00" cy="265.30" r="1.0" fill="#1f3e8c"/>
<circle cx="368.00" cy="268.80" r="1.0" fill="#1f3e8c"/>
<circle cx="368.00" cy="271.50" r="1.0" fill="#1f3e8c"/>
<circle cx="368.00" cy="277.30" r="1.0" fill="#1f3e8c"/>
<circle cx="396.90" cy="256.80" r="1.0" fill="#d42026"/>
<circle cx="396.90" cy="259.60" r="1.0" fill="#d42026"/>
<circle cx="396.90" cy="261.90" r="1.0" fill="#d42026"/>
<circle cx="396.90" cy="263.20" r="1.0" fill="#d42026"/>
<line x1="445.40" y1="248.50" x2="445.40" y2="294.35" stroke="#231f20" stroke-width="1.2"/>
<line x1="444.95" y1="293.90" x2="512.30" y2="293.90" stroke="#231f20" stroke-width="1.2"/>
<line x1="443.00" y1="248.50" x2="445.40" y2="248.50" stroke="#231f20" stroke-width="0.8"/>
<text x="441.60" y="250.05" font-size="4.99" stroke="#333" stroke-width="0.08" text-anchor="end" fill="#333" textLength="10.1" lengthAdjust="spacingAndGlyphs">2000</text>
<line x1="443.00" y1="259.90" x2="445.40" y2="259.90" stroke="#231f20" stroke-width="0.8"/>
<text x="441.60" y="261.45" font-size="4.99" stroke="#333" stroke-width="0.08" text-anchor="end" fill="#333" textLength="10.1" lengthAdjust="spacingAndGlyphs">1500</text>
<line x1="443.00" y1="271.50" x2="445.40" y2="271.50" stroke="#231f20" stroke-width="0.8"/>
<text x="441.60" y="273.05" font-size="4.99" stroke="#333" stroke-width="0.08" text-anchor="end" fill="#333" textLength="10.1" lengthAdjust="spacingAndGlyphs">1000</text>
<line x1="443.00" y1="282.70" x2="445.40" y2="282.70" stroke="#231f20" stroke-width="0.8"/>
<text x="441.60" y="284.25" font-size="4.99" stroke="#333" stroke-width="0.08" text-anchor="end" fill="#333" textLength="7.6" lengthAdjust="spacingAndGlyphs">500</text>
<line x1="443.00" y1="293.90" x2="445.40" y2="293.90" stroke="#231f20" stroke-width="0.8"/>
<text x="441.60" y="295.45" font-size="4.99" stroke="#333" stroke-width="0.08" text-anchor="end" fill="#333" textLength="2.5" lengthAdjust="spacingAndGlyphs">0</text>
<line x1="464.60" y1="293.90" x2="464.60" y2="295.90" stroke="#231f20" stroke-width="0.8"/>
<line x1="493.40" y1="293.90" x2="493.40" y2="295.90" stroke="#231f20" stroke-width="0.8"/>
<text x="464.60" y="302.75" font-size="4.99" stroke="#333" stroke-width="0.08" text-anchor="middle" fill="#333" textLength="14.5" lengthAdjust="spacingAndGlyphs">Vehicle</text>
<text x="493.40" y="302.75" font-size="4.99" stroke="#333" stroke-width="0.08" text-anchor="middle" fill="#333" textLength="18.5" lengthAdjust="spacingAndGlyphs">Tolinapant</text>
<text x="478.80" y="245.10" font-size="5.6" stroke="#000" stroke-width="0.12" text-anchor="middle" font-weight="bold" fill="#000" textLength="31.6" lengthAdjust="spacingAndGlyphs">CD40_M2a</text>
<text x="448.50" y="255.34" font-size="4.64" stroke="#333" stroke-width="0.08" fill="#333" textLength="20.5" lengthAdjust="spacingAndGlyphs">* p=0.029</text>
<text transform="translate(426.18,271.20) rotate(-90)" font-size="4.8" text-anchor="middle" stroke="#333" stroke-width="0.14" textLength="44.0" lengthAdjust="spacingAndGlyphs" fill="#333">Mean fluorescence intensity</text>
<line x1="464.60" y1="271.20" x2="493.40" y2="252.40" stroke="#111" stroke-width="0.9"/>
<line x1="464.60" y1="276.50" x2="493.40" y2="258.80" stroke="#111" stroke-width="0.9"/>
<line x1="464.60" y1="276.50" x2="493.40" y2="266.80" stroke="#111" stroke-width="0.9"/>
<line x1="464.60" y1="288.80" x2="493.40" y2="276.10" stroke="#111" stroke-width="0.9"/>
<circle cx="464.60" cy="271.20" r="1.0" fill="#1f3e8c"/>
<circle cx="464.60" cy="276.50" r="1.0" fill="#1f3e8c"/>
<circle cx="464.60" cy="276.50" r="1.0" fill="#1f3e8c"/>
<circle cx="464.60" cy="288.80" r="1.0" fill="#1f3e8c"/>
<circle cx="493.40" cy="252.40" r="1.0" fill="#d42026"/>
<circle cx="493.40" cy="258.80" r="1.0" fill="#d42026"/>
<circle cx="493.40" cy="266.80" r="1.0" fill="#d42026"/>
<circle cx="493.40" cy="276.10" r="1.0" fill="#d42026"/>
<text x="20.80" y="313.40" font-size="10.4" font-weight="bold" fill="#000" stroke="#000" stroke-width="0.45">E</text>
<line x1="43.40" y1="324.30" x2="43.40" y2="380.25" stroke="#231f20" stroke-width="1.2"/>
<line x1="42.95" y1="379.80" x2="127.50" y2="379.80" stroke="#231f20" stroke-width="1.2"/>
<line x1="40.20" y1="324.30" x2="43.40" y2="324.30" stroke="#231f20" stroke-width="0.85"/>
<text x="39.10" y="326.42" font-size="6.84" stroke="#333" stroke-width="0.08" text-anchor="end" fill="#333" textLength="10.4" lengthAdjust="spacingAndGlyphs">120</text>
<line x1="40.20" y1="333.55" x2="43.40" y2="333.55" stroke="#231f20" stroke-width="0.85"/>
<text x="39.10" y="335.67" font-size="6.84" stroke="#333" stroke-width="0.08" text-anchor="end" fill="#333" textLength="10.4" lengthAdjust="spacingAndGlyphs">100</text>
<line x1="40.20" y1="342.80" x2="43.40" y2="342.80" stroke="#231f20" stroke-width="0.85"/>
<text x="39.10" y="344.92" font-size="6.84" stroke="#333" stroke-width="0.08" text-anchor="end" fill="#333" textLength="7.0" lengthAdjust="spacingAndGlyphs">80</text>
<line x1="40.20" y1="352.05" x2="43.40" y2="352.05" stroke="#231f20" stroke-width="0.85"/>
<text x="39.10" y="354.17" font-size="6.84" stroke="#333" stroke-width="0.08" text-anchor="end" fill="#333" textLength="7.0" lengthAdjust="spacingAndGlyphs">60</text>
<line x1="40.20" y1="361.30" x2="43.40" y2="361.30" stroke="#231f20" stroke-width="0.85"/>
<text x="39.10" y="363.42" font-size="6.84" stroke="#333" stroke-width="0.08" text-anchor="end" fill="#333" textLength="7.0" lengthAdjust="spacingAndGlyphs">40</text>
<line x1="40.20" y1="370.55" x2="43.40" y2="370.55" stroke="#231f20" stroke-width="0.85"/>
<text x="39.10" y="372.67" font-size="6.84" stroke="#333" stroke-width="0.08" text-anchor="end" fill="#333" textLength="7.0" lengthAdjust="spacingAndGlyphs">20</text>
<line x1="40.20" y1="379.80" x2="43.40" y2="379.80" stroke="#231f20" stroke-width="0.85"/>
<text x="39.10" y="381.92" font-size="6.84" stroke="#333" stroke-width="0.08" text-anchor="end" fill="#333" textLength="3.5" lengthAdjust="spacingAndGlyphs">0</text>
<line x1="43.27" y1="379.80" x2="43.27" y2="382.00" stroke="#231f20" stroke-width="0.8"/>
<text x="43.27" y="389.29" font-size="6.73" stroke="#333" stroke-width="0.08" text-anchor="middle" fill="#333" textLength="7.0" lengthAdjust="spacingAndGlyphs">−4</text>
<line x1="57.30" y1="379.80" x2="57.30" y2="382.00" stroke="#231f20" stroke-width="0.8"/>
<text x="57.30" y="389.29" font-size="6.73" stroke="#333" stroke-width="0.08" text-anchor="middle" fill="#333" textLength="7.0" lengthAdjust="spacingAndGlyphs">−3</text>
<line x1="71.33" y1="379.80" x2="71.33" y2="382.00" stroke="#231f20" stroke-width="0.8"/>
<text x="71.33" y="389.29" font-size="6.73" stroke="#333" stroke-width="0.08" text-anchor="middle" fill="#333" textLength="7.0" lengthAdjust="spacingAndGlyphs">−2</text>
<line x1="85.36" y1="379.80" x2="85.36" y2="382.00" stroke="#231f20" stroke-width="0.8"/>
<text x="85.36" y="389.29" font-size="6.73" stroke="#333" stroke-width="0.08" text-anchor="middle" fill="#333" textLength="7.0" lengthAdjust="spacingAndGlyphs">−1</text>
<line x1="99.39" y1="379.80" x2="99.39" y2="382.00" stroke="#231f20" stroke-width="0.8"/>
<text x="99.39" y="389.29" font-size="6.73" stroke="#333" stroke-width="0.08" text-anchor="middle" fill="#333" textLength="3.4" lengthAdjust="spacingAndGlyphs">0</text>
<line x1="113.42" y1="379.80" x2="113.42" y2="382.00" stroke="#231f20" stroke-width="0.8"/>
<text x="113.42" y="389.29" font-size="6.73" stroke="#333" stroke-width="0.08" text-anchor="middle" fill="#333" textLength="3.4" lengthAdjust="spacingAndGlyphs">1</text>
<line x1="127.45" y1="379.80" x2="127.45" y2="382.00" stroke="#231f20" stroke-width="0.8"/>
<text x="127.45" y="389.29" font-size="6.73" stroke="#333" stroke-width="0.08" text-anchor="middle" fill="#333" textLength="3.4" lengthAdjust="spacingAndGlyphs">2</text>
<text transform="translate(15.38,347.50) rotate(-90)" font-size="7.2" text-anchor="middle" stroke="#333" stroke-width="0.14" textLength="28.6" lengthAdjust="spacingAndGlyphs" fill="#333">Proliferation</text>
<text transform="translate(24.48,347.50) rotate(-90)" font-size="7.2" text-anchor="middle" stroke="#333" stroke-width="0.14" textLength="42.5" lengthAdjust="spacingAndGlyphs" fill="#333">(% DMSO control)</text>
<text x="57.00" y="398.70" font-size="6.8" fill="#333" stroke="#333" stroke-width="0.08" textLength="57.0" lengthAdjust="spacingAndGlyphs">Log<tspan font-size="3.8" dy="1.5">10</tspan><tspan dy="-1.5"> [Tolinapant] (μM)</tspan></text>
<path d="M57.30,335.03 L58.24,335.05 L59.17,335.08 L60.11,335.12 L61.04,335.16 L61.98,335.22 L62.91,335.29 L63.85,335.38 L64.78,335.49 L65.72,335.63 L66.65,335.81 L67.59,336.02 L68.52,336.29 L69.46,336.62 L70.39,337.02 L71.33,337.51 L72.27,338.09 L73.20,338.79 L74.14,339.62 L75.07,340.57 L76.01,341.67 L76.94,342.89 L77.88,344.24 L78.81,345.68 L79.75,347.19 L80.68,348.74 L81.62,350.27 L82.55,351.75 L83.49,353.15 L84.42,354.43 L85.36,355.60 L86.30,356.62 L87.23,357.51 L88.17,358.27 L89.10,358.91 L90.04,359.45 L90.97,359.89 L91.91,360.25 L92.84,360.55 L93.78,360.79 L94.71,360.98 L95.65,361.14 L96.58,361.27 L97.52,361.37 L98.45,361.45 L99.39,361.51 L100.33,361.56 L101.26,361.60 L102.20,361.64 L103.13,361.66 L104.07,361.68 L105.00,361.70 L105.94,361.71 L106.87,361.72 L107.81,361.73 L108.74,361.74 L109.68,361.74 L110.61,361.75 L111.55,361.75 L112.48,361.75 L113.42,361.75" fill="none" stroke="#cf2a2a" stroke-width="1.3" stroke-linejoin="round" stroke-linecap="round"/>
<path d="M57.30,335.51 L58.24,335.67 L59.17,335.87 L60.11,336.12 L61.04,336.44 L61.98,336.84 L62.91,337.34 L63.85,337.96 L64.78,338.73 L65.72,339.67 L66.65,340.82 L67.59,342.19 L68.52,343.81 L69.46,345.69 L70.39,347.82 L71.33,350.19 L72.27,352.75 L73.20,355.45 L74.14,358.19 L75.07,360.92 L76.01,363.54 L76.94,365.99 L77.88,368.22 L78.81,370.21 L79.75,371.93 L80.68,373.40 L81.62,374.63 L82.55,375.65 L83.49,376.49 L84.42,377.17 L85.36,377.71 L86.30,378.15 L87.23,378.50 L88.17,378.78 L89.10,379.00 L90.04,379.17 L90.97,379.30 L91.91,379.41 L92.84,379.50 L93.78,379.56 L94.71,379.61 L95.65,379.65 L96.58,379.69 L97.52,379.71 L98.45,379.73 L99.39,379.75 L100.33,379.76 L101.26,379.77 L102.20,379.77 L103.13,379.78 L104.07,379.78 L105.00,379.79 L105.94,379.79 L106.87,379.79 L107.81,379.79 L108.74,379.80 L109.68,379.80 L110.61,379.80 L111.55,379.80 L112.48,379.80 L113.42,379.80" fill="none" stroke="#22438a" stroke-width="1.3" stroke-linejoin="round" stroke-linecap="round"/>
<line x1="57.30" y1="333.09" x2="57.30" y2="337.71" stroke="#cf2a2a" stroke-width="0.8"/>
<line x1="55.70" y1="333.09" x2="58.90" y2="333.09" stroke="#cf2a2a" stroke-width="0.8"/>
<line x1="55.70" y1="337.71" x2="58.90" y2="337.71" stroke="#cf2a2a" stroke-width="0.8"/>
<circle cx="57.30" cy="335.40" r="1.1" fill="#cf2a2a"/>
<line x1="64.31" y1="334.01" x2="64.31" y2="336.79" stroke="#cf2a2a" stroke-width="0.8"/>
<line x1="62.71" y1="334.01" x2="65.91" y2="334.01" stroke="#cf2a2a" stroke-width="0.8"/>
<line x1="62.71" y1="336.79" x2="65.91" y2="336.79" stroke="#cf2a2a" stroke-width="0.8"/>
<circle cx="64.31" cy="335.40" r="1.1" fill="#cf2a2a"/>
<line x1="71.33" y1="334.48" x2="71.33" y2="340.03" stroke="#cf2a2a" stroke-width="0.8"/>
<line x1="69.73" y1="334.48" x2="72.93" y2="334.48" stroke="#cf2a2a" stroke-width="0.8"/>
<line x1="69.73" y1="340.03" x2="72.93" y2="340.03" stroke="#cf2a2a" stroke-width="0.8"/>
<circle cx="71.33" cy="337.25" r="1.1" fill="#cf2a2a"/>
<line x1="78.34" y1="341.88" x2="78.34" y2="343.73" stroke="#cf2a2a" stroke-width="0.8"/>
<line x1="76.75" y1="341.88" x2="79.94" y2="341.88" stroke="#cf2a2a" stroke-width="0.8"/>
<line x1="76.75" y1="343.73" x2="79.94" y2="343.73" stroke="#cf2a2a" stroke-width="0.8"/>
<circle cx="78.34" cy="342.80" r="1.1" fill="#cf2a2a"/>
<line x1="85.36" y1="352.05" x2="85.36" y2="356.68" stroke="#cf2a2a" stroke-width="0.8"/>
<line x1="83.76" y1="352.05" x2="86.96" y2="352.05" stroke="#cf2a2a" stroke-width="0.8"/>
<line x1="83.76" y1="356.68" x2="86.96" y2="356.68" stroke="#cf2a2a" stroke-width="0.8"/>
<circle cx="85.36" cy="354.36" r="1.1" fill="#cf2a2a"/>
<line x1="92.38" y1="356.21" x2="92.38" y2="358.99" stroke="#cf2a2a" stroke-width="0.8"/>
<line x1="90.78" y1="356.21" x2="93.97" y2="356.21" stroke="#cf2a2a" stroke-width="0.8"/>
<line x1="90.78" y1="358.99" x2="93.97" y2="358.99" stroke="#cf2a2a" stroke-width="0.8"/>
<circle cx="92.38" cy="357.60" r="1.1" fill="#cf2a2a"/>
<line x1="99.39" y1="359.45" x2="99.39" y2="362.23" stroke="#cf2a2a" stroke-width="0.8"/>
<line x1="97.79" y1="359.45" x2="100.99" y2="359.45" stroke="#cf2a2a" stroke-width="0.8"/>
<line x1="97.79" y1="362.23" x2="100.99" y2="362.23" stroke="#cf2a2a" stroke-width="0.8"/>
<circle cx="99.39" cy="360.84" r="1.1" fill="#cf2a2a"/>
<line x1="106.41" y1="359.45" x2="106.41" y2="362.23" stroke="#cf2a2a" stroke-width="0.8"/>
<line x1="104.81" y1="359.45" x2="108.00" y2="359.45" stroke="#cf2a2a" stroke-width="0.8"/>
<line x1="104.81" y1="362.23" x2="108.00" y2="362.23" stroke="#cf2a2a" stroke-width="0.8"/>
<circle cx="106.41" cy="360.84" r="1.1" fill="#cf2a2a"/>
<line x1="113.42" y1="363.15" x2="113.42" y2="365.00" stroke="#cf2a2a" stroke-width="0.8"/>
<line x1="111.82" y1="363.15" x2="115.02" y2="363.15" stroke="#cf2a2a" stroke-width="0.8"/>
<line x1="111.82" y1="365.00" x2="115.02" y2="365.00" stroke="#cf2a2a" stroke-width="0.8"/>
<circle cx="113.42" cy="364.07" r="1.1" fill="#cf2a2a"/>
<line x1="57.30" y1="331.70" x2="57.30" y2="339.10" stroke="#22438a" stroke-width="0.8"/>
<line x1="55.70" y1="331.70" x2="58.90" y2="331.70" stroke="#22438a" stroke-width="0.8"/>
<line x1="55.70" y1="339.10" x2="58.90" y2="339.10" stroke="#22438a" stroke-width="0.8"/>
<circle cx="57.30" cy="335.40" r="1.1" fill="#22438a"/>
<line x1="64.31" y1="335.86" x2="64.31" y2="338.64" stroke="#22438a" stroke-width="0.8"/>
<line x1="62.71" y1="335.86" x2="65.91" y2="335.86" stroke="#22438a" stroke-width="0.8"/>
<line x1="62.71" y1="338.64" x2="65.91" y2="338.64" stroke="#22438a" stroke-width="0.8"/>
<circle cx="64.31" cy="337.25" r="1.1" fill="#22438a"/>
<line x1="71.33" y1="349.28" x2="71.33" y2="352.98" stroke="#22438a" stroke-width="0.8"/>
<line x1="69.73" y1="349.28" x2="72.93" y2="349.28" stroke="#22438a" stroke-width="0.8"/>
<line x1="69.73" y1="352.98" x2="72.93" y2="352.98" stroke="#22438a" stroke-width="0.8"/>
<circle cx="71.33" cy="351.12" r="1.1" fill="#22438a"/>
<line x1="78.34" y1="366.39" x2="78.34" y2="369.16" stroke="#22438a" stroke-width="0.8"/>
<line x1="76.75" y1="366.39" x2="79.94" y2="366.39" stroke="#22438a" stroke-width="0.8"/>
<line x1="76.75" y1="369.16" x2="79.94" y2="369.16" stroke="#22438a" stroke-width="0.8"/>
<circle cx="78.34" cy="367.78" r="1.1" fill="#22438a"/>
<line x1="85.36" y1="377.03" x2="85.36" y2="378.88" stroke="#22438a" stroke-width="0.8"/>
<line x1="83.76" y1="377.03" x2="86.96" y2="377.03" stroke="#22438a" stroke-width="0.8"/>
<line x1="83.76" y1="378.88" x2="86.96" y2="378.88" stroke="#22438a" stroke-width="0.8"/>
<circle cx="85.36" cy="377.95" r="1.1" fill="#22438a"/>
<line x1="92.38" y1="378.41" x2="92.38" y2="379.34" stroke="#22438a" stroke-width="0.8"/>
<line x1="90.78" y1="378.41" x2="93.97" y2="378.41" stroke="#22438a" stroke-width="0.8"/>
<line x1="90.78" y1="379.34" x2="93.97" y2="379.34" stroke="#22438a" stroke-width="0.8"/>
<circle cx="92.38" cy="378.88" r="1.1" fill="#22438a"/>
<line x1="99.39" y1="378.88" x2="99.39" y2="379.80" stroke="#22438a" stroke-width="0.8"/>
<line x1="97.79" y1="378.88" x2="100.99" y2="378.88" stroke="#22438a" stroke-width="0.8"/>
<line x1="97.79" y1="379.80" x2="100.99" y2="379.80" stroke="#22438a" stroke-width="0.8"/>
<circle cx="99.39" cy="379.34" r="1.1" fill="#22438a"/>
<line x1="106.41" y1="378.88" x2="106.41" y2="379.80" stroke="#22438a" stroke-width="0.8"/>
<line x1="104.81" y1="378.88" x2="108.00" y2="378.88" stroke="#22438a" stroke-width="0.8"/>
<line x1="104.81" y1="379.80" x2="108.00" y2="379.80" stroke="#22438a" stroke-width="0.8"/>
<circle cx="106.41" cy="379.34" r="1.1" fill="#22438a"/>
<line x1="113.42" y1="379.34" x2="113.42" y2="380.26" stroke="#22438a" stroke-width="0.8"/>
<line x1="111.82" y1="379.34" x2="115.02" y2="379.34" stroke="#22438a" stroke-width="0.8"/>
<line x1="111.82" y1="380.26" x2="115.02" y2="380.26" stroke="#22438a" stroke-width="0.8"/>
<circle cx="113.42" cy="379.80" r="1.1" fill="#22438a"/>
<line x1="84.40" y1="323.80" x2="90.60" y2="323.80" stroke="#cf2a2a" stroke-width="1.2"/>
<circle cx="87.50" cy="323.80" r="1.2" fill="#cf2a2a"/>
<text x="93.20" y="325.92" font-size="6.84" stroke="#333" stroke-width="0.08" fill="#333" textLength="41.8" lengthAdjust="spacingAndGlyphs">Tolinapant alone</text>
<line x1="84.40" y1="332.10" x2="90.60" y2="332.10" stroke="#22438a" stroke-width="1.2"/>
<circle cx="87.50" cy="332.10" r="1.2" fill="#22438a"/>
<text x="93.20" y="334.22" font-size="6.84" stroke="#333" stroke-width="0.08" fill="#333" textLength="48.5" lengthAdjust="spacingAndGlyphs">Tolinapant + TNFα</text>
<text x="172.00" y="313.10" font-size="10.4" font-weight="bold" fill="#000" stroke="#000" stroke-width="0.45">F</text>
<line x1="194.60" y1="328.50" x2="194.60" y2="386.20" stroke="#231f20" stroke-width="1.2"/>
<line x1="194.60" y1="376.90" x2="277.80" y2="376.90" stroke="#231f20" stroke-width="1.2"/>
<line x1="191.00" y1="328.50" x2="194.60" y2="328.50" stroke="#231f20" stroke-width="0.85"/>
<text x="189.30" y="330.62" font-size="6.84" stroke="#333" stroke-width="0.08" text-anchor="end" fill="#333" textLength="10.4" lengthAdjust="spacingAndGlyphs">100</text>
<line x1="191.00" y1="338.12" x2="194.60" y2="338.12" stroke="#231f20" stroke-width="0.85"/>
<text x="189.30" y="340.24" font-size="6.84" stroke="#333" stroke-width="0.08" text-anchor="end" fill="#333" textLength="7.0" lengthAdjust="spacingAndGlyphs">80</text>
<line x1="191.00" y1="347.74" x2="194.60" y2="347.74" stroke="#231f20" stroke-width="0.85"/>
<text x="189.30" y="349.86" font-size="6.84" stroke="#333" stroke-width="0.08" text-anchor="end" fill="#333" textLength="7.0" lengthAdjust="spacingAndGlyphs">60</text>
<line x1="191.00" y1="357.36" x2="194.60" y2="357.36" stroke="#231f20" stroke-width="0.85"/>
<text x="189.30" y="359.48" font-size="6.84" stroke="#333" stroke-width="0.08" text-anchor="end" fill="#333" textLength="7.0" lengthAdjust="spacingAndGlyphs">40</text>
<line x1="191.00" y1="366.98" x2="194.60" y2="366.98" stroke="#231f20" stroke-width="0.85"/>
<text x="189.30" y="369.10" font-size="6.84" stroke="#333" stroke-width="0.08" text-anchor="end" fill="#333" textLength="7.0" lengthAdjust="spacingAndGlyphs">20</text>
<line x1="191.00" y1="376.60" x2="194.60" y2="376.60" stroke="#231f20" stroke-width="0.85"/>
<text x="189.30" y="378.72" font-size="6.84" stroke="#333" stroke-width="0.08" text-anchor="end" fill="#333" textLength="3.5" lengthAdjust="spacingAndGlyphs">0</text>
<line x1="191.00" y1="386.22" x2="194.60" y2="386.22" stroke="#231f20" stroke-width="0.85"/>
<text x="189.30" y="388.34" font-size="6.84" stroke="#333" stroke-width="0.08" text-anchor="end" fill="#333" textLength="10.6" lengthAdjust="spacingAndGlyphs">−20</text>
<line x1="208.50" y1="376.90" x2="208.50" y2="379.00" stroke="#231f20" stroke-width="0.8"/>
<text x="208.50" y="386.42" font-size="6.5" stroke="#333" stroke-width="0.08" text-anchor="middle" fill="#333" textLength="6.8" lengthAdjust="spacingAndGlyphs">−3</text>
<line x1="222.37" y1="376.90" x2="222.37" y2="379.00" stroke="#231f20" stroke-width="0.8"/>
<text x="222.37" y="386.42" font-size="6.5" stroke="#333" stroke-width="0.08" text-anchor="middle" fill="#333" textLength="6.8" lengthAdjust="spacingAndGlyphs">−2</text>
<line x1="236.24" y1="376.90" x2="236.24" y2="379.00" stroke="#231f20" stroke-width="0.8"/>
<text x="236.24" y="386.42" font-size="6.5" stroke="#333" stroke-width="0.08" text-anchor="middle" fill="#333" textLength="6.8" lengthAdjust="spacingAndGlyphs">−1</text>
<line x1="250.11" y1="376.90" x2="250.11" y2="379.00" stroke="#231f20" stroke-width="0.8"/>
<text x="250.11" y="386.42" font-size="6.5" stroke="#333" stroke-width="0.08" text-anchor="middle" fill="#333" textLength="3.3" lengthAdjust="spacingAndGlyphs">0</text>
<line x1="263.98" y1="376.90" x2="263.98" y2="379.00" stroke="#231f20" stroke-width="0.8"/>
<text x="263.98" y="386.42" font-size="6.5" stroke="#333" stroke-width="0.08" text-anchor="middle" fill="#333" textLength="3.3" lengthAdjust="spacingAndGlyphs">1</text>
<line x1="277.85" y1="376.90" x2="277.85" y2="379.00" stroke="#231f20" stroke-width="0.8"/>
<text x="277.85" y="386.42" font-size="6.5" stroke="#333" stroke-width="0.08" text-anchor="middle" fill="#333" textLength="3.3" lengthAdjust="spacingAndGlyphs">2</text>
<text transform="translate(166.38,357.20) rotate(-90)" font-size="7.2" text-anchor="middle" stroke="#333" stroke-width="0.14" textLength="27.7" lengthAdjust="spacingAndGlyphs" fill="#333">Proliferation</text>
<text transform="translate(175.88,357.30) rotate(-90)" font-size="7.2" text-anchor="middle" stroke="#333" stroke-width="0.14" textLength="43.3" lengthAdjust="spacingAndGlyphs" fill="#333">(% DMSO control)</text>
<text x="208.0" y="396.6" font-size="6.8" fill="#333" stroke="#333" stroke-width="0.08" textLength="56.5" lengthAdjust="spacingAndGlyphs">Log<tspan font-size="3.8" dy="1.5">10</tspan><tspan dy="-1.5"> [Tolinapant] (μM)</tspan></text>
<text x="209.40" y="322.16" font-size="6.0" stroke="#000" stroke-width="0.12" font-weight="bold" fill="#000" textLength="53.6" lengthAdjust="spacingAndGlyphs">+ 0.5 M Emricasan</text>
<path d="M208.50,334.31 L209.42,334.77 L210.35,335.41 L211.27,336.33 L212.20,337.60 L213.12,339.33 L214.05,341.61 L214.97,344.49 L215.90,347.95 L216.82,351.86 L217.75,355.99 L218.67,360.05 L219.60,363.76 L220.52,366.94 L221.45,369.51 L222.37,371.51 L223.29,372.99 L224.22,374.08 L225.14,374.85 L226.07,375.39 L226.99,375.77 L227.92,376.03 L228.84,376.21 L229.77,376.33 L230.69,376.42 L231.62,376.48 L232.54,376.52 L233.47,376.54 L234.39,376.56 L235.32,376.57 L236.24,376.58 L237.16,376.59 L238.09,376.59 L239.01,376.59 L239.94,376.60 L240.86,376.60 L241.79,376.60 L242.71,376.60 L243.64,376.60 L244.56,376.60 L245.49,376.60 L246.41,376.60 L247.34,376.60 L248.26,376.60 L249.19,376.60 L250.11,376.60 L251.03,376.60 L251.96,376.60 L252.88,376.60 L253.81,376.60 L254.73,376.60 L255.66,376.60 L256.58,376.60 L257.51,376.60 L258.43,376.60 L259.36,376.60 L260.28,376.60 L261.21,376.60 L262.13,376.60 L263.06,376.60 L263.98,376.60" fill="none" stroke="#cf2a2a" stroke-width="1.3" stroke-linejoin="round" stroke-linecap="round"/>
<path d="M208.50,347.12 L209.42,347.91 L210.35,348.86 L211.27,349.99 L212.20,351.30 L213.12,352.80 L214.05,354.48 L214.97,356.31 L215.90,358.25 L216.82,360.25 L217.75,362.24 L218.67,364.18 L219.60,366.01 L220.52,367.69 L221.45,369.19 L222.37,370.50 L223.29,371.63 L224.22,372.58 L225.14,373.37 L226.07,374.02 L226.99,374.54 L227.92,374.97 L228.84,375.31 L229.77,375.58 L230.69,375.80 L231.62,375.97 L232.54,376.10 L233.47,376.21 L234.39,376.30 L235.32,376.36 L236.24,376.41 L237.16,376.45 L238.09,376.49 L239.01,376.51 L239.94,376.53 L240.86,376.54 L241.79,376.56 L242.71,376.57 L243.64,376.57 L244.56,376.58 L245.49,376.58 L246.41,376.59 L247.34,376.59 L248.26,376.59 L249.19,376.59 L250.11,376.60 L251.03,376.60 L251.96,376.60 L252.88,376.60 L253.81,376.60 L254.73,376.60 L255.66,376.60 L256.58,376.60 L257.51,376.60 L258.43,376.60 L259.36,376.60 L260.28,376.60 L261.21,376.60 L262.13,376.60 L263.06,376.60 L263.98,376.60" fill="none" stroke="#22438a" stroke-width="1.3" stroke-linejoin="round" stroke-linecap="round"/>
<line x1="208.50" y1="333.79" x2="208.50" y2="337.64" stroke="#cf2a2a" stroke-width="0.8"/>
<line x1="206.90" y1="333.79" x2="210.10" y2="333.79" stroke="#cf2a2a" stroke-width="0.8"/>
<line x1="206.90" y1="337.64" x2="210.10" y2="337.64" stroke="#cf2a2a" stroke-width="0.8"/>
<circle cx="208.50" cy="335.72" r="1.1" fill="#cf2a2a"/>
<line x1="215.44" y1="342.93" x2="215.44" y2="346.78" stroke="#cf2a2a" stroke-width="0.8"/>
<line x1="213.84" y1="342.93" x2="217.03" y2="342.93" stroke="#cf2a2a" stroke-width="0.8"/>
<line x1="213.84" y1="346.78" x2="217.03" y2="346.78" stroke="#cf2a2a" stroke-width="0.8"/>
<circle cx="215.44" cy="344.85" r="1.1" fill="#cf2a2a"/>
<line x1="222.37" y1="369.39" x2="222.37" y2="372.27" stroke="#cf2a2a" stroke-width="0.8"/>
<line x1="220.77" y1="369.39" x2="223.97" y2="369.39" stroke="#cf2a2a" stroke-width="0.8"/>
<line x1="220.77" y1="372.27" x2="223.97" y2="372.27" stroke="#cf2a2a" stroke-width="0.8"/>
<circle cx="222.37" cy="370.83" r="1.1" fill="#cf2a2a"/>
<line x1="229.31" y1="374.68" x2="229.31" y2="375.64" stroke="#cf2a2a" stroke-width="0.8"/>
<line x1="227.71" y1="374.68" x2="230.91" y2="374.68" stroke="#cf2a2a" stroke-width="0.8"/>
<line x1="227.71" y1="375.64" x2="230.91" y2="375.64" stroke="#cf2a2a" stroke-width="0.8"/>
<circle cx="229.31" cy="375.16" r="1.1" fill="#cf2a2a"/>
<line x1="236.24" y1="375.64" x2="236.24" y2="376.60" stroke="#cf2a2a" stroke-width="0.8"/>
<line x1="234.64" y1="375.64" x2="237.84" y2="375.64" stroke="#cf2a2a" stroke-width="0.8"/>
<line x1="234.64" y1="376.60" x2="237.84" y2="376.60" stroke="#cf2a2a" stroke-width="0.8"/>
<circle cx="236.24" cy="376.12" r="1.1" fill="#cf2a2a"/>
<line x1="243.18" y1="376.12" x2="243.18" y2="377.08" stroke="#cf2a2a" stroke-width="0.8"/>
<line x1="241.58" y1="376.12" x2="244.78" y2="376.12" stroke="#cf2a2a" stroke-width="0.8"/>
<line x1="241.58" y1="377.08" x2="244.78" y2="377.08" stroke="#cf2a2a" stroke-width="0.8"/>
<circle cx="243.18" cy="376.60" r="1.1" fill="#cf2a2a"/>
<line x1="250.11" y1="376.12" x2="250.11" y2="377.08" stroke="#cf2a2a" stroke-width="0.8"/>
<line x1="248.51" y1="376.12" x2="251.71" y2="376.12" stroke="#cf2a2a" stroke-width="0.8"/>
<line x1="248.51" y1="377.08" x2="251.71" y2="377.08" stroke="#cf2a2a" stroke-width="0.8"/>
<circle cx="250.11" cy="376.60" r="1.1" fill="#cf2a2a"/>
<line x1="257.05" y1="376.12" x2="257.05" y2="377.08" stroke="#cf2a2a" stroke-width="0.8"/>
<line x1="255.45" y1="376.12" x2="258.65" y2="376.12" stroke="#cf2a2a" stroke-width="0.8"/>
<line x1="255.45" y1="377.08" x2="258.65" y2="377.08" stroke="#cf2a2a" stroke-width="0.8"/>
<circle cx="257.05" cy="376.60" r="1.1" fill="#cf2a2a"/>
<line x1="263.98" y1="376.12" x2="263.98" y2="377.08" stroke="#cf2a2a" stroke-width="0.8"/>
<line x1="262.38" y1="376.12" x2="265.58" y2="376.12" stroke="#cf2a2a" stroke-width="0.8"/>
<line x1="262.38" y1="377.08" x2="265.58" y2="377.08" stroke="#cf2a2a" stroke-width="0.8"/>
<circle cx="263.98" cy="376.60" r="1.1" fill="#cf2a2a"/>
<line x1="208.50" y1="346.30" x2="208.50" y2="352.07" stroke="#22438a" stroke-width="0.8"/>
<line x1="206.90" y1="346.30" x2="210.10" y2="346.30" stroke="#22438a" stroke-width="0.8"/>
<line x1="206.90" y1="352.07" x2="210.10" y2="352.07" stroke="#22438a" stroke-width="0.8"/>
<circle cx="208.50" cy="349.18" r="1.1" fill="#22438a"/>
<line x1="215.44" y1="350.63" x2="215.44" y2="354.47" stroke="#22438a" stroke-width="0.8"/>
<line x1="213.84" y1="350.63" x2="217.03" y2="350.63" stroke="#22438a" stroke-width="0.8"/>
<line x1="213.84" y1="354.47" x2="217.03" y2="354.47" stroke="#22438a" stroke-width="0.8"/>
<circle cx="215.44" cy="352.55" r="1.1" fill="#22438a"/>
<line x1="222.37" y1="371.31" x2="222.37" y2="374.20" stroke="#22438a" stroke-width="0.8"/>
<line x1="220.77" y1="371.31" x2="223.97" y2="371.31" stroke="#22438a" stroke-width="0.8"/>
<line x1="220.77" y1="374.20" x2="223.97" y2="374.20" stroke="#22438a" stroke-width="0.8"/>
<circle cx="222.37" cy="372.75" r="1.1" fill="#22438a"/>
<line x1="229.31" y1="375.16" x2="229.31" y2="376.12" stroke="#22438a" stroke-width="0.8"/>
<line x1="227.71" y1="375.16" x2="230.91" y2="375.16" stroke="#22438a" stroke-width="0.8"/>
<line x1="227.71" y1="376.12" x2="230.91" y2="376.12" stroke="#22438a" stroke-width="0.8"/>
<circle cx="229.31" cy="375.64" r="1.1" fill="#22438a"/>
<line x1="236.24" y1="375.64" x2="236.24" y2="376.60" stroke="#22438a" stroke-width="0.8"/>
<line x1="234.64" y1="375.64" x2="237.84" y2="375.64" stroke="#22438a" stroke-width="0.8"/>
<line x1="234.64" y1="376.60" x2="237.84" y2="376.60" stroke="#22438a" stroke-width="0.8"/>
<circle cx="236.24" cy="376.12" r="1.1" fill="#22438a"/>
<line x1="243.18" y1="376.12" x2="243.18" y2="377.08" stroke="#22438a" stroke-width="0.8"/>
<line x1="241.58" y1="376.12" x2="244.78" y2="376.12" stroke="#22438a" stroke-width="0.8"/>
<line x1="241.58" y1="377.08" x2="244.78" y2="377.08" stroke="#22438a" stroke-width="0.8"/>
<circle cx="243.18" cy="376.60" r="1.1" fill="#22438a"/>
<line x1="250.11" y1="376.12" x2="250.11" y2="377.08" stroke="#22438a" stroke-width="0.8"/>
<line x1="248.51" y1="376.12" x2="251.71" y2="376.12" stroke="#22438a" stroke-width="0.8"/>
<line x1="248.51" y1="377.08" x2="251.71" y2="377.08" stroke="#22438a" stroke-width="0.8"/>
<circle cx="250.11" cy="376.60" r="1.1" fill="#22438a"/>
<line x1="257.05" y1="376.12" x2="257.05" y2="377.08" stroke="#22438a" stroke-width="0.8"/>
<line x1="255.45" y1="376.12" x2="258.65" y2="376.12" stroke="#22438a" stroke-width="0.8"/>
<line x1="255.45" y1="377.08" x2="258.65" y2="377.08" stroke="#22438a" stroke-width="0.8"/>
<circle cx="257.05" cy="376.60" r="1.1" fill="#22438a"/>
<line x1="263.98" y1="376.12" x2="263.98" y2="377.08" stroke="#22438a" stroke-width="0.8"/>
<line x1="262.38" y1="376.12" x2="265.58" y2="376.12" stroke="#22438a" stroke-width="0.8"/>
<line x1="262.38" y1="377.08" x2="265.58" y2="377.08" stroke="#22438a" stroke-width="0.8"/>
<circle cx="263.98" cy="376.60" r="1.1" fill="#22438a"/>
<line x1="231.70" y1="335.40" x2="238.00" y2="335.40" stroke="#cf2a2a" stroke-width="1.2"/>
<circle cx="234.80" cy="335.40" r="1.2" fill="#cf2a2a"/>
<text x="241.20" y="337.52" font-size="6.84" stroke="#333" stroke-width="0.08" fill="#333" textLength="63.0" lengthAdjust="spacingAndGlyphs">Tolinapant + Emricasan</text>
<line x1="231.70" y1="343.40" x2="238.00" y2="343.40" stroke="#22438a" stroke-width="1.2"/>
<circle cx="234.80" cy="343.40" r="1.2" fill="#22438a"/>
<text x="241.20" y="345.52" font-size="6.84" stroke="#333" stroke-width="0.08" fill="#333" textLength="63.0" lengthAdjust="spacingAndGlyphs">Tolinapant + Emricasan</text>
<text x="241.20" y="352.92" font-size="6.84" stroke="#333" stroke-width="0.08" fill="#333" textLength="19.5" lengthAdjust="spacingAndGlyphs">+ TNFα</text>
<text x="19.50" y="413.10" font-size="10.4" font-weight="bold" fill="#000" stroke="#000" stroke-width="0.45">G</text>
<line x1="42.30" y1="423.00" x2="42.30" y2="480.05" stroke="#231f20" stroke-width="1.2"/>
<line x1="41.85" y1="479.60" x2="127.50" y2="479.60" stroke="#231f20" stroke-width="1.2"/>
<line x1="39.10" y1="423.04" x2="42.30" y2="423.04" stroke="#231f20" stroke-width="0.85"/>
<text x="37.40" y="425.16" font-size="6.84" stroke="#333" stroke-width="0.08" text-anchor="end" fill="#333" textLength="10.4" lengthAdjust="spacingAndGlyphs">140</text>
<line x1="39.10" y1="431.12" x2="42.30" y2="431.12" stroke="#231f20" stroke-width="0.85"/>
<text x="37.40" y="433.24" font-size="6.84" stroke="#333" stroke-width="0.08" text-anchor="end" fill="#333" textLength="10.4" lengthAdjust="spacingAndGlyphs">120</text>
<line x1="39.10" y1="439.20" x2="42.30" y2="439.20" stroke="#231f20" stroke-width="0.85"/>
<text x="37.40" y="441.32" font-size="6.84" stroke="#333" stroke-width="0.08" text-anchor="end" fill="#333" textLength="10.4" lengthAdjust="spacingAndGlyphs">100</text>
<line x1="39.10" y1="447.28" x2="42.30" y2="447.28" stroke="#231f20" stroke-width="0.85"/>
<text x="37.40" y="449.40" font-size="6.84" stroke="#333" stroke-width="0.08" text-anchor="end" fill="#333" textLength="7.0" lengthAdjust="spacingAndGlyphs">80</text>
<line x1="39.10" y1="455.36" x2="42.30" y2="455.36" stroke="#231f20" stroke-width="0.85"/>
<text x="37.40" y="457.48" font-size="6.84" stroke="#333" stroke-width="0.08" text-anchor="end" fill="#333" textLength="7.0" lengthAdjust="spacingAndGlyphs">60</text>
<line x1="39.10" y1="463.44" x2="42.30" y2="463.44" stroke="#231f20" stroke-width="0.85"/>
<text x="37.40" y="465.56" font-size="6.84" stroke="#333" stroke-width="0.08" text-anchor="end" fill="#333" textLength="7.0" lengthAdjust="spacingAndGlyphs">40</text>
<line x1="39.10" y1="471.52" x2="42.30" y2="471.52" stroke="#231f20" stroke-width="0.85"/>
<text x="37.40" y="473.64" font-size="6.84" stroke="#333" stroke-width="0.08" text-anchor="end" fill="#333" textLength="7.0" lengthAdjust="spacingAndGlyphs">20</text>
<line x1="39.10" y1="479.60" x2="42.30" y2="479.60" stroke="#231f20" stroke-width="0.85"/>
<text x="37.40" y="481.72" font-size="6.84" stroke="#333" stroke-width="0.08" text-anchor="end" fill="#333" textLength="3.5" lengthAdjust="spacingAndGlyphs">0</text>
<line x1="42.20" y1="479.60" x2="42.20" y2="481.80" stroke="#231f20" stroke-width="0.8"/>
<text x="42.20" y="489.29" font-size="6.73" stroke="#333" stroke-width="0.08" text-anchor="middle" fill="#333" textLength="7.0" lengthAdjust="spacingAndGlyphs">−4</text>
<line x1="56.30" y1="479.60" x2="56.30" y2="481.80" stroke="#231f20" stroke-width="0.8"/>
<text x="56.30" y="489.29" font-size="6.73" stroke="#333" stroke-width="0.08" text-anchor="middle" fill="#333" textLength="7.0" lengthAdjust="spacingAndGlyphs">−3</text>
<line x1="70.40" y1="479.60" x2="70.40" y2="481.80" stroke="#231f20" stroke-width="0.8"/>
<text x="70.40" y="489.29" font-size="6.73" stroke="#333" stroke-width="0.08" text-anchor="middle" fill="#333" textLength="7.0" lengthAdjust="spacingAndGlyphs">−2</text>
<line x1="84.50" y1="479.60" x2="84.50" y2="481.80" stroke="#231f20" stroke-width="0.8"/>
<text x="84.50" y="489.29" font-size="6.73" stroke="#333" stroke-width="0.08" text-anchor="middle" fill="#333" textLength="7.0" lengthAdjust="spacingAndGlyphs">−1</text>
<line x1="98.60" y1="479.60" x2="98.60" y2="481.80" stroke="#231f20" stroke-width="0.8"/>
<text x="98.60" y="489.29" font-size="6.73" stroke="#333" stroke-width="0.08" text-anchor="middle" fill="#333" textLength="3.4" lengthAdjust="spacingAndGlyphs">0</text>
<line x1="112.70" y1="479.60" x2="112.70" y2="481.80" stroke="#231f20" stroke-width="0.8"/>
<text x="112.70" y="489.29" font-size="6.73" stroke="#333" stroke-width="0.08" text-anchor="middle" fill="#333" textLength="3.4" lengthAdjust="spacingAndGlyphs">1</text>
<line x1="126.80" y1="479.60" x2="126.80" y2="481.80" stroke="#231f20" stroke-width="0.8"/>
<text x="126.80" y="489.29" font-size="6.73" stroke="#333" stroke-width="0.08" text-anchor="middle" fill="#333" textLength="3.4" lengthAdjust="spacingAndGlyphs">2</text>
<text transform="translate(14.28,447.20) rotate(-90)" font-size="7.2" text-anchor="middle" stroke="#333" stroke-width="0.14" textLength="28.6" lengthAdjust="spacingAndGlyphs" fill="#333">Proliferation</text>
<text transform="translate(23.88,447.20) rotate(-90)" font-size="7.2" text-anchor="middle" stroke="#333" stroke-width="0.14" textLength="41.7" lengthAdjust="spacingAndGlyphs" fill="#333">(% DMSO control)</text>
<text x="56.55" y="497.90" font-size="6.8" fill="#333" stroke="#333" stroke-width="0.08" textLength="57.5" lengthAdjust="spacingAndGlyphs">Log<tspan font-size="3.8" dy="1.5">10</tspan><tspan dy="-1.5"> [Tolinapant] (μM)</tspan></text>
<text x="42.90" y="416.16" font-size="6.0" stroke="#000" stroke-width="0.12" font-weight="bold" fill="#000" textLength="86.5" lengthAdjust="spacingAndGlyphs">+ 20 μM necrostatin-1 (Nec-1)</text>
<path d="M56.30,435.97 L57.24,435.97 L58.18,435.97 L59.12,435.97 L60.06,435.97 L61.00,435.97 L61.94,435.97 L62.88,435.97 L63.82,435.97 L64.76,435.97 L65.70,435.97 L66.64,435.97 L67.58,435.97 L68.52,435.97 L69.46,435.97 L70.40,435.97 L71.34,435.97 L72.28,435.97 L73.22,435.97 L74.16,435.97 L75.10,435.97 L76.04,435.97 L76.98,435.97 L77.92,435.97 L78.86,435.97 L79.80,435.97 L80.74,435.97 L81.68,435.97 L82.62,435.97 L83.56,435.97 L84.50,435.97 L85.44,435.98 L86.38,435.98 L87.32,435.98 L88.26,435.99 L89.20,435.99 L90.14,436.00 L91.08,436.01 L92.02,436.02 L92.96,436.04 L93.90,436.06 L94.84,436.09 L95.78,436.13 L96.72,436.18 L97.66,436.25 L98.60,436.34 L99.54,436.45 L100.48,436.60 L101.42,436.80 L102.36,437.06 L103.30,437.40 L104.24,437.83 L105.18,438.39 L106.12,439.11 L107.06,440.02 L108.00,441.15 L108.94,442.56 L109.88,444.25 L110.82,446.27 L111.76,448.60 L112.70,451.21" fill="none" stroke="#cf2a2a" stroke-width="1.3" stroke-linejoin="round" stroke-linecap="round"/>
<path d="M56.30,429.76 L57.24,429.79 L58.18,429.84 L59.12,429.88 L60.06,429.94 L61.00,430.00 L61.94,430.08 L62.88,430.16 L63.82,430.25 L64.76,430.36 L65.70,430.49 L66.64,430.63 L67.58,430.79 L68.52,430.97 L69.46,431.17 L70.40,431.41 L71.34,431.67 L72.28,431.97 L73.22,432.30 L74.16,432.68 L75.10,433.10 L76.04,433.56 L76.98,434.08 L77.92,434.65 L78.86,435.28 L79.80,435.97 L80.74,436.72 L81.68,437.53 L82.62,438.40 L83.56,439.33 L84.50,440.31 L85.44,441.34 L86.38,442.41 L87.32,443.51 L88.26,444.64 L89.20,445.78 L90.14,446.93 L91.08,448.06 L92.02,449.18 L92.96,450.27 L93.90,451.32 L94.84,452.32 L95.78,453.28 L96.72,454.18 L97.66,455.02 L98.60,455.80 L99.54,456.51 L100.48,457.17 L101.42,457.78 L102.36,458.32 L103.30,458.81 L104.24,459.26 L105.18,459.65 L106.12,460.01 L107.06,460.32 L108.00,460.60 L108.94,460.85 L109.88,461.07 L110.82,461.26 L111.76,461.43 L112.70,461.58" fill="none" stroke="#22438a" stroke-width="1.3" stroke-linejoin="round" stroke-linecap="round"/>
<line x1="56.30" y1="435.56" x2="56.30" y2="437.99" stroke="#cf2a2a" stroke-width="0.8"/>
<line x1="54.70" y1="435.56" x2="57.90" y2="435.56" stroke="#cf2a2a" stroke-width="0.8"/>
<line x1="54.70" y1="437.99" x2="57.90" y2="437.99" stroke="#cf2a2a" stroke-width="0.8"/>
<rect x="55.30" y="435.78" width="2.00" height="2.00" fill="#cf2a2a"/>
<line x1="63.35" y1="433.95" x2="63.35" y2="437.99" stroke="#cf2a2a" stroke-width="0.8"/>
<line x1="61.75" y1="433.95" x2="64.95" y2="433.95" stroke="#cf2a2a" stroke-width="0.8"/>
<line x1="61.75" y1="437.99" x2="64.95" y2="437.99" stroke="#cf2a2a" stroke-width="0.8"/>
<rect x="62.35" y="434.97" width="2.00" height="2.00" fill="#cf2a2a"/>
<line x1="70.40" y1="433.54" x2="70.40" y2="437.58" stroke="#cf2a2a" stroke-width="0.8"/>
<line x1="68.80" y1="433.54" x2="72.00" y2="433.54" stroke="#cf2a2a" stroke-width="0.8"/>
<line x1="68.80" y1="437.58" x2="72.00" y2="437.58" stroke="#cf2a2a" stroke-width="0.8"/>
<rect x="69.40" y="434.56" width="2.00" height="2.00" fill="#cf2a2a"/>
<line x1="77.45" y1="433.95" x2="77.45" y2="436.37" stroke="#cf2a2a" stroke-width="0.8"/>
<line x1="75.85" y1="433.95" x2="79.05" y2="433.95" stroke="#cf2a2a" stroke-width="0.8"/>
<line x1="75.85" y1="436.37" x2="79.05" y2="436.37" stroke="#cf2a2a" stroke-width="0.8"/>
<rect x="76.45" y="434.16" width="2.00" height="2.00" fill="#cf2a2a"/>
<line x1="84.50" y1="433.95" x2="84.50" y2="438.80" stroke="#cf2a2a" stroke-width="0.8"/>
<line x1="82.90" y1="433.95" x2="86.10" y2="433.95" stroke="#cf2a2a" stroke-width="0.8"/>
<line x1="82.90" y1="438.80" x2="86.10" y2="438.80" stroke="#cf2a2a" stroke-width="0.8"/>
<rect x="83.50" y="435.37" width="2.00" height="2.00" fill="#cf2a2a"/>
<line x1="91.55" y1="434.35" x2="91.55" y2="438.39" stroke="#cf2a2a" stroke-width="0.8"/>
<line x1="89.95" y1="434.35" x2="93.15" y2="434.35" stroke="#cf2a2a" stroke-width="0.8"/>
<line x1="89.95" y1="438.39" x2="93.15" y2="438.39" stroke="#cf2a2a" stroke-width="0.8"/>
<rect x="90.55" y="435.37" width="2.00" height="2.00" fill="#cf2a2a"/>
<line x1="98.60" y1="435.16" x2="98.60" y2="440.01" stroke="#cf2a2a" stroke-width="0.8"/>
<line x1="97.00" y1="435.16" x2="100.20" y2="435.16" stroke="#cf2a2a" stroke-width="0.8"/>
<line x1="97.00" y1="440.01" x2="100.20" y2="440.01" stroke="#cf2a2a" stroke-width="0.8"/>
<rect x="97.60" y="436.58" width="2.00" height="2.00" fill="#cf2a2a"/>
<line x1="105.65" y1="437.99" x2="105.65" y2="444.45" stroke="#cf2a2a" stroke-width="0.8"/>
<line x1="104.05" y1="437.99" x2="107.25" y2="437.99" stroke="#cf2a2a" stroke-width="0.8"/>
<line x1="104.05" y1="444.45" x2="107.25" y2="444.45" stroke="#cf2a2a" stroke-width="0.8"/>
<rect x="104.65" y="440.22" width="2.00" height="2.00" fill="#cf2a2a"/>
<line x1="112.70" y1="445.66" x2="112.70" y2="456.98" stroke="#cf2a2a" stroke-width="0.8"/>
<line x1="111.10" y1="445.66" x2="114.30" y2="445.66" stroke="#cf2a2a" stroke-width="0.8"/>
<line x1="111.10" y1="456.98" x2="114.30" y2="456.98" stroke="#cf2a2a" stroke-width="0.8"/>
<rect x="111.70" y="450.32" width="2.00" height="2.00" fill="#cf2a2a"/>
<line x1="56.30" y1="429.91" x2="56.30" y2="432.33" stroke="#22438a" stroke-width="0.8"/>
<line x1="54.70" y1="429.91" x2="57.90" y2="429.91" stroke="#22438a" stroke-width="0.8"/>
<line x1="54.70" y1="432.33" x2="57.90" y2="432.33" stroke="#22438a" stroke-width="0.8"/>
<rect x="55.20" y="430.02" width="2.20" height="2.20" fill="#22438a"/>
<line x1="63.35" y1="428.70" x2="63.35" y2="430.31" stroke="#22438a" stroke-width="0.8"/>
<line x1="61.75" y1="428.70" x2="64.95" y2="428.70" stroke="#22438a" stroke-width="0.8"/>
<line x1="61.75" y1="430.31" x2="64.95" y2="430.31" stroke="#22438a" stroke-width="0.8"/>
<rect x="62.25" y="428.40" width="2.20" height="2.20" fill="#22438a"/>
<line x1="70.40" y1="431.12" x2="70.40" y2="432.74" stroke="#22438a" stroke-width="0.8"/>
<line x1="68.80" y1="431.12" x2="72.00" y2="431.12" stroke="#22438a" stroke-width="0.8"/>
<line x1="68.80" y1="432.74" x2="72.00" y2="432.74" stroke="#22438a" stroke-width="0.8"/>
<rect x="69.30" y="430.83" width="2.20" height="2.20" fill="#22438a"/>
<line x1="77.45" y1="435.16" x2="77.45" y2="436.78" stroke="#22438a" stroke-width="0.8"/>
<line x1="75.85" y1="435.16" x2="79.05" y2="435.16" stroke="#22438a" stroke-width="0.8"/>
<line x1="75.85" y1="436.78" x2="79.05" y2="436.78" stroke="#22438a" stroke-width="0.8"/>
<rect x="76.35" y="434.87" width="2.20" height="2.20" fill="#22438a"/>
<line x1="84.50" y1="442.84" x2="84.50" y2="445.26" stroke="#22438a" stroke-width="0.8"/>
<line x1="82.90" y1="442.84" x2="86.10" y2="442.84" stroke="#22438a" stroke-width="0.8"/>
<line x1="82.90" y1="445.26" x2="86.10" y2="445.26" stroke="#22438a" stroke-width="0.8"/>
<rect x="83.40" y="442.95" width="2.20" height="2.20" fill="#22438a"/>
<line x1="91.55" y1="446.07" x2="91.55" y2="450.11" stroke="#22438a" stroke-width="0.8"/>
<line x1="89.95" y1="446.07" x2="93.15" y2="446.07" stroke="#22438a" stroke-width="0.8"/>
<line x1="89.95" y1="450.11" x2="93.15" y2="450.11" stroke="#22438a" stroke-width="0.8"/>
<rect x="90.45" y="446.99" width="2.20" height="2.20" fill="#22438a"/>
<line x1="98.60" y1="453.34" x2="98.60" y2="455.76" stroke="#22438a" stroke-width="0.8"/>
<line x1="97.00" y1="453.34" x2="100.20" y2="453.34" stroke="#22438a" stroke-width="0.8"/>
<line x1="97.00" y1="455.76" x2="100.20" y2="455.76" stroke="#22438a" stroke-width="0.8"/>
<rect x="97.50" y="453.45" width="2.20" height="2.20" fill="#22438a"/>
<line x1="105.65" y1="456.17" x2="105.65" y2="457.78" stroke="#22438a" stroke-width="0.8"/>
<line x1="104.05" y1="456.17" x2="107.25" y2="456.17" stroke="#22438a" stroke-width="0.8"/>
<line x1="104.05" y1="457.78" x2="107.25" y2="457.78" stroke="#22438a" stroke-width="0.8"/>
<rect x="104.55" y="455.88" width="2.20" height="2.20" fill="#22438a"/>
<line x1="112.70" y1="459.80" x2="112.70" y2="463.04" stroke="#22438a" stroke-width="0.8"/>
<line x1="111.10" y1="459.80" x2="114.30" y2="459.80" stroke="#22438a" stroke-width="0.8"/>
<line x1="111.10" y1="463.04" x2="114.30" y2="463.04" stroke="#22438a" stroke-width="0.8"/>
<rect x="111.60" y="460.32" width="2.20" height="2.20" fill="#22438a"/>
<line x1="46.70" y1="465.90" x2="52.50" y2="465.90" stroke="#cf2a2a" stroke-width="1.1"/>
<rect x="48.60" y="464.90" width="2.00" height="2.00" fill="#cf2a2a"/>
<text x="55.10" y="468.02" font-size="6.84" stroke="#333" stroke-width="0.08" fill="#333" textLength="42.1" lengthAdjust="spacingAndGlyphs">Tolinapant alone</text>
<line x1="46.70" y1="473.40" x2="52.50" y2="473.40" stroke="#22438a" stroke-width="1.1"/>
<path d="M48.3,474.50 L49.6,472.10 L50.9,474.50 Z" fill="#22438a" stroke="none" stroke-width="1"/>
<text x="55.10" y="475.52" font-size="6.84" stroke="#333" stroke-width="0.08" fill="#333" textLength="48.8" lengthAdjust="spacingAndGlyphs">Tolinapant + TNFα</text>
<text x="178.00" y="413.00" font-size="10.4" font-weight="bold" fill="#000" stroke="#000" stroke-width="0.45">H</text>
<line x1="201.60" y1="422.50" x2="201.60" y2="477.65" stroke="#231f20" stroke-width="1.2"/>
<line x1="201.15" y1="477.20" x2="284.00" y2="477.20" stroke="#231f20" stroke-width="1.2"/>
<line x1="199.20" y1="477.20" x2="201.60" y2="477.20" stroke="#231f20" stroke-width="0.8"/>
<text x="196.90" y="479.43" font-size="7.19" stroke="#333" stroke-width="0.08" text-anchor="end" fill="#333" textLength="3.4" lengthAdjust="spacingAndGlyphs">0</text>
<line x1="199.20" y1="471.14" x2="201.60" y2="471.14" stroke="#231f20" stroke-width="0.8"/>
<text x="196.90" y="473.38" font-size="7.19" stroke="#333" stroke-width="0.08" text-anchor="end" fill="#333" textLength="3.4" lengthAdjust="spacingAndGlyphs">5</text>
<line x1="199.20" y1="465.09" x2="201.60" y2="465.09" stroke="#231f20" stroke-width="0.8"/>
<text x="196.90" y="467.32" font-size="7.19" stroke="#333" stroke-width="0.08" text-anchor="end" fill="#333" textLength="6.8" lengthAdjust="spacingAndGlyphs">10</text>
<line x1="199.20" y1="459.03" x2="201.60" y2="459.03" stroke="#231f20" stroke-width="0.8"/>
<text x="196.90" y="461.27" font-size="7.19" stroke="#333" stroke-width="0.08" text-anchor="end" fill="#333" textLength="6.8" lengthAdjust="spacingAndGlyphs">15</text>
<line x1="199.20" y1="452.98" x2="201.60" y2="452.98" stroke="#231f20" stroke-width="0.8"/>
<text x="196.90" y="455.21" font-size="7.19" stroke="#333" stroke-width="0.08" text-anchor="end" fill="#333" textLength="6.8" lengthAdjust="spacingAndGlyphs">20</text>
<line x1="199.20" y1="446.92" x2="201.60" y2="446.92" stroke="#231f20" stroke-width="0.8"/>
<text x="196.90" y="449.15" font-size="7.19" stroke="#333" stroke-width="0.08" text-anchor="end" fill="#333" textLength="6.8" lengthAdjust="spacingAndGlyphs">25</text>
<line x1="199.20" y1="440.87" x2="201.60" y2="440.87" stroke="#231f20" stroke-width="0.8"/>
<text x="196.90" y="443.10" font-size="7.19" stroke="#333" stroke-width="0.08" text-anchor="end" fill="#333" textLength="6.8" lengthAdjust="spacingAndGlyphs">30</text>
<line x1="199.20" y1="434.81" x2="201.60" y2="434.81" stroke="#231f20" stroke-width="0.8"/>
<text x="196.90" y="437.04" font-size="7.19" stroke="#333" stroke-width="0.08" text-anchor="end" fill="#333" textLength="6.8" lengthAdjust="spacingAndGlyphs">35</text>
<line x1="199.20" y1="428.76" x2="201.60" y2="428.76" stroke="#231f20" stroke-width="0.8"/>
<text x="196.90" y="430.99" font-size="7.19" stroke="#333" stroke-width="0.08" text-anchor="end" fill="#333" textLength="6.8" lengthAdjust="spacingAndGlyphs">40</text>
<line x1="199.20" y1="422.70" x2="201.60" y2="422.70" stroke="#231f20" stroke-width="0.8"/>
<text x="196.90" y="424.93" font-size="7.19" stroke="#333" stroke-width="0.08" text-anchor="end" fill="#333" textLength="6.8" lengthAdjust="spacingAndGlyphs">45</text>
<text transform="translate(185.2,450.5) rotate(-90)" font-size="6.6" text-anchor="middle" fill="#333" stroke="#333" stroke-width="0.08" textLength="56.4" lengthAdjust="spacingAndGlyphs">% Dead cells (CD3<tspan font-size="3.8" dy="-1.6">+</tspan><tspan dy="1.6">PI</tspan><tspan font-size="3.8" dy="-1.6">+</tspan><tspan dy="1.6">)</tspan></text>
<text x="212.80" y="415.96" font-size="6.0" stroke="#000" stroke-width="0.12" font-weight="bold" fill="#000" textLength="57.0" lengthAdjust="spacingAndGlyphs">BW5147 cells (48 h)</text>
<line x1="209.60" y1="477.20" x2="209.60" y2="479.20" stroke="#231f20" stroke-width="0.8"/>
<rect x="203.60" y="458.43" width="3.00" height="18.77" fill="#d42a2f"/>
<line x1="205.10" y1="457.70" x2="205.10" y2="458.43" stroke="#222" stroke-width="0.6"/>
<line x1="204.30" y1="457.70" x2="205.90" y2="457.70" stroke="#222" stroke-width="0.6"/>
<rect x="208.10" y="453.58" width="3.00" height="23.62" fill="#27406f"/>
<line x1="209.60" y1="451.65" x2="209.60" y2="453.58" stroke="#222" stroke-width="0.6"/>
<line x1="208.80" y1="451.65" x2="210.40" y2="451.65" stroke="#222" stroke-width="0.6"/>
<rect x="212.60" y="459.64" width="3.00" height="17.56" fill="#42b543"/>
<line x1="214.10" y1="459.03" x2="214.10" y2="459.64" stroke="#222" stroke-width="0.6"/>
<line x1="213.30" y1="459.03" x2="214.90" y2="459.03" stroke="#222" stroke-width="0.6"/>
<text transform="translate(212.20,486.20) rotate(-45)" font-size="6.2" text-anchor="end" fill="#333" stroke="#333" stroke-width="0.08" textLength="38.0" lengthAdjust="spacingAndGlyphs">DMSO control</text>
<line x1="226.20" y1="477.20" x2="226.20" y2="479.20" stroke="#231f20" stroke-width="0.8"/>
<rect x="220.20" y="459.03" width="3.00" height="18.17" fill="#d42a2f"/>
<line x1="221.70" y1="458.43" x2="221.70" y2="459.03" stroke="#222" stroke-width="0.6"/>
<line x1="220.90" y1="458.43" x2="222.50" y2="458.43" stroke="#222" stroke-width="0.6"/>
<rect x="224.70" y="434.21" width="3.00" height="42.99" fill="#27406f"/>
<line x1="226.20" y1="433.24" x2="226.20" y2="434.21" stroke="#222" stroke-width="0.6"/>
<line x1="225.40" y1="433.24" x2="227.00" y2="433.24" stroke="#222" stroke-width="0.6"/>
<rect x="229.20" y="459.64" width="3.00" height="17.56" fill="#42b543"/>
<line x1="230.70" y1="459.15" x2="230.70" y2="459.64" stroke="#222" stroke-width="0.6"/>
<line x1="229.90" y1="459.15" x2="231.50" y2="459.15" stroke="#222" stroke-width="0.6"/>
<text transform="translate(228.80,486.20) rotate(-45)" font-size="6.2" text-anchor="end" fill="#333" stroke="#333" stroke-width="0.08" textLength="47.5" lengthAdjust="spacingAndGlyphs">0.01 μM Tolinapant</text>
<line x1="242.80" y1="477.20" x2="242.80" y2="479.20" stroke="#231f20" stroke-width="0.8"/>
<rect x="236.80" y="452.01" width="3.00" height="25.19" fill="#d42a2f"/>
<line x1="238.30" y1="451.40" x2="238.30" y2="452.01" stroke="#222" stroke-width="0.6"/>
<line x1="237.50" y1="451.40" x2="239.10" y2="451.40" stroke="#222" stroke-width="0.6"/>
<rect x="241.30" y="433.60" width="3.00" height="43.60" fill="#27406f"/>
<line x1="242.80" y1="432.75" x2="242.80" y2="433.60" stroke="#222" stroke-width="0.6"/>
<line x1="242.00" y1="432.75" x2="243.60" y2="432.75" stroke="#222" stroke-width="0.6"/>
<rect x="245.80" y="458.43" width="3.00" height="18.77" fill="#42b543"/>
<line x1="247.30" y1="457.94" x2="247.30" y2="458.43" stroke="#222" stroke-width="0.6"/>
<line x1="246.50" y1="457.94" x2="248.10" y2="457.94" stroke="#222" stroke-width="0.6"/>
<text transform="translate(245.40,486.20) rotate(-45)" font-size="6.2" text-anchor="end" fill="#333" stroke="#333" stroke-width="0.08" textLength="45.0" lengthAdjust="spacingAndGlyphs">0.1 μM Tolinapant</text>
<line x1="259.40" y1="477.20" x2="259.40" y2="479.20" stroke="#231f20" stroke-width="0.8"/>
<rect x="253.40" y="439.29" width="3.00" height="37.91" fill="#d42a2f"/>
<line x1="254.90" y1="438.32" x2="254.90" y2="439.29" stroke="#222" stroke-width="0.6"/>
<line x1="254.10" y1="438.32" x2="255.70" y2="438.32" stroke="#222" stroke-width="0.6"/>
<rect x="257.90" y="432.99" width="3.00" height="44.21" fill="#27406f"/>
<line x1="259.40" y1="432.27" x2="259.40" y2="432.99" stroke="#222" stroke-width="0.6"/>
<line x1="258.60" y1="432.27" x2="260.20" y2="432.27" stroke="#222" stroke-width="0.6"/>
<rect x="262.40" y="452.74" width="3.00" height="24.46" fill="#42b543"/>
<line x1="263.90" y1="451.89" x2="263.90" y2="452.74" stroke="#222" stroke-width="0.6"/>
<line x1="263.10" y1="451.89" x2="264.70" y2="451.89" stroke="#222" stroke-width="0.6"/>
<text transform="translate(262.00,486.20) rotate(-45)" font-size="6.2" text-anchor="end" fill="#333" stroke="#333" stroke-width="0.08" textLength="40.3" lengthAdjust="spacingAndGlyphs">1 μM Tolinapant</text>
<line x1="276.00" y1="477.20" x2="276.00" y2="479.20" stroke="#231f20" stroke-width="0.8"/>
<rect x="270.00" y="437.23" width="3.00" height="39.97" fill="#d42a2f"/>
<line x1="271.50" y1="436.63" x2="271.50" y2="437.23" stroke="#222" stroke-width="0.6"/>
<line x1="270.70" y1="436.63" x2="272.30" y2="436.63" stroke="#222" stroke-width="0.6"/>
<rect x="274.50" y="427.30" width="3.00" height="49.90" fill="#27406f"/>
<line x1="276.00" y1="426.70" x2="276.00" y2="427.30" stroke="#222" stroke-width="0.6"/>
<line x1="275.20" y1="426.70" x2="276.80" y2="426.70" stroke="#222" stroke-width="0.6"/>
<rect x="279.00" y="451.04" width="3.00" height="26.16" fill="#42b543"/>
<line x1="280.50" y1="450.43" x2="280.50" y2="451.04" stroke="#222" stroke-width="0.6"/>
<line x1="279.70" y1="450.43" x2="281.30" y2="450.43" stroke="#222" stroke-width="0.6"/>
<text transform="translate(278.60,486.20) rotate(-45)" font-size="6.2" text-anchor="end" fill="#333" stroke="#333" stroke-width="0.08" textLength="44.4" lengthAdjust="spacingAndGlyphs">10 μM Tolinapant</text>
<rect x="284.60" y="419.40" width="4.80" height="2.60" fill="#d42a2f"/>
<text x="292.40" y="422.72" font-size="6.5" stroke="#333" stroke-width="0.08" fill="#333" textLength="28.5" lengthAdjust="spacingAndGlyphs">No additions</text>
<rect x="284.60" y="426.60" width="4.80" height="2.60" fill="#27406f"/>
<text x="292.40" y="429.92" font-size="6.5" stroke="#333" stroke-width="0.08" fill="#333" textLength="26.0" lengthAdjust="spacingAndGlyphs">+ Emricasan</text>
<rect x="284.60" y="433.80" width="4.80" height="2.60" fill="#42b543"/>
<text x="292.40" y="437.12" font-size="6.5" stroke="#333" stroke-width="0.08" fill="#333" textLength="47.0" lengthAdjust="spacingAndGlyphs">+ Emricasan + Nec-1</text>
<text x="342.00" y="328.30" font-size="10.4" font-weight="bold" fill="#000" stroke="#000" stroke-width="0.45">I</text>
<line x1="364.60" y1="321.60" x2="367.40" y2="321.60" stroke="#333" stroke-width="0.85"/>
<line x1="376.30" y1="321.60" x2="379.10" y2="321.60" stroke="#333" stroke-width="0.85"/>
<line x1="388.00" y1="321.60" x2="390.80" y2="321.60" stroke="#333" stroke-width="0.85"/>
<line x1="399.50" y1="321.60" x2="402.70" y2="321.60" stroke="#333" stroke-width="0.85"/>
<line x1="401.10" y1="320.00" x2="401.10" y2="323.20" stroke="#333" stroke-width="0.85"/>
<line x1="411.40" y1="321.60" x2="414.20" y2="321.60" stroke="#333" stroke-width="0.85"/>
<line x1="422.90" y1="321.60" x2="426.10" y2="321.60" stroke="#333" stroke-width="0.85"/>
<line x1="424.50" y1="320.00" x2="424.50" y2="323.20" stroke="#333" stroke-width="0.85"/>
<line x1="434.60" y1="321.60" x2="437.80" y2="321.60" stroke="#333" stroke-width="0.85"/>
<line x1="436.20" y1="320.00" x2="436.20" y2="323.20" stroke="#333" stroke-width="0.85"/>
<line x1="446.30" y1="321.60" x2="449.50" y2="321.60" stroke="#333" stroke-width="0.85"/>
<line x1="447.90" y1="320.00" x2="447.90" y2="323.20" stroke="#333" stroke-width="0.85"/>
<text x="455.00" y="323.62" font-size="6.5" stroke="#333" stroke-width="0.08" fill="#333" textLength="33.5" lengthAdjust="spacingAndGlyphs">necrostatin-1</text>
<line x1="364.60" y1="330.90" x2="367.40" y2="330.90" stroke="#333" stroke-width="0.85"/>
<line x1="376.30" y1="330.90" x2="379.10" y2="330.90" stroke="#333" stroke-width="0.85"/>
<line x1="387.80" y1="330.90" x2="391.00" y2="330.90" stroke="#333" stroke-width="0.85"/>
<line x1="389.40" y1="329.30" x2="389.40" y2="332.50" stroke="#333" stroke-width="0.85"/>
<line x1="399.70" y1="330.90" x2="402.50" y2="330.90" stroke="#333" stroke-width="0.85"/>
<line x1="411.20" y1="330.90" x2="414.40" y2="330.90" stroke="#333" stroke-width="0.85"/>
<line x1="412.80" y1="329.30" x2="412.80" y2="332.50" stroke="#333" stroke-width="0.85"/>
<line x1="423.10" y1="330.90" x2="425.90" y2="330.90" stroke="#333" stroke-width="0.85"/>
<line x1="434.60" y1="330.90" x2="437.80" y2="330.90" stroke="#333" stroke-width="0.85"/>
<line x1="436.20" y1="329.30" x2="436.20" y2="332.50" stroke="#333" stroke-width="0.85"/>
<line x1="446.30" y1="330.90" x2="449.50" y2="330.90" stroke="#333" stroke-width="0.85"/>
<line x1="447.90" y1="329.30" x2="447.90" y2="332.50" stroke="#333" stroke-width="0.85"/>
<text x="455.00" y="332.92" font-size="6.5" stroke="#333" stroke-width="0.08" fill="#333" textLength="24.5" lengthAdjust="spacingAndGlyphs">emricasan</text>
<line x1="364.60" y1="340.20" x2="367.40" y2="340.20" stroke="#333" stroke-width="0.85"/>
<line x1="376.10" y1="340.20" x2="379.30" y2="340.20" stroke="#333" stroke-width="0.85"/>
<line x1="377.70" y1="338.60" x2="377.70" y2="341.80" stroke="#333" stroke-width="0.85"/>
<line x1="388.00" y1="340.20" x2="390.80" y2="340.20" stroke="#333" stroke-width="0.85"/>
<line x1="399.70" y1="340.20" x2="402.50" y2="340.20" stroke="#333" stroke-width="0.85"/>
<line x1="411.20" y1="340.20" x2="414.40" y2="340.20" stroke="#333" stroke-width="0.85"/>
<line x1="412.80" y1="338.60" x2="412.80" y2="341.80" stroke="#333" stroke-width="0.85"/>
<line x1="422.90" y1="340.20" x2="426.10" y2="340.20" stroke="#333" stroke-width="0.85"/>
<line x1="424.50" y1="338.60" x2="424.50" y2="341.80" stroke="#333" stroke-width="0.85"/>
<line x1="434.80" y1="340.20" x2="437.60" y2="340.20" stroke="#333" stroke-width="0.85"/>
<line x1="446.30" y1="340.20" x2="449.50" y2="340.20" stroke="#333" stroke-width="0.85"/>
<line x1="447.90" y1="338.60" x2="447.90" y2="341.80" stroke="#333" stroke-width="0.85"/>
<text x="455.00" y="342.22" font-size="6.5" stroke="#333" stroke-width="0.08" fill="#333" textLength="25.0" lengthAdjust="spacingAndGlyphs">tolinapant</text>
<defs><filter id="bl" x="-50%" y="-100%" width="200%" height="300%"><feGaussianBlur stdDeviation="0.7"/></filter><filter id="bl2" x="-50%" y="-100%" width="200%" height="300%"><feGaussianBlur stdDeviation="1.0"/></filter></defs>
<rect x="359.00" y="345.10" width="95.60" height="12.30" fill="#f3f3f3"/>
<g filter="url(#bl)">
<rect x="361.40" y="351.20" width="9.20" height="3.00" rx="1.36" fill="#000" fill-opacity="0.95"/>
<rect x="373.10" y="351.20" width="9.20" height="3.00" rx="1.36" fill="#000" fill-opacity="0.14"/>
<rect x="384.80" y="351.20" width="9.20" height="3.00" rx="1.36" fill="#000" fill-opacity="0.92"/>
<rect x="396.50" y="351.20" width="9.20" height="3.00" rx="1.36" fill="#000" fill-opacity="0.92"/>
<rect x="408.20" y="351.20" width="9.20" height="3.00" rx="1.36" fill="#000" fill-opacity="0.10"/>
<rect x="419.90" y="351.20" width="9.20" height="3.00" rx="1.36" fill="#000" fill-opacity="0.10"/>
<rect x="431.60" y="351.20" width="9.20" height="3.00" rx="1.36" fill="#000" fill-opacity="0.95"/>
<rect x="443.30" y="351.20" width="9.20" height="3.00" rx="1.36" fill="#000" fill-opacity="0.10"/>
</g>
<rect x="359.0" y="345.10" width="95.6" height="12.30" fill="none" stroke="#1a1a1a" stroke-width="1.35" rx="0.8"/>
<text x="457.00" y="353.89" font-size="6.73" stroke="#333" stroke-width="0.08" fill="#333" textLength="15.2" lengthAdjust="spacingAndGlyphs">cIAP1</text>
<rect x="359.00" y="360.10" width="95.60" height="16.70" fill="#f3f3f3"/>
<g filter="url(#bl)">
<rect x="384.90" y="370.00" width="9.00" height="3.20" rx="1.45" fill="#000" fill-opacity="0.50"/>
<rect x="408.30" y="370.00" width="9.00" height="3.20" rx="1.45" fill="#000" fill-opacity="1.00"/>
<rect x="443.40" y="370.00" width="9.00" height="3.20" rx="1.45" fill="#000" fill-opacity="0.30"/>
<rect x="408.10" y="369.10" width="9.40" height="4.60" rx="2.09" fill="#000" fill-opacity="1.00"/>
<rect x="385.15" y="363.50" width="8.50" height="2.60" rx="1.18" fill="#000" fill-opacity="0.03"/>
<rect x="408.55" y="363.50" width="8.50" height="2.60" rx="1.18" fill="#000" fill-opacity="0.12"/>
<rect x="443.65" y="363.50" width="8.50" height="2.60" rx="1.18" fill="#000" fill-opacity="0.03"/>
</g>
<rect x="359.0" y="360.10" width="95.6" height="16.70" fill="none" stroke="#1a1a1a" stroke-width="1.35" rx="0.8"/>
<text x="457.00" y="368.29" font-size="6.73" stroke="#333" stroke-width="0.08" fill="#333" textLength="22.0" lengthAdjust="spacingAndGlyphs">p-RIPK3</text>
<text x="457.00" y="375.69" font-size="6.73" stroke="#333" stroke-width="0.08" fill="#333" textLength="44.8" lengthAdjust="spacingAndGlyphs">[Thr231/Ser232]</text>
<rect x="359.00" y="379.70" width="95.60" height="16.10" fill="#f3f3f3"/>
<g filter="url(#bl)">
<rect x="361.10" y="386.60" width="9.80" height="4.00" rx="1.82" fill="#000" fill-opacity="1.00"/>
<rect x="372.80" y="386.60" width="9.80" height="4.00" rx="1.82" fill="#000" fill-opacity="1.00"/>
<rect x="384.50" y="386.60" width="9.80" height="4.00" rx="1.82" fill="#000" fill-opacity="1.00"/>
<rect x="396.20" y="386.60" width="9.80" height="4.00" rx="1.82" fill="#000" fill-opacity="1.00"/>
<rect x="407.90" y="386.60" width="9.80" height="4.00" rx="1.82" fill="#000" fill-opacity="0.35"/>
<rect x="419.60" y="386.60" width="9.80" height="4.00" rx="1.82" fill="#000" fill-opacity="1.00"/>
<rect x="431.30" y="386.60" width="9.80" height="4.00" rx="1.82" fill="#000" fill-opacity="1.00"/>
<rect x="443.00" y="386.60" width="9.80" height="4.00" rx="1.82" fill="#000" fill-opacity="1.00"/>
</g>
<rect x="359.0" y="379.70" width="95.6" height="16.10" fill="none" stroke="#1a1a1a" stroke-width="1.35" rx="0.8"/>
<text x="457.00" y="387.89" font-size="6.73" stroke="#333" stroke-width="0.08" fill="#333" textLength="30.4" lengthAdjust="spacingAndGlyphs">total RIPK3</text>
<rect x="359.00" y="398.50" width="95.60" height="13.10" fill="#ececec"/>
<g filter="url(#bl2)">
<rect x="382.4" y="404.9" width="5.2" height="3.3" fill="#000" fill-opacity="0.09"/>
<rect x="366.9" y="400.6" width="8.0" height="2.3" fill="#000" fill-opacity="0.06"/>
<rect x="450.6" y="404.3" width="8.0" height="2.9" fill="#000" fill-opacity="0.09"/>
<rect x="374.6" y="405.6" width="8.2" height="3.1" fill="#000" fill-opacity="0.10"/>
<rect x="421.4" y="401.0" width="7.5" height="3.3" fill="#000" fill-opacity="0.06"/>
<rect x="363.8" y="407.5" width="5.8" height="3.7" fill="#000" fill-opacity="0.11"/>
<rect x="425.3" y="408.0" width="5.4" height="3.9" fill="#000" fill-opacity="0.08"/>
<rect x="445.2" y="407.6" width="3.6" height="1.9" fill="#000" fill-opacity="0.06"/>
<rect x="447.9" y="404.0" width="6.8" height="2.4" fill="#000" fill-opacity="0.08"/>
<rect x="395.7" y="403.3" width="6.5" height="3.3" fill="#000" fill-opacity="0.11"/>
<rect x="422.4" y="408.0" width="8.1" height="4.5" fill="#000" fill-opacity="0.09"/>
<rect x="375.7" y="407.5" width="8.8" height="4.2" fill="#000" fill-opacity="0.09"/>
<rect x="425.2" y="402.2" width="8.0" height="3.2" fill="#000" fill-opacity="0.06"/>
<rect x="366.7" y="407.4" width="8.9" height="1.8" fill="#000" fill-opacity="0.10"/>
<rect x="397.9" y="401.7" width="4.8" height="3.8" fill="#000" fill-opacity="0.11"/>
<rect x="365.0" y="405.5" width="3.3" height="3.7" fill="#000" fill-opacity="0.07"/>
<rect x="440.3" y="408.4" width="6.0" height="4.5" fill="#000" fill-opacity="0.06"/>
<rect x="367.9" y="405.4" width="3.2" height="2.1" fill="#000" fill-opacity="0.07"/>
<rect x="415.9" y="401.8" width="3.3" height="4.1" fill="#000" fill-opacity="0.07"/>
<rect x="447.3" y="407.8" width="5.3" height="2.9" fill="#000" fill-opacity="0.08"/>
<rect x="418.9" y="405.3" width="6.4" height="3.4" fill="#000" fill-opacity="0.12"/>
<rect x="406.6" y="404.0" width="7.3" height="2.2" fill="#000" fill-opacity="0.06"/>
<rect x="449.0" y="404.7" width="6.3" height="1.5" fill="#000" fill-opacity="0.07"/>
<rect x="413.2" y="400.7" width="6.7" height="3.4" fill="#000" fill-opacity="0.04"/>
<rect x="417.5" y="404.3" width="7.1" height="2.6" fill="#000" fill-opacity="0.10"/>
<rect x="427.4" y="400.7" width="3.4" height="3.5" fill="#000" fill-opacity="0.12"/>
</g>
<rect x="359.0" y="398.50" width="95.6" height="13.10" fill="none" stroke="#1a1a1a" stroke-width="1.35" rx="0.8"/>
<text x="457.00" y="403.29" font-size="6.73" stroke="#333" stroke-width="0.08" fill="#333" textLength="22.0" lengthAdjust="spacingAndGlyphs">p-RIPK1</text>
<text x="457.00" y="410.09" font-size="6.73" stroke="#333" stroke-width="0.08" fill="#333" textLength="24.0" lengthAdjust="spacingAndGlyphs">[Ser166]</text>
<rect x="359.00" y="414.00" width="95.60" height="12.00" fill="#f3f3f3"/>
<g filter="url(#bl)">
<rect x="361.00" y="418.50" width="10.00" height="4.20" rx="1.91" fill="#000" fill-opacity="1.00"/>
<rect x="372.70" y="418.50" width="10.00" height="4.20" rx="1.91" fill="#000" fill-opacity="1.00"/>
<rect x="384.40" y="418.50" width="10.00" height="4.20" rx="1.91" fill="#000" fill-opacity="1.00"/>
<rect x="396.10" y="418.50" width="10.00" height="4.20" rx="1.91" fill="#000" fill-opacity="1.00"/>
<rect x="407.80" y="418.50" width="10.00" height="4.20" rx="1.91" fill="#000" fill-opacity="0.15"/>
<rect x="419.50" y="418.50" width="10.00" height="4.20" rx="1.91" fill="#000" fill-opacity="1.00"/>
<rect x="431.20" y="418.50" width="10.00" height="4.20" rx="1.91" fill="#000" fill-opacity="1.00"/>
<rect x="442.90" y="418.50" width="10.00" height="4.20" rx="1.91" fill="#000" fill-opacity="1.00"/>
</g>
<rect x="359.0" y="414.00" width="95.6" height="12.00" fill="none" stroke="#1a1a1a" stroke-width="1.35" rx="0.8"/>
<text x="457.00" y="421.19" font-size="6.73" stroke="#333" stroke-width="0.08" fill="#333" textLength="30.0" lengthAdjust="spacingAndGlyphs">total RIPK1</text>
<rect x="359.00" y="428.40" width="95.60" height="11.60" fill="#f3f3f3"/>
<g filter="url(#bl)">
<rect x="361.50" y="432.90" width="9.00" height="2.60" rx="1.18" fill="#000" fill-opacity="0.06"/>
<rect x="373.20" y="432.90" width="9.00" height="2.60" rx="1.18" fill="#000" fill-opacity="0.08"/>
<rect x="384.90" y="432.90" width="9.00" height="2.60" rx="1.18" fill="#000" fill-opacity="0.05"/>
<rect x="396.60" y="432.90" width="9.00" height="2.60" rx="1.18" fill="#000" fill-opacity="0.05"/>
<rect x="408.30" y="432.90" width="9.00" height="2.60" rx="1.18" fill="#000" fill-opacity="0.35"/>
<rect x="420.00" y="432.90" width="9.00" height="2.60" rx="1.18" fill="#000" fill-opacity="0.05"/>
<rect x="431.70" y="432.90" width="9.00" height="2.60" rx="1.18" fill="#000" fill-opacity="0.05"/>
<rect x="443.40" y="432.90" width="9.00" height="2.60" rx="1.18" fill="#000" fill-opacity="0.12"/>
</g>
<rect x="359.0" y="428.40" width="95.6" height="11.60" fill="none" stroke="#1a1a1a" stroke-width="1.35" rx="0.8"/>
<text x="457.00" y="435.59" font-size="6.73" stroke="#333" stroke-width="0.08" fill="#333" textLength="25.6" lengthAdjust="spacingAndGlyphs">Cl. RIPK1</text>
<rect x="359.00" y="442.50" width="95.60" height="13.10" fill="#f3f3f3"/>
<g filter="url(#bl2)">
<rect x="432.4" y="451.2" width="5.9" height="2.3" fill="#000" fill-opacity="0.04"/>
<rect x="420.7" y="448.3" width="7.6" height="2.6" fill="#000" fill-opacity="0.10"/>
<rect x="385.5" y="451.0" width="7.4" height="2.7" fill="#000" fill-opacity="0.08"/>
<rect x="422.4" y="446.1" width="6.3" height="3.9" fill="#000" fill-opacity="0.06"/>
<rect x="433.3" y="450.1" width="8.1" height="2.5" fill="#000" fill-opacity="0.05"/>
<rect x="433.0" y="451.0" width="5.7" height="1.8" fill="#000" fill-opacity="0.06"/>
<rect x="418.1" y="446.9" width="8.7" height="3.3" fill="#000" fill-opacity="0.06"/>
<rect x="420.0" y="447.4" width="8.6" height="4.2" fill="#000" fill-opacity="0.08"/>
<rect x="419.0" y="450.2" width="7.8" height="4.4" fill="#000" fill-opacity="0.04"/>
<rect x="393.5" y="449.4" width="4.8" height="3.3" fill="#000" fill-opacity="0.05"/>
<rect x="440.2" y="448.8" width="3.7" height="3.5" fill="#000" fill-opacity="0.06"/>
<rect x="378.7" y="448.4" width="3.8" height="2.1" fill="#000" fill-opacity="0.11"/>
<rect x="423.8" y="444.6" width="7.7" height="1.6" fill="#000" fill-opacity="0.07"/>
<rect x="442.4" y="449.5" width="4.8" height="2.6" fill="#000" fill-opacity="0.07"/>
<rect x="372.4" y="452.6" width="3.3" height="2.8" fill="#000" fill-opacity="0.10"/>
<rect x="396.8" y="452.4" width="4.5" height="4.4" fill="#000" fill-opacity="0.11"/>
<rect x="421.3" y="451.7" width="5.7" height="4.0" fill="#000" fill-opacity="0.10"/>
<rect x="407.5" y="448.3" width="7.2" height="2.7" fill="#000" fill-opacity="0.05"/>
<rect x="428.2" y="446.7" width="5.9" height="3.9" fill="#000" fill-opacity="0.05"/>
<rect x="363.0" y="445.5" width="6.5" height="2.6" fill="#000" fill-opacity="0.06"/>
<rect x="401.6" y="452.0" width="4.5" height="2.7" fill="#000" fill-opacity="0.11"/>
<rect x="416.1" y="446.7" width="5.8" height="2.9" fill="#000" fill-opacity="0.05"/>
<rect x="395.0" y="447.0" width="7.8" height="2.5" fill="#000" fill-opacity="0.09"/>
<rect x="448.4" y="452.0" width="5.3" height="3.3" fill="#000" fill-opacity="0.07"/>
<rect x="396.8" y="448.5" width="7.8" height="4.3" fill="#000" fill-opacity="0.06"/>
<rect x="361.6" y="448.1" width="3.3" height="1.6" fill="#000" fill-opacity="0.10"/>
</g>
<rect x="359.0" y="442.50" width="95.6" height="13.10" fill="none" stroke="#1a1a1a" stroke-width="1.35" rx="0.8"/>
<text x="457.00" y="448.29" font-size="6.73" stroke="#333" stroke-width="0.08" fill="#333" textLength="21.0" lengthAdjust="spacingAndGlyphs">p-MLKL</text>
<text x="457.00" y="455.49" font-size="6.73" stroke="#333" stroke-width="0.08" fill="#333" textLength="24.0" lengthAdjust="spacingAndGlyphs">[Ser345]</text>
<rect x="359.00" y="458.20" width="95.60" height="14.30" fill="#f3f3f3"/>
<g filter="url(#bl)">
<rect x="361.50" y="463.50" width="9.00" height="2.60" rx="1.18" fill="#000" fill-opacity="0.10"/>
<rect x="373.20" y="463.50" width="9.00" height="2.60" rx="1.18" fill="#000" fill-opacity="0.12"/>
<rect x="384.90" y="463.50" width="9.00" height="2.60" rx="1.18" fill="#000" fill-opacity="0.12"/>
<rect x="396.60" y="463.50" width="9.00" height="2.60" rx="1.18" fill="#000" fill-opacity="0.10"/>
<rect x="408.30" y="463.50" width="9.00" height="2.60" rx="1.18" fill="#000" fill-opacity="0.10"/>
<rect x="420.00" y="463.50" width="9.00" height="2.60" rx="1.18" fill="#000" fill-opacity="0.06"/>
<rect x="431.70" y="463.50" width="9.00" height="2.60" rx="1.18" fill="#000" fill-opacity="0.06"/>
<rect x="443.40" y="463.50" width="9.00" height="2.60" rx="1.18" fill="#000" fill-opacity="0.06"/>
<rect x="362.00" y="459.70" width="8.00" height="1.20" rx="0.55" fill="#000" fill-opacity="0.08"/>
<rect x="373.70" y="459.70" width="8.00" height="1.20" rx="0.55" fill="#000" fill-opacity="0.10"/>
<rect x="385.40" y="459.70" width="8.00" height="1.20" rx="0.55" fill="#000" fill-opacity="0.10"/>
<rect x="397.10" y="459.70" width="8.00" height="1.20" rx="0.55" fill="#000" fill-opacity="0.08"/>
<rect x="408.80" y="459.70" width="8.00" height="1.20" rx="0.55" fill="#000" fill-opacity="0.10"/>
<rect x="420.50" y="459.70" width="8.00" height="1.20" rx="0.55" fill="#000" fill-opacity="0.10"/>
<rect x="432.20" y="459.70" width="8.00" height="1.20" rx="0.55" fill="#000" fill-opacity="0.08"/>
<rect x="443.90" y="459.70" width="8.00" height="1.20" rx="0.55" fill="#000" fill-opacity="0.08"/>
<rect x="408.90" y="462.50" width="7.80" height="2.80" rx="1.27" fill="#000" fill-opacity="0.88"/>
</g>
<rect x="359.0" y="458.20" width="95.6" height="14.30" fill="none" stroke="#1a1a1a" stroke-width="1.35" rx="0.8"/>
<text x="457.00" y="466.89" font-size="6.73" stroke="#333" stroke-width="0.08" fill="#333" textLength="53.8" lengthAdjust="spacingAndGlyphs">Cl. Caspase-8 (p43)</text>
<rect x="359.00" y="475.40" width="95.60" height="17.20" fill="#f3f3f3"/>
<g filter="url(#bl)">
<rect x="361.40" y="486.00" width="9.20" height="2.60" rx="1.18" fill="#000" fill-opacity="0.38"/>
<rect x="373.10" y="486.00" width="9.20" height="2.60" rx="1.18" fill="#000" fill-opacity="0.45"/>
<rect x="396.50" y="486.00" width="9.20" height="2.60" rx="1.18" fill="#000" fill-opacity="0.30"/>
<rect x="419.90" y="486.00" width="9.20" height="2.60" rx="1.18" fill="#000" fill-opacity="0.50"/>
<rect x="384.90" y="483.60" width="9.00" height="3.00" rx="1.36" fill="#000" fill-opacity="0.90"/>
<rect x="431.70" y="483.60" width="9.00" height="3.00" rx="1.36" fill="#000" fill-opacity="0.82"/>
<rect x="443.40" y="483.60" width="9.00" height="3.00" rx="1.36" fill="#000" fill-opacity="0.88"/>
<rect x="408.40" y="477.50" width="8.80" height="5.00" rx="2.27" fill="#000" fill-opacity="0.95"/>
<rect x="408.50" y="481.75" width="8.60" height="3.50" rx="1.59" fill="#000" fill-opacity="0.45"/>
</g>
<rect x="359.0" y="475.40" width="95.6" height="17.20" fill="none" stroke="#1a1a1a" stroke-width="1.35" rx="0.8"/>
<text x="457.00" y="486.69" font-size="6.73" stroke="#333" stroke-width="0.08" fill="#333" textLength="37.8" lengthAdjust="spacingAndGlyphs">Cl. Caspase-3</text>
<rect x="359.00" y="495.40" width="95.60" height="13.00" fill="#f3f3f3"/>
<g filter="url(#bl)">
<rect x="360.60" y="500.40" width="10.80" height="4.40" rx="2.00" fill="#000" fill-opacity="1.00"/>
<rect x="372.30" y="500.40" width="10.80" height="4.40" rx="2.00" fill="#000" fill-opacity="1.00"/>
<rect x="384.00" y="500.40" width="10.80" height="4.40" rx="2.00" fill="#000" fill-opacity="1.00"/>
<rect x="395.70" y="500.40" width="10.80" height="4.40" rx="2.00" fill="#000" fill-opacity="1.00"/>
<rect x="407.40" y="500.40" width="10.80" height="4.40" rx="2.00" fill="#000" fill-opacity="1.00"/>
<rect x="419.10" y="500.40" width="10.80" height="4.40" rx="2.00" fill="#000" fill-opacity="1.00"/>
<rect x="430.80" y="500.40" width="10.80" height="4.40" rx="2.00" fill="#000" fill-opacity="1.00"/>
<rect x="442.50" y="500.40" width="10.80" height="4.40" rx="2.00" fill="#000" fill-opacity="1.00"/>
</g>
<rect x="359.0" y="495.40" width="95.6" height="13.00" fill="none" stroke="#1a1a1a" stroke-width="1.35" rx="0.8"/>
<text x="457.00" y="504.19" font-size="6.73" stroke="#333" stroke-width="0.08" fill="#333" textLength="22.0" lengthAdjust="spacingAndGlyphs">GAPDH</text>
<text x="18.80" y="526.60" font-size="10.4" font-weight="bold" fill="#000" stroke="#000" stroke-width="0.45">J</text>
<text x="44.85" y="541.40" font-size="5.8" stroke="#222" stroke-width="0.08" text-anchor="middle" fill="#222" textLength="41.0" lengthAdjust="spacingAndGlyphs">Cell surface calreticulin</text>
<line x1="24.35" y1="542.10" x2="65.35" y2="542.10" stroke="#333" stroke-width="0.45"/>
<path d="M17.90,571.10 L17.90,571.10 L18.35,571.10 L18.79,571.10 L19.24,571.10 L19.68,571.10 L20.13,571.10 L20.57,571.10 L21.02,571.10 L21.47,571.10 L21.91,571.10 L22.36,571.10 L22.80,571.10 L23.25,571.10 L23.70,571.10 L24.14,571.10 L24.59,571.10 L25.03,571.10 L25.48,571.10 L25.92,571.10 L26.37,571.10 L26.82,571.10 L27.26,571.10 L27.71,571.10 L28.15,571.10 L28.60,571.10 L29.05,571.10 L29.49,571.10 L29.94,571.10 L30.38,571.10 L30.83,571.10 L31.27,571.10 L31.72,571.10 L32.17,571.10 L32.61,571.10 L33.06,571.10 L33.50,571.10 L33.95,571.10 L34.40,571.10 L34.84,571.10 L35.29,571.10 L35.73,571.10 L36.18,571.10 L36.62,571.10 L37.07,571.10 L37.52,571.10 L37.96,571.10 L38.41,571.10 L38.85,571.10 L39.30,571.10 L39.75,571.10 L40.19,571.10 L40.64,571.10 L41.08,571.10 L41.53,571.10 L41.98,571.10 L42.42,571.10 L42.87,571.10 L43.31,571.09 L43.76,571.09 L44.20,571.07 L44.65,571.02 L45.10,570.89 L45.54,570.56 L45.99,569.92 L46.43,569.00 L46.88,568.11 L47.33,567.67 L47.77,567.88 L48.22,568.48 L48.66,569.03 L49.11,569.25 L49.55,569.11 L50.00,568.74 L50.45,568.25 L50.89,567.69 L51.34,567.11 L51.78,566.53 L52.23,565.98 L52.68,565.49 L53.12,565.08 L53.57,564.79 L54.01,564.63 L54.46,564.60 L54.90,564.69 L55.35,564.89 L55.80,565.11 L56.24,565.27 L56.69,565.20 L57.13,564.75 L57.58,563.77 L58.03,562.24 L58.47,560.31 L58.92,558.33 L59.36,556.75 L59.81,555.93 L60.25,556.12 L60.70,557.44 L61.15,559.81 L61.59,562.78 L62.04,565.66 L62.48,567.91 L62.93,569.39 L63.38,570.25 L63.82,570.71 L64.27,570.93 L64.71,571.03 L65.16,571.07 L65.60,571.09 L66.05,571.10 L66.50,571.10 L66.94,571.10 L67.39,571.10 L67.83,571.10 L68.28,571.10 L68.73,571.10 L69.17,571.10 L69.62,571.10 L70.06,571.10 L70.51,571.10 L70.95,571.10 L71.40,571.10 L71.40,571.10 Z" fill="#e06a52" stroke="none" stroke-width="1" fill-opacity="0.9"/>
<path d="M17.90,571.10 L17.90,571.10 L18.35,571.10 L18.79,571.10 L19.24,571.10 L19.68,571.10 L20.13,571.10 L20.57,571.10 L21.02,571.10 L21.47,571.10 L21.91,571.10 L22.36,571.10 L22.80,571.10 L23.25,571.10 L23.70,571.10 L24.14,571.10 L24.59,571.10 L25.03,571.10 L25.48,571.10 L25.92,571.10 L26.37,571.10 L26.82,571.10 L27.26,571.10 L27.71,571.10 L28.15,571.10 L28.60,571.10 L29.05,571.10 L29.49,571.10 L29.94,571.10 L30.38,571.10 L30.83,571.10 L31.27,571.10 L31.72,571.10 L32.17,571.10 L32.61,571.10 L33.06,571.10 L33.50,571.10 L33.95,571.10 L34.40,571.10 L34.84,571.10 L35.29,571.10 L35.73,571.10 L36.18,571.10 L36.62,571.10 L37.07,571.10 L37.52,571.10 L37.96,571.10 L38.41,571.10 L38.85,571.10 L39.30,571.10 L39.75,571.10 L40.19,571.10 L40.64,571.10 L41.08,571.10 L41.53,571.10 L41.98,571.10 L42.42,571.10 L42.87,571.10 L43.31,571.09 L43.76,571.09 L44.20,571.07 L44.65,571.02 L45.10,570.89 L45.54,570.56 L45.99,569.92 L46.43,569.00 L46.88,568.11 L47.33,567.67 L47.77,567.88 L48.22,568.48 L48.66,569.03 L49.11,569.25 L49.55,569.11 L50.00,568.74 L50.45,568.25 L50.89,567.69 L51.34,567.11 L51.78,566.53 L52.23,565.98 L52.68,565.49 L53.12,565.08 L53.57,564.79 L54.01,564.63 L54.46,564.60 L54.90,564.69 L55.35,564.89 L55.80,565.11 L56.24,565.27 L56.69,565.20 L57.13,564.75 L57.58,563.77 L58.03,562.24 L58.47,560.31 L58.92,558.33 L59.36,556.75 L59.81,555.93 L60.25,556.12 L60.70,557.44 L61.15,559.81 L61.59,562.78 L62.04,565.66 L62.48,567.91 L62.93,569.39 L63.38,570.25 L63.82,570.71 L64.27,570.93 L64.71,571.03 L65.16,571.07 L65.60,571.09 L66.05,571.10 L66.50,571.10 L66.94,571.10 L67.39,571.10 L67.83,571.10 L68.28,571.10 L68.73,571.10 L69.17,571.10 L69.62,571.10 L70.06,571.10 L70.51,571.10 L70.95,571.10 L71.40,571.10" fill="none" stroke="#cc3a2c" stroke-width="0.9" stroke-linejoin="round"/>
<path d="M17.90,584.00 L17.90,584.00 L18.35,584.00 L18.79,584.00 L19.24,584.00 L19.68,584.00 L20.13,584.00 L20.57,584.00 L21.02,584.00 L21.47,584.00 L21.91,584.00 L22.36,584.00 L22.80,584.00 L23.25,584.00 L23.70,584.00 L24.14,584.00 L24.59,584.00 L25.03,584.00 L25.48,584.00 L25.92,584.00 L26.37,584.00 L26.82,584.00 L27.26,584.00 L27.71,584.00 L28.15,584.00 L28.60,584.00 L29.05,584.00 L29.49,584.00 L29.94,584.00 L30.38,584.00 L30.83,584.00 L31.27,584.00 L31.72,584.00 L32.17,584.00 L32.61,584.00 L33.06,584.00 L33.50,584.00 L33.95,583.99 L34.40,583.99 L34.84,583.98 L35.29,583.97 L35.73,583.96 L36.18,583.94 L36.62,583.91 L37.07,583.87 L37.52,583.82 L37.96,583.74 L38.41,583.65 L38.85,583.53 L39.30,583.36 L39.75,583.14 L40.19,582.81 L40.64,582.30 L41.08,581.49 L41.53,580.25 L41.98,578.40 L42.42,575.87 L42.87,572.70 L43.31,569.17 L43.76,565.78 L44.20,563.13 L44.65,561.79 L45.10,562.06 L45.54,563.88 L45.99,566.84 L46.43,570.33 L46.88,573.78 L47.33,576.75 L47.77,579.04 L48.22,580.64 L48.66,581.69 L49.11,582.31 L49.55,582.66 L50.00,582.83 L50.45,582.86 L50.89,582.80 L51.34,582.66 L51.78,582.45 L52.23,582.20 L52.68,581.93 L53.12,581.65 L53.57,581.41 L54.01,581.22 L54.46,581.11 L54.90,581.09 L55.35,581.17 L55.80,581.33 L56.24,581.58 L56.69,581.87 L57.13,582.19 L57.58,582.52 L58.03,582.82 L58.47,583.10 L58.92,583.33 L59.36,583.52 L59.81,583.67 L60.25,583.78 L60.70,583.86 L61.15,583.91 L61.59,583.95 L62.04,583.97 L62.48,583.98 L62.93,583.99 L63.38,584.00 L63.82,584.00 L64.27,584.00 L64.71,584.00 L65.16,584.00 L65.60,584.00 L66.05,584.00 L66.50,584.00 L66.94,584.00 L67.39,584.00 L67.83,584.00 L68.28,584.00 L68.73,584.00 L69.17,584.00 L69.62,584.00 L70.06,584.00 L70.51,584.00 L70.95,584.00 L71.40,584.00 L71.40,584.00 Z" fill="#7582b6" stroke="none" stroke-width="1" fill-opacity="0.9"/>
<path d="M17.90,584.00 L17.90,584.00 L18.35,584.00 L18.79,584.00 L19.24,584.00 L19.68,584.00 L20.13,584.00 L20.57,584.00 L21.02,584.00 L21.47,584.00 L21.91,584.00 L22.36,584.00 L22.80,584.00 L23.25,584.00 L23.70,584.00 L24.14,584.00 L24.59,584.00 L25.03,584.00 L25.48,584.00 L25.92,584.00 L26.37,584.00 L26.82,584.00 L27.26,584.00 L27.71,584.00 L28.15,584.00 L28.60,584.00 L29.05,584.00 L29.49,584.00 L29.94,584.00 L30.38,584.00 L30.83,584.00 L31.27,584.00 L31.72,584.00 L32.17,584.00 L32.61,584.00 L33.06,584.00 L33.50,584.00 L33.95,583.99 L34.40,583.99 L34.84,583.98 L35.29,583.97 L35.73,583.96 L36.18,583.94 L36.62,583.91 L37.07,583.87 L37.52,583.82 L37.96,583.74 L38.41,583.65 L38.85,583.53 L39.30,583.36 L39.75,583.14 L40.19,582.81 L40.64,582.30 L41.08,581.49 L41.53,580.25 L41.98,578.40 L42.42,575.87 L42.87,572.70 L43.31,569.17 L43.76,565.78 L44.20,563.13 L44.65,561.79 L45.10,562.06 L45.54,563.88 L45.99,566.84 L46.43,570.33 L46.88,573.78 L47.33,576.75 L47.77,579.04 L48.22,580.64 L48.66,581.69 L49.11,582.31 L49.55,582.66 L50.00,582.83 L50.45,582.86 L50.89,582.80 L51.34,582.66 L51.78,582.45 L52.23,582.20 L52.68,581.93 L53.12,581.65 L53.57,581.41 L54.01,581.22 L54.46,581.11 L54.90,581.09 L55.35,581.17 L55.80,581.33 L56.24,581.58 L56.69,581.87 L57.13,582.19 L57.58,582.52 L58.03,582.82 L58.47,583.10 L58.92,583.33 L59.36,583.52 L59.81,583.67 L60.25,583.78 L60.70,583.86 L61.15,583.91 L61.59,583.95 L62.04,583.97 L62.48,583.98 L62.93,583.99 L63.38,584.00 L63.82,584.00 L64.27,584.00 L64.71,584.00 L65.16,584.00 L65.60,584.00 L66.05,584.00 L66.50,584.00 L66.94,584.00 L67.39,584.00 L67.83,584.00 L68.28,584.00 L68.73,584.00 L69.17,584.00 L69.62,584.00 L70.06,584.00 L70.51,584.00 L70.95,584.00 L71.40,584.00" fill="none" stroke="#4c5a96" stroke-width="0.9" stroke-linejoin="round"/>
<path d="M17.90,596.70 L17.90,596.70 L18.35,596.70 L18.79,596.70 L19.24,596.70 L19.68,596.70 L20.13,596.70 L20.57,596.70 L21.02,596.70 L21.47,596.70 L21.91,596.70 L22.36,596.70 L22.80,596.70 L23.25,596.70 L23.70,596.70 L24.14,596.70 L24.59,596.70 L25.03,596.70 L25.48,596.70 L25.92,596.70 L26.37,596.70 L26.82,596.70 L27.26,596.70 L27.71,596.70 L28.15,596.70 L28.60,596.70 L29.05,596.70 L29.49,596.70 L29.94,596.70 L30.38,596.70 L30.83,596.70 L31.27,596.70 L31.72,596.70 L32.17,596.70 L32.61,596.70 L33.06,596.70 L33.50,596.69 L33.95,596.69 L34.40,596.68 L34.84,596.68 L35.29,596.66 L35.73,596.64 L36.18,596.62 L36.62,596.58 L37.07,596.53 L37.52,596.46 L37.96,596.37 L38.41,596.25 L38.85,596.09 L39.30,595.88 L39.75,595.57 L40.19,595.09 L40.64,594.34 L41.08,593.16 L41.53,591.42 L41.98,589.00 L42.42,585.95 L42.87,582.50 L43.31,579.13 L43.76,576.42 L44.20,574.96 L44.65,575.05 L45.10,576.69 L45.54,579.51 L45.99,582.91 L46.43,586.32 L46.88,589.29 L47.33,591.60 L47.77,593.23 L48.22,594.29 L48.66,594.93 L49.11,595.27 L49.55,595.43 L50.00,595.46 L50.45,595.39 L50.89,595.25 L51.34,595.06 L51.78,594.84 L52.23,594.60 L52.68,594.38 L53.12,594.19 L53.57,594.05 L54.01,593.98 L54.46,594.00 L54.90,594.10 L55.35,594.27 L55.80,594.49 L56.24,594.76 L56.69,595.05 L57.13,595.34 L57.58,595.62 L58.03,595.86 L58.47,596.07 L58.92,596.24 L59.36,596.38 L59.81,596.48 L60.25,596.56 L60.70,596.61 L61.15,596.64 L61.59,596.67 L62.04,596.68 L62.48,596.69 L62.93,596.69 L63.38,596.70 L63.82,596.70 L64.27,596.70 L64.71,596.70 L65.16,596.70 L65.60,596.70 L66.05,596.70 L66.50,596.70 L66.94,596.70 L67.39,596.70 L67.83,596.70 L68.28,596.70 L68.73,596.70 L69.17,596.70 L69.62,596.70 L70.06,596.70 L70.51,596.70 L70.95,596.70 L71.40,596.70 L71.40,596.70 Z" fill="#74c964" stroke="none" stroke-width="1" fill-opacity="0.9"/>
<path d="M17.90,596.70 L17.90,596.70 L18.35,596.70 L18.79,596.70 L19.24,596.70 L19.68,596.70 L20.13,596.70 L20.57,596.70 L21.02,596.70 L21.47,596.70 L21.91,596.70 L22.36,596.70 L22.80,596.70 L23.25,596.70 L23.70,596.70 L24.14,596.70 L24.59,596.70 L25.03,596.70 L25.48,596.70 L25.92,596.70 L26.37,596.70 L26.82,596.70 L27.26,596.70 L27.71,596.70 L28.15,596.70 L28.60,596.70 L29.05,596.70 L29.49,596.70 L29.94,596.70 L30.38,596.70 L30.83,596.70 L31.27,596.70 L31.72,596.70 L32.17,596.70 L32.61,596.70 L33.06,596.70 L33.50,596.69 L33.95,596.69 L34.40,596.68 L34.84,596.68 L35.29,596.66 L35.73,596.64 L36.18,596.62 L36.62,596.58 L37.07,596.53 L37.52,596.46 L37.96,596.37 L38.41,596.25 L38.85,596.09 L39.30,595.88 L39.75,595.57 L40.19,595.09 L40.64,594.34 L41.08,593.16 L41.53,591.42 L41.98,589.00 L42.42,585.95 L42.87,582.50 L43.31,579.13 L43.76,576.42 L44.20,574.96 L44.65,575.05 L45.10,576.69 L45.54,579.51 L45.99,582.91 L46.43,586.32 L46.88,589.29 L47.33,591.60 L47.77,593.23 L48.22,594.29 L48.66,594.93 L49.11,595.27 L49.55,595.43 L50.00,595.46 L50.45,595.39 L50.89,595.25 L51.34,595.06 L51.78,594.84 L52.23,594.60 L52.68,594.38 L53.12,594.19 L53.57,594.05 L54.01,593.98 L54.46,594.00 L54.90,594.10 L55.35,594.27 L55.80,594.49 L56.24,594.76 L56.69,595.05 L57.13,595.34 L57.58,595.62 L58.03,595.86 L58.47,596.07 L58.92,596.24 L59.36,596.38 L59.81,596.48 L60.25,596.56 L60.70,596.61 L61.15,596.64 L61.59,596.67 L62.04,596.68 L62.48,596.69 L62.93,596.69 L63.38,596.70 L63.82,596.70 L64.27,596.70 L64.71,596.70 L65.16,596.70 L65.60,596.70 L66.05,596.70 L66.50,596.70 L66.94,596.70 L67.39,596.70 L67.83,596.70 L68.28,596.70 L68.73,596.70 L69.17,596.70 L69.62,596.70 L70.06,596.70 L70.51,596.70 L70.95,596.70 L71.40,596.70" fill="none" stroke="#4aa83e" stroke-width="0.9" stroke-linejoin="round"/>
<path d="M17.90,609.40 L17.90,609.40 L18.35,609.40 L18.79,609.40 L19.24,609.40 L19.68,609.40 L20.13,609.40 L20.57,609.40 L21.02,609.40 L21.47,609.40 L21.91,609.40 L22.36,609.40 L22.80,609.40 L23.25,609.40 L23.70,609.40 L24.14,609.40 L24.59,609.40 L25.03,609.40 L25.48,609.40 L25.92,609.40 L26.37,609.40 L26.82,609.40 L27.26,609.40 L27.71,609.40 L28.15,609.40 L28.60,609.40 L29.05,609.40 L29.49,609.40 L29.94,609.40 L30.38,609.40 L30.83,609.40 L31.27,609.40 L31.72,609.40 L32.17,609.40 L32.61,609.40 L33.06,609.40 L33.50,609.39 L33.95,609.39 L34.40,609.38 L34.84,609.37 L35.29,609.36 L35.73,609.34 L36.18,609.31 L36.62,609.27 L37.07,609.22 L37.52,609.15 L37.96,609.06 L38.41,608.95 L38.85,608.80 L39.30,608.60 L39.75,608.29 L40.19,607.82 L40.64,607.10 L41.08,605.99 L41.53,604.39 L41.98,602.23 L42.42,599.57 L42.87,596.62 L43.31,593.79 L43.76,591.54 L44.20,590.33 L44.65,590.41 L45.10,591.77 L45.54,594.11 L45.99,596.98 L46.43,599.91 L46.88,602.52 L47.33,604.61 L47.77,606.14 L48.22,607.18 L48.66,607.85 L49.11,608.26 L49.55,608.49 L50.00,608.61 L50.45,608.64 L50.89,608.58 L51.34,608.43 L51.78,608.20 L52.23,607.88 L52.68,607.47 L53.12,607.00 L53.57,606.49 L54.01,605.97 L54.46,605.48 L54.90,605.06 L55.35,604.77 L55.80,604.61 L56.24,604.62 L56.69,604.79 L57.13,605.11 L57.58,605.53 L58.03,606.04 L58.47,606.57 L58.92,607.11 L59.36,607.60 L59.81,608.04 L60.25,608.40 L60.70,608.69 L61.15,608.92 L61.59,609.08 L62.04,609.20 L62.48,609.28 L62.93,609.33 L63.38,609.36 L63.82,609.38 L64.27,609.39 L64.71,609.39 L65.16,609.40 L65.60,609.40 L66.05,609.40 L66.50,609.40 L66.94,609.40 L67.39,609.40 L67.83,609.40 L68.28,609.40 L68.73,609.40 L69.17,609.40 L69.62,609.40 L70.06,609.40 L70.51,609.40 L70.95,609.40 L71.40,609.40 L71.40,609.40 Z" fill="#7b4b8e" stroke="none" stroke-width="1" fill-opacity="0.9"/>
<path d="M17.90,609.40 L17.90,609.40 L18.35,609.40 L18.79,609.40 L19.24,609.40 L19.68,609.40 L20.13,609.40 L20.57,609.40 L21.02,609.40 L21.47,609.40 L21.91,609.40 L22.36,609.40 L22.80,609.40 L23.25,609.40 L23.70,609.40 L24.14,609.40 L24.59,609.40 L25.03,609.40 L25.48,609.40 L25.92,609.40 L26.37,609.40 L26.82,609.40 L27.26,609.40 L27.71,609.40 L28.15,609.40 L28.60,609.40 L29.05,609.40 L29.49,609.40 L29.94,609.40 L30.38,609.40 L30.83,609.40 L31.27,609.40 L31.72,609.40 L32.17,609.40 L32.61,609.40 L33.06,609.40 L33.50,609.39 L33.95,609.39 L34.40,609.38 L34.84,609.37 L35.29,609.36 L35.73,609.34 L36.18,609.31 L36.62,609.27 L37.07,609.22 L37.52,609.15 L37.96,609.06 L38.41,608.95 L38.85,608.80 L39.30,608.60 L39.75,608.29 L40.19,607.82 L40.64,607.10 L41.08,605.99 L41.53,604.39 L41.98,602.23 L42.42,599.57 L42.87,596.62 L43.31,593.79 L43.76,591.54 L44.20,590.33 L44.65,590.41 L45.10,591.77 L45.54,594.11 L45.99,596.98 L46.43,599.91 L46.88,602.52 L47.33,604.61 L47.77,606.14 L48.22,607.18 L48.66,607.85 L49.11,608.26 L49.55,608.49 L50.00,608.61 L50.45,608.64 L50.89,608.58 L51.34,608.43 L51.78,608.20 L52.23,607.88 L52.68,607.47 L53.12,607.00 L53.57,606.49 L54.01,605.97 L54.46,605.48 L54.90,605.06 L55.35,604.77 L55.80,604.61 L56.24,604.62 L56.69,604.79 L57.13,605.11 L57.58,605.53 L58.03,606.04 L58.47,606.57 L58.92,607.11 L59.36,607.60 L59.81,608.04 L60.25,608.40 L60.70,608.69 L61.15,608.92 L61.59,609.08 L62.04,609.20 L62.48,609.28 L62.93,609.33 L63.38,609.36 L63.82,609.38 L64.27,609.39 L64.71,609.39 L65.16,609.40 L65.60,609.40 L66.05,609.40 L66.50,609.40 L66.94,609.40 L67.39,609.40 L67.83,609.40 L68.28,609.40 L68.73,609.40 L69.17,609.40 L69.62,609.40 L70.06,609.40 L70.51,609.40 L70.95,609.40 L71.40,609.40" fill="none" stroke="#5e2f74" stroke-width="0.9" stroke-linejoin="round"/>
<path d="M17.90,621.80 L17.90,621.80 L18.35,621.80 L18.79,621.80 L19.24,621.80 L19.68,621.80 L20.13,621.80 L20.57,621.80 L21.02,621.80 L21.47,621.80 L21.91,621.80 L22.36,621.80 L22.80,621.80 L23.25,621.80 L23.70,621.80 L24.14,621.80 L24.59,621.80 L25.03,621.80 L25.48,621.80 L25.92,621.80 L26.37,621.80 L26.82,621.80 L27.26,621.80 L27.71,621.80 L28.15,621.80 L28.60,621.80 L29.05,621.80 L29.49,621.80 L29.94,621.80 L30.38,621.80 L30.83,621.80 L31.27,621.80 L31.72,621.80 L32.17,621.80 L32.61,621.80 L33.06,621.80 L33.50,621.80 L33.95,621.80 L34.40,621.80 L34.84,621.80 L35.29,621.79 L35.73,621.79 L36.18,621.79 L36.62,621.78 L37.07,621.77 L37.52,621.75 L37.96,621.73 L38.41,621.70 L38.85,621.66 L39.30,621.60 L39.75,621.53 L40.19,621.43 L40.64,621.31 L41.08,621.13 L41.53,620.85 L41.98,620.42 L42.42,619.75 L42.87,618.73 L43.31,617.28 L43.76,615.37 L44.20,613.13 L44.65,610.80 L45.10,608.77 L45.54,607.45 L45.99,607.12 L46.43,607.86 L46.88,609.51 L47.33,611.70 L47.77,614.03 L48.22,616.17 L48.66,617.90 L49.11,619.17 L49.55,620.04 L50.00,620.59 L50.45,620.92 L50.89,621.11 L51.34,621.20 L51.78,621.20 L52.23,621.12 L52.68,620.94 L53.12,620.65 L53.57,620.24 L54.01,619.69 L54.46,619.02 L54.90,618.24 L55.35,617.39 L55.80,616.54 L56.24,615.74 L56.69,615.08 L57.13,614.62 L57.58,614.41 L58.03,614.47 L58.47,614.80 L58.92,615.37 L59.36,616.10 L59.81,616.94 L60.25,617.81 L60.70,618.64 L61.15,619.39 L61.59,620.03 L62.04,620.55 L62.48,620.95 L62.93,621.24 L63.38,621.45 L63.82,621.59 L64.27,621.67 L64.71,621.73 L65.16,621.76 L65.60,621.78 L66.05,621.79 L66.50,621.80 L66.94,621.80 L67.39,621.80 L67.83,621.80 L68.28,621.80 L68.73,621.80 L69.17,621.80 L69.62,621.80 L70.06,621.80 L70.51,621.80 L70.95,621.80 L71.40,621.80 L71.40,621.80 Z" fill="#f7aa5a" stroke="none" stroke-width="1" fill-opacity="0.9"/>
<path d="M17.90,621.80 L17.90,621.80 L18.35,621.80 L18.79,621.80 L19.24,621.80 L19.68,621.80 L20.13,621.80 L20.57,621.80 L21.02,621.80 L21.47,621.80 L21.91,621.80 L22.36,621.80 L22.80,621.80 L23.25,621.80 L23.70,621.80 L24.14,621.80 L24.59,621.80 L25.03,621.80 L25.48,621.80 L25.92,621.80 L26.37,621.80 L26.82,621.80 L27.26,621.80 L27.71,621.80 L28.15,621.80 L28.60,621.80 L29.05,621.80 L29.49,621.80 L29.94,621.80 L30.38,621.80 L30.83,621.80 L31.27,621.80 L31.72,621.80 L32.17,621.80 L32.61,621.80 L33.06,621.80 L33.50,621.80 L33.95,621.80 L34.40,621.80 L34.84,621.80 L35.29,621.79 L35.73,621.79 L36.18,621.79 L36.62,621.78 L37.07,621.77 L37.52,621.75 L37.96,621.73 L38.41,621.70 L38.85,621.66 L39.30,621.60 L39.75,621.53 L40.19,621.43 L40.64,621.31 L41.08,621.13 L41.53,620.85 L41.98,620.42 L42.42,619.75 L42.87,618.73 L43.31,617.28 L43.76,615.37 L44.20,613.13 L44.65,610.80 L45.10,608.77 L45.54,607.45 L45.99,607.12 L46.43,607.86 L46.88,609.51 L47.33,611.70 L47.77,614.03 L48.22,616.17 L48.66,617.90 L49.11,619.17 L49.55,620.04 L50.00,620.59 L50.45,620.92 L50.89,621.11 L51.34,621.20 L51.78,621.20 L52.23,621.12 L52.68,620.94 L53.12,620.65 L53.57,620.24 L54.01,619.69 L54.46,619.02 L54.90,618.24 L55.35,617.39 L55.80,616.54 L56.24,615.74 L56.69,615.08 L57.13,614.62 L57.58,614.41 L58.03,614.47 L58.47,614.80 L58.92,615.37 L59.36,616.10 L59.81,616.94 L60.25,617.81 L60.70,618.64 L61.15,619.39 L61.59,620.03 L62.04,620.55 L62.48,620.95 L62.93,621.24 L63.38,621.45 L63.82,621.59 L64.27,621.67 L64.71,621.73 L65.16,621.76 L65.60,621.78 L66.05,621.79 L66.50,621.80 L66.94,621.80 L67.39,621.80 L67.83,621.80 L68.28,621.80 L68.73,621.80 L69.17,621.80 L69.62,621.80 L70.06,621.80 L70.51,621.80 L70.95,621.80 L71.40,621.80" fill="none" stroke="#f08a30" stroke-width="0.9" stroke-linejoin="round"/>
<path d="M17.90,633.90 L17.90,633.90 L18.35,633.90 L18.79,633.90 L19.24,633.90 L19.68,633.90 L20.13,633.90 L20.57,633.90 L21.02,633.90 L21.47,633.90 L21.91,633.90 L22.36,633.90 L22.80,633.90 L23.25,633.90 L23.70,633.90 L24.14,633.90 L24.59,633.90 L25.03,633.90 L25.48,633.90 L25.92,633.90 L26.37,633.90 L26.82,633.90 L27.26,633.90 L27.71,633.90 L28.15,633.90 L28.60,633.90 L29.05,633.90 L29.49,633.90 L29.94,633.90 L30.38,633.90 L30.83,633.90 L31.27,633.90 L31.72,633.90 L32.17,633.90 L32.61,633.90 L33.06,633.90 L33.50,633.90 L33.95,633.89 L34.40,633.89 L34.84,633.88 L35.29,633.87 L35.73,633.86 L36.18,633.84 L36.62,633.81 L37.07,633.78 L37.52,633.73 L37.96,633.67 L38.41,633.60 L38.85,633.50 L39.30,633.36 L39.75,633.16 L40.19,632.86 L40.64,632.38 L41.08,631.66 L41.53,630.59 L41.98,629.13 L42.42,627.29 L42.87,625.19 L43.31,623.11 L43.76,621.37 L44.20,620.31 L44.65,620.15 L45.10,620.94 L45.54,622.49 L45.99,624.50 L46.43,626.62 L46.88,628.56 L47.33,630.16 L47.77,631.35 L48.22,632.17 L48.66,632.71 L49.11,633.06 L49.55,633.27 L50.00,633.39 L50.45,633.45 L50.89,633.46 L51.34,633.39 L51.78,633.25 L52.23,633.01 L52.68,632.65 L53.12,632.17 L53.57,631.56 L54.01,630.83 L54.46,630.01 L54.90,629.14 L55.35,628.28 L55.80,627.51 L56.24,626.90 L56.69,626.52 L57.13,626.40 L57.58,626.56 L58.03,626.98 L58.47,627.62 L58.92,628.41 L59.36,629.28 L59.81,630.15 L60.25,630.97 L60.70,631.70 L61.15,632.30 L61.59,632.79 L62.04,633.15 L62.48,633.42 L62.93,633.60 L63.38,633.72 L63.82,633.80 L64.27,633.84 L64.71,633.87 L65.16,633.88 L65.60,633.89 L66.05,633.90 L66.50,633.90 L66.94,633.90 L67.39,633.90 L67.83,633.90 L68.28,633.90 L68.73,633.90 L69.17,633.90 L69.62,633.90 L70.06,633.90 L70.51,633.90 L70.95,633.90 L71.40,633.90 L71.40,633.90 Z" fill="#4f7a58" stroke="none" stroke-width="1" fill-opacity="0.9"/>
<path d="M17.90,633.90 L17.90,633.90 L18.35,633.90 L18.79,633.90 L19.24,633.90 L19.68,633.90 L20.13,633.90 L20.57,633.90 L21.02,633.90 L21.47,633.90 L21.91,633.90 L22.36,633.90 L22.80,633.90 L23.25,633.90 L23.70,633.90 L24.14,633.90 L24.59,633.90 L25.03,633.90 L25.48,633.90 L25.92,633.90 L26.37,633.90 L26.82,633.90 L27.26,633.90 L27.71,633.90 L28.15,633.90 L28.60,633.90 L29.05,633.90 L29.49,633.90 L29.94,633.90 L30.38,633.90 L30.83,633.90 L31.27,633.90 L31.72,633.90 L32.17,633.90 L32.61,633.90 L33.06,633.90 L33.50,633.90 L33.95,633.89 L34.40,633.89 L34.84,633.88 L35.29,633.87 L35.73,633.86 L36.18,633.84 L36.62,633.81 L37.07,633.78 L37.52,633.73 L37.96,633.67 L38.41,633.60 L38.85,633.50 L39.30,633.36 L39.75,633.16 L40.19,632.86 L40.64,632.38 L41.08,631.66 L41.53,630.59 L41.98,629.13 L42.42,627.29 L42.87,625.19 L43.31,623.11 L43.76,621.37 L44.20,620.31 L44.65,620.15 L45.10,620.94 L45.54,622.49 L45.99,624.50 L46.43,626.62 L46.88,628.56 L47.33,630.16 L47.77,631.35 L48.22,632.17 L48.66,632.71 L49.11,633.06 L49.55,633.27 L50.00,633.39 L50.45,633.45 L50.89,633.46 L51.34,633.39 L51.78,633.25 L52.23,633.01 L52.68,632.65 L53.12,632.17 L53.57,631.56 L54.01,630.83 L54.46,630.01 L54.90,629.14 L55.35,628.28 L55.80,627.51 L56.24,626.90 L56.69,626.52 L57.13,626.40 L57.58,626.56 L58.03,626.98 L58.47,627.62 L58.92,628.41 L59.36,629.28 L59.81,630.15 L60.25,630.97 L60.70,631.70 L61.15,632.30 L61.59,632.79 L62.04,633.15 L62.48,633.42 L62.93,633.60 L63.38,633.72 L63.82,633.80 L64.27,633.84 L64.71,633.87 L65.16,633.88 L65.60,633.89 L66.05,633.90 L66.50,633.90 L66.94,633.90 L67.39,633.90 L67.83,633.90 L68.28,633.90 L68.73,633.90 L69.17,633.90 L69.62,633.90 L70.06,633.90 L70.51,633.90 L70.95,633.90 L71.40,633.90" fill="none" stroke="#2f5a3a" stroke-width="0.9" stroke-linejoin="round"/>
<g opacity="0.6">
<text x="18.60" y="548.18" font-size="3.48" stroke="#cc3a2c" stroke-width="0.08" fill="#cc3a2c" textLength="21.1" lengthAdjust="spacingAndGlyphs">0.2 μg/ml MTX</text>
</g>
<g opacity="0.6">
<text x="18.60" y="575.58" font-size="3.48" stroke="#4c5a96" stroke-width="0.08" fill="#4c5a96" textLength="19.4" lengthAdjust="spacingAndGlyphs">DMSO control</text>
</g>
<g opacity="0.6">
<text x="18.60" y="588.48" font-size="3.48" stroke="#4aa83e" stroke-width="0.08" fill="#4aa83e" textLength="9.0" lengthAdjust="spacingAndGlyphs">0.01 μM</text>
<text x="18.60" y="592.28" font-size="3.48" stroke="#4aa83e" stroke-width="0.08" fill="#4aa83e" textLength="9.5" lengthAdjust="spacingAndGlyphs">ASTX660</text>
</g>
<g opacity="0.6">
<text x="18.60" y="601.18" font-size="3.48" stroke="#5e2f74" stroke-width="0.08" fill="#5e2f74" textLength="9.0" lengthAdjust="spacingAndGlyphs">0.1 μM</text>
<text x="18.60" y="604.98" font-size="3.48" stroke="#5e2f74" stroke-width="0.08" fill="#5e2f74" textLength="9.5" lengthAdjust="spacingAndGlyphs">ASTX660</text>
</g>
<g opacity="0.6">
<text x="18.60" y="613.88" font-size="3.48" stroke="#f08a30" stroke-width="0.08" fill="#f08a30" textLength="19.4" lengthAdjust="spacingAndGlyphs">1 μM ASTX660</text>
</g>
<g opacity="0.6">
<text x="18.60" y="626.28" font-size="3.48" stroke="#2f5a3a" stroke-width="0.08" fill="#2f5a3a" textLength="21.1" lengthAdjust="spacingAndGlyphs">10 μM ASTX660</text>
</g>
<rect x="17.40" y="543.70" width="54.50" height="90.40" fill="none" stroke="#1a1a1a" stroke-width="0.9"/>
<line x1="17.40" y1="634.40" x2="71.90" y2="634.40" stroke="#111" stroke-width="1.5"/>
<line x1="17.40" y1="634.10" x2="17.40" y2="636.50" stroke="#111" stroke-width="0.6"/>
<g opacity="0.8">
<text x="16.50" y="641.33" font-size="4.29" stroke="#333" stroke-width="0.08" text-anchor="middle" fill="#333" textLength="4.4" lengthAdjust="spacingAndGlyphs">10</text>
<text x="18.40" y="639.23" font-size="2.67" stroke="#333" stroke-width="0.08" fill="#333" textLength="1.4" lengthAdjust="spacingAndGlyphs">0</text>
</g>
<line x1="28.30" y1="634.10" x2="28.30" y2="636.50" stroke="#111" stroke-width="0.6"/>
<g opacity="0.8">
<text x="27.40" y="641.33" font-size="4.29" stroke="#333" stroke-width="0.08" text-anchor="middle" fill="#333" textLength="4.4" lengthAdjust="spacingAndGlyphs">10</text>
<text x="29.30" y="639.23" font-size="2.67" stroke="#333" stroke-width="0.08" fill="#333" textLength="1.4" lengthAdjust="spacingAndGlyphs">1</text>
</g>
<line x1="39.20" y1="634.10" x2="39.20" y2="636.50" stroke="#111" stroke-width="0.6"/>
<g opacity="0.8">
<text x="38.30" y="641.33" font-size="4.29" stroke="#333" stroke-width="0.08" text-anchor="middle" fill="#333" textLength="4.4" lengthAdjust="spacingAndGlyphs">10</text>
<text x="40.20" y="639.23" font-size="2.67" stroke="#333" stroke-width="0.08" fill="#333" textLength="1.4" lengthAdjust="spacingAndGlyphs">2</text>
</g>
<line x1="50.10" y1="634.10" x2="50.10" y2="636.50" stroke="#111" stroke-width="0.6"/>
<g opacity="0.8">
<text x="49.20" y="641.33" font-size="4.29" stroke="#333" stroke-width="0.08" text-anchor="middle" fill="#333" textLength="4.4" lengthAdjust="spacingAndGlyphs">10</text>
<text x="51.10" y="639.23" font-size="2.67" stroke="#333" stroke-width="0.08" fill="#333" textLength="1.4" lengthAdjust="spacingAndGlyphs">3</text>
</g>
<line x1="61.00" y1="634.10" x2="61.00" y2="636.50" stroke="#111" stroke-width="0.6"/>
<g opacity="0.8">
<text x="60.10" y="641.33" font-size="4.29" stroke="#333" stroke-width="0.08" text-anchor="middle" fill="#333" textLength="4.4" lengthAdjust="spacingAndGlyphs">10</text>
<text x="62.00" y="639.23" font-size="2.67" stroke="#333" stroke-width="0.08" fill="#333" textLength="1.4" lengthAdjust="spacingAndGlyphs">4</text>
</g>
<line x1="71.90" y1="634.10" x2="71.90" y2="636.50" stroke="#111" stroke-width="0.6"/>
<g opacity="0.8">
<text x="71.00" y="641.33" font-size="4.29" stroke="#333" stroke-width="0.08" text-anchor="middle" fill="#333" textLength="4.4" lengthAdjust="spacingAndGlyphs">10</text>
<text x="72.90" y="639.23" font-size="2.67" stroke="#333" stroke-width="0.08" fill="#333" textLength="1.4" lengthAdjust="spacingAndGlyphs">5</text>
</g>
<line x1="20.68" y1="634.10" x2="20.68" y2="635.40" stroke="#111" stroke-width="0.45"/>
<line x1="22.60" y1="634.10" x2="22.60" y2="635.40" stroke="#111" stroke-width="0.45"/>
<line x1="23.96" y1="634.10" x2="23.96" y2="635.40" stroke="#111" stroke-width="0.45"/>
<line x1="25.02" y1="634.10" x2="25.02" y2="635.40" stroke="#111" stroke-width="0.45"/>
<line x1="25.88" y1="634.10" x2="25.88" y2="635.40" stroke="#111" stroke-width="0.45"/>
<line x1="26.61" y1="634.10" x2="26.61" y2="635.40" stroke="#111" stroke-width="0.45"/>
<line x1="27.24" y1="634.10" x2="27.24" y2="635.40" stroke="#111" stroke-width="0.45"/>
<line x1="27.80" y1="634.10" x2="27.80" y2="635.40" stroke="#111" stroke-width="0.45"/>
<line x1="31.58" y1="634.10" x2="31.58" y2="635.40" stroke="#111" stroke-width="0.45"/>
<line x1="33.50" y1="634.10" x2="33.50" y2="635.40" stroke="#111" stroke-width="0.45"/>
<line x1="34.86" y1="634.10" x2="34.86" y2="635.40" stroke="#111" stroke-width="0.45"/>
<line x1="35.92" y1="634.10" x2="35.92" y2="635.40" stroke="#111" stroke-width="0.45"/>
<line x1="36.78" y1="634.10" x2="36.78" y2="635.40" stroke="#111" stroke-width="0.45"/>
<line x1="37.51" y1="634.10" x2="37.51" y2="635.40" stroke="#111" stroke-width="0.45"/>
<line x1="38.14" y1="634.10" x2="38.14" y2="635.40" stroke="#111" stroke-width="0.45"/>
<line x1="38.70" y1="634.10" x2="38.70" y2="635.40" stroke="#111" stroke-width="0.45"/>
<line x1="42.48" y1="634.10" x2="42.48" y2="635.40" stroke="#111" stroke-width="0.45"/>
<line x1="44.40" y1="634.10" x2="44.40" y2="635.40" stroke="#111" stroke-width="0.45"/>
<line x1="45.76" y1="634.10" x2="45.76" y2="635.40" stroke="#111" stroke-width="0.45"/>
<line x1="46.82" y1="634.10" x2="46.82" y2="635.40" stroke="#111" stroke-width="0.45"/>
<line x1="47.68" y1="634.10" x2="47.68" y2="635.40" stroke="#111" stroke-width="0.45"/>
<line x1="48.41" y1="634.10" x2="48.41" y2="635.40" stroke="#111" stroke-width="0.45"/>
<line x1="49.04" y1="634.10" x2="49.04" y2="635.40" stroke="#111" stroke-width="0.45"/>
<line x1="49.60" y1="634.10" x2="49.60" y2="635.40" stroke="#111" stroke-width="0.45"/>
<line x1="53.38" y1="634.10" x2="53.38" y2="635.40" stroke="#111" stroke-width="0.45"/>
<line x1="55.30" y1="634.10" x2="55.30" y2="635.40" stroke="#111" stroke-width="0.45"/>
<line x1="56.66" y1="634.10" x2="56.66" y2="635.40" stroke="#111" stroke-width="0.45"/>
<line x1="57.72" y1="634.10" x2="57.72" y2="635.40" stroke="#111" stroke-width="0.45"/>
<line x1="58.58" y1="634.10" x2="58.58" y2="635.40" stroke="#111" stroke-width="0.45"/>
<line x1="59.31" y1="634.10" x2="59.31" y2="635.40" stroke="#111" stroke-width="0.45"/>
<line x1="59.94" y1="634.10" x2="59.94" y2="635.40" stroke="#111" stroke-width="0.45"/>
<line x1="60.50" y1="634.10" x2="60.50" y2="635.40" stroke="#111" stroke-width="0.45"/>
<line x1="64.28" y1="634.10" x2="64.28" y2="635.40" stroke="#111" stroke-width="0.45"/>
<line x1="66.20" y1="634.10" x2="66.20" y2="635.40" stroke="#111" stroke-width="0.45"/>
<line x1="67.56" y1="634.10" x2="67.56" y2="635.40" stroke="#111" stroke-width="0.45"/>
<line x1="68.62" y1="634.10" x2="68.62" y2="635.40" stroke="#111" stroke-width="0.45"/>
<line x1="69.48" y1="634.10" x2="69.48" y2="635.40" stroke="#111" stroke-width="0.45"/>
<line x1="70.21" y1="634.10" x2="70.21" y2="635.40" stroke="#111" stroke-width="0.45"/>
<line x1="70.84" y1="634.10" x2="70.84" y2="635.40" stroke="#111" stroke-width="0.45"/>
<line x1="71.40" y1="634.10" x2="71.40" y2="635.40" stroke="#111" stroke-width="0.45"/>
<g opacity="0.8">
<text x="44.11" y="548.56" font-size="2.78" stroke="#666" stroke-width="0.08" text-anchor="middle" fill="#666" textLength="2.6" lengthAdjust="spacingAndGlyphs">R1</text>
</g>
<rect x="42.41" y="549.40" width="3.40" height="1.50" fill="#555"/>
<g opacity="0.8">
<text x="53.37" y="548.56" font-size="2.78" stroke="#666" stroke-width="0.08" text-anchor="middle" fill="#666" textLength="2.6" lengthAdjust="spacingAndGlyphs">R2</text>
</g>
<rect x="51.67" y="549.40" width="3.40" height="1.50" fill="#555"/>
<text x="119.70" y="541.10" font-size="5.8" stroke="#222" stroke-width="0.08" text-anchor="middle" fill="#222" textLength="36.0" lengthAdjust="spacingAndGlyphs">Cell surface HSP90</text>
<line x1="101.70" y1="541.80" x2="137.70" y2="541.80" stroke="#333" stroke-width="0.45"/>
<path d="M92.80,571.30 L92.80,571.30 L93.29,571.30 L93.79,571.30 L94.28,571.30 L94.77,571.30 L95.27,571.30 L95.76,571.30 L96.25,571.30 L96.75,571.30 L97.24,571.30 L97.73,571.30 L98.23,571.30 L98.72,571.30 L99.21,571.30 L99.71,571.30 L100.20,571.30 L100.69,571.30 L101.19,571.30 L101.68,571.30 L102.17,571.30 L102.67,571.30 L103.16,571.30 L103.65,571.30 L104.15,571.30 L104.64,571.30 L105.13,571.30 L105.63,571.30 L106.12,571.30 L106.61,571.30 L107.11,571.30 L107.60,571.30 L108.09,571.30 L108.59,571.30 L109.08,571.30 L109.57,571.30 L110.07,571.30 L110.56,571.30 L111.05,571.30 L111.55,571.30 L112.04,571.30 L112.53,571.30 L113.03,571.30 L113.52,571.30 L114.01,571.30 L114.51,571.30 L115.00,571.30 L115.49,571.30 L115.99,571.30 L116.48,571.30 L116.97,571.30 L117.47,571.30 L117.96,571.30 L118.45,571.30 L118.95,571.30 L119.44,571.30 L119.93,571.30 L120.43,571.30 L120.92,571.30 L121.41,571.30 L121.91,571.30 L122.40,571.30 L122.89,571.29 L123.39,571.27 L123.88,571.19 L124.37,570.96 L124.87,570.46 L125.36,569.65 L125.85,568.73 L126.35,568.17 L126.84,568.28 L127.33,568.98 L127.83,569.84 L128.32,570.48 L128.81,570.79 L129.31,570.86 L129.80,570.80 L130.29,570.68 L130.79,570.53 L131.28,570.36 L131.77,570.16 L132.27,569.93 L132.76,569.67 L133.25,569.39 L133.75,569.09 L134.24,568.77 L134.73,568.45 L135.23,568.11 L135.72,567.79 L136.21,567.47 L136.71,567.18 L137.20,566.91 L137.69,566.69 L138.19,566.51 L138.68,566.38 L139.17,566.31 L139.67,566.29 L140.16,566.31 L140.65,566.34 L141.15,566.32 L141.64,566.16 L142.13,565.70 L142.63,564.79 L143.12,563.32 L143.61,561.29 L144.11,558.92 L144.60,556.58 L145.09,554.76 L145.59,553.90 L146.08,554.38 L146.57,556.30 L147.07,559.33 L147.56,562.70 L148.05,565.67 L148.55,567.86 L149.04,569.31 L149.53,570.17 L150.03,570.66 L150.52,570.92 L151.01,571.06 L151.51,571.14 L152.00,571.19 L152.00,571.30 Z" fill="#e06a52" stroke="none" stroke-width="1" fill-opacity="0.9"/>
<path d="M92.80,571.30 L92.80,571.30 L93.29,571.30 L93.79,571.30 L94.28,571.30 L94.77,571.30 L95.27,571.30 L95.76,571.30 L96.25,571.30 L96.75,571.30 L97.24,571.30 L97.73,571.30 L98.23,571.30 L98.72,571.30 L99.21,571.30 L99.71,571.30 L100.20,571.30 L100.69,571.30 L101.19,571.30 L101.68,571.30 L102.17,571.30 L102.67,571.30 L103.16,571.30 L103.65,571.30 L104.15,571.30 L104.64,571.30 L105.13,571.30 L105.63,571.30 L106.12,571.30 L106.61,571.30 L107.11,571.30 L107.60,571.30 L108.09,571.30 L108.59,571.30 L109.08,571.30 L109.57,571.30 L110.07,571.30 L110.56,571.30 L111.05,571.30 L111.55,571.30 L112.04,571.30 L112.53,571.30 L113.03,571.30 L113.52,571.30 L114.01,571.30 L114.51,571.30 L115.00,571.30 L115.49,571.30 L115.99,571.30 L116.48,571.30 L116.97,571.30 L117.47,571.30 L117.96,571.30 L118.45,571.30 L118.95,571.30 L119.44,571.30 L119.93,571.30 L120.43,571.30 L120.92,571.30 L121.41,571.30 L121.91,571.30 L122.40,571.30 L122.89,571.29 L123.39,571.27 L123.88,571.19 L124.37,570.96 L124.87,570.46 L125.36,569.65 L125.85,568.73 L126.35,568.17 L126.84,568.28 L127.33,568.98 L127.83,569.84 L128.32,570.48 L128.81,570.79 L129.31,570.86 L129.80,570.80 L130.29,570.68 L130.79,570.53 L131.28,570.36 L131.77,570.16 L132.27,569.93 L132.76,569.67 L133.25,569.39 L133.75,569.09 L134.24,568.77 L134.73,568.45 L135.23,568.11 L135.72,567.79 L136.21,567.47 L136.71,567.18 L137.20,566.91 L137.69,566.69 L138.19,566.51 L138.68,566.38 L139.17,566.31 L139.67,566.29 L140.16,566.31 L140.65,566.34 L141.15,566.32 L141.64,566.16 L142.13,565.70 L142.63,564.79 L143.12,563.32 L143.61,561.29 L144.11,558.92 L144.60,556.58 L145.09,554.76 L145.59,553.90 L146.08,554.38 L146.57,556.30 L147.07,559.33 L147.56,562.70 L148.05,565.67 L148.55,567.86 L149.04,569.31 L149.53,570.17 L150.03,570.66 L150.52,570.92 L151.01,571.06 L151.51,571.14 L152.00,571.19" fill="none" stroke="#cc3a2c" stroke-width="0.9" stroke-linejoin="round"/>
<path d="M92.80,583.50 L92.80,583.50 L93.29,583.50 L93.79,583.50 L94.28,583.50 L94.77,583.50 L95.27,583.50 L95.76,583.50 L96.25,583.50 L96.75,583.50 L97.24,583.50 L97.73,583.50 L98.23,583.50 L98.72,583.50 L99.21,583.50 L99.71,583.50 L100.20,583.50 L100.69,583.50 L101.19,583.50 L101.68,583.50 L102.17,583.50 L102.67,583.50 L103.16,583.50 L103.65,583.50 L104.15,583.50 L104.64,583.50 L105.13,583.50 L105.63,583.50 L106.12,583.50 L106.61,583.50 L107.11,583.50 L107.60,583.50 L108.09,583.50 L108.59,583.50 L109.08,583.50 L109.57,583.50 L110.07,583.50 L110.56,583.50 L111.05,583.50 L111.55,583.49 L112.04,583.49 L112.53,583.48 L113.03,583.47 L113.52,583.46 L114.01,583.43 L114.51,583.40 L115.00,583.35 L115.49,583.28 L115.99,583.19 L116.48,583.06 L116.97,582.90 L117.47,582.67 L117.96,582.34 L118.45,581.80 L118.95,580.94 L119.44,579.55 L119.93,577.45 L120.43,574.53 L120.92,570.90 L121.41,566.96 L121.91,563.42 L122.40,561.04 L122.89,560.44 L123.39,561.76 L123.88,564.66 L124.37,568.45 L124.87,572.34 L125.36,575.73 L125.85,578.34 L126.35,580.15 L126.84,581.32 L127.33,582.04 L127.83,582.48 L128.32,582.77 L128.81,582.97 L129.31,583.11 L129.80,583.22 L130.29,583.30 L130.79,583.35 L131.28,583.39 L131.77,583.40 L132.27,583.40 L132.76,583.39 L133.25,583.36 L133.75,583.31 L134.24,583.24 L134.73,583.15 L135.23,583.05 L135.72,582.92 L136.21,582.78 L136.71,582.62 L137.20,582.46 L137.69,582.31 L138.19,582.17 L138.68,582.05 L139.17,581.96 L139.67,581.91 L140.16,581.90 L140.65,581.94 L141.15,582.01 L141.64,582.12 L142.13,582.26 L142.63,582.41 L143.12,582.57 L143.61,582.73 L144.11,582.87 L144.60,583.01 L145.09,583.12 L145.59,583.22 L146.08,583.29 L146.57,583.35 L147.07,583.40 L147.56,583.43 L148.05,583.46 L148.55,583.47 L149.04,583.48 L149.53,583.49 L150.03,583.49 L150.52,583.50 L151.01,583.50 L151.51,583.50 L152.00,583.50 L152.00,583.50 Z" fill="#7582b6" stroke="none" stroke-width="1" fill-opacity="0.9"/>
<path d="M92.80,583.50 L92.80,583.50 L93.29,583.50 L93.79,583.50 L94.28,583.50 L94.77,583.50 L95.27,583.50 L95.76,583.50 L96.25,583.50 L96.75,583.50 L97.24,583.50 L97.73,583.50 L98.23,583.50 L98.72,583.50 L99.21,583.50 L99.71,583.50 L100.20,583.50 L100.69,583.50 L101.19,583.50 L101.68,583.50 L102.17,583.50 L102.67,583.50 L103.16,583.50 L103.65,583.50 L104.15,583.50 L104.64,583.50 L105.13,583.50 L105.63,583.50 L106.12,583.50 L106.61,583.50 L107.11,583.50 L107.60,583.50 L108.09,583.50 L108.59,583.50 L109.08,583.50 L109.57,583.50 L110.07,583.50 L110.56,583.50 L111.05,583.50 L111.55,583.49 L112.04,583.49 L112.53,583.48 L113.03,583.47 L113.52,583.46 L114.01,583.43 L114.51,583.40 L115.00,583.35 L115.49,583.28 L115.99,583.19 L116.48,583.06 L116.97,582.90 L117.47,582.67 L117.96,582.34 L118.45,581.80 L118.95,580.94 L119.44,579.55 L119.93,577.45 L120.43,574.53 L120.92,570.90 L121.41,566.96 L121.91,563.42 L122.40,561.04 L122.89,560.44 L123.39,561.76 L123.88,564.66 L124.37,568.45 L124.87,572.34 L125.36,575.73 L125.85,578.34 L126.35,580.15 L126.84,581.32 L127.33,582.04 L127.83,582.48 L128.32,582.77 L128.81,582.97 L129.31,583.11 L129.80,583.22 L130.29,583.30 L130.79,583.35 L131.28,583.39 L131.77,583.40 L132.27,583.40 L132.76,583.39 L133.25,583.36 L133.75,583.31 L134.24,583.24 L134.73,583.15 L135.23,583.05 L135.72,582.92 L136.21,582.78 L136.71,582.62 L137.20,582.46 L137.69,582.31 L138.19,582.17 L138.68,582.05 L139.17,581.96 L139.67,581.91 L140.16,581.90 L140.65,581.94 L141.15,582.01 L141.64,582.12 L142.13,582.26 L142.63,582.41 L143.12,582.57 L143.61,582.73 L144.11,582.87 L144.60,583.01 L145.09,583.12 L145.59,583.22 L146.08,583.29 L146.57,583.35 L147.07,583.40 L147.56,583.43 L148.05,583.46 L148.55,583.47 L149.04,583.48 L149.53,583.49 L150.03,583.49 L150.52,583.50 L151.01,583.50 L151.51,583.50 L152.00,583.50" fill="none" stroke="#4c5a96" stroke-width="0.9" stroke-linejoin="round"/>
<path d="M92.80,596.20 L92.80,596.20 L93.29,596.20 L93.79,596.20 L94.28,596.20 L94.77,596.20 L95.27,596.20 L95.76,596.20 L96.25,596.20 L96.75,596.20 L97.24,596.20 L97.73,596.20 L98.23,596.20 L98.72,596.20 L99.21,596.20 L99.71,596.20 L100.20,596.20 L100.69,596.20 L101.19,596.20 L101.68,596.20 L102.17,596.20 L102.67,596.20 L103.16,596.20 L103.65,596.20 L104.15,596.20 L104.64,596.20 L105.13,596.20 L105.63,596.20 L106.12,596.20 L106.61,596.20 L107.11,596.20 L107.60,596.20 L108.09,596.20 L108.59,596.20 L109.08,596.20 L109.57,596.20 L110.07,596.20 L110.56,596.20 L111.05,596.20 L111.55,596.20 L112.04,596.19 L112.53,596.19 L113.03,596.18 L113.52,596.17 L114.01,596.15 L114.51,596.12 L115.00,596.08 L115.49,596.02 L115.99,595.95 L116.48,595.85 L116.97,595.71 L117.47,595.53 L117.96,595.27 L118.45,594.87 L118.95,594.23 L119.44,593.20 L119.93,591.57 L120.43,589.17 L120.92,585.96 L121.41,582.18 L121.91,578.34 L122.40,575.19 L122.89,573.47 L123.39,573.63 L123.88,575.62 L124.37,578.93 L124.87,582.81 L125.36,586.53 L125.85,589.61 L126.35,591.88 L126.84,593.40 L127.33,594.36 L127.83,594.95 L128.32,595.32 L128.81,595.56 L129.31,595.74 L129.80,595.86 L130.29,595.96 L130.79,596.03 L131.28,596.09 L131.77,596.12 L132.27,596.15 L132.76,596.16 L133.25,596.16 L133.75,596.16 L134.24,596.14 L134.73,596.11 L135.23,596.07 L135.72,596.00 L136.21,595.90 L136.71,595.78 L137.20,595.62 L137.69,595.44 L138.19,595.22 L138.68,595.00 L139.17,594.77 L139.67,594.56 L140.16,594.38 L140.65,594.26 L141.15,594.20 L141.64,594.22 L142.13,594.30 L142.63,594.44 L143.12,594.63 L143.61,594.85 L144.11,595.08 L144.60,595.31 L145.09,595.51 L145.59,595.69 L146.08,595.83 L146.57,595.94 L147.07,596.03 L147.56,596.09 L148.05,596.13 L148.55,596.16 L149.04,596.18 L149.53,596.19 L150.03,596.19 L150.52,596.20 L151.01,596.20 L151.51,596.20 L152.00,596.20 L152.00,596.20 Z" fill="#74c964" stroke="none" stroke-width="1" fill-opacity="0.9"/>
<path d="M92.80,596.20 L92.80,596.20 L93.29,596.20 L93.79,596.20 L94.28,596.20 L94.77,596.20 L95.27,596.20 L95.76,596.20 L96.25,596.20 L96.75,596.20 L97.24,596.20 L97.73,596.20 L98.23,596.20 L98.72,596.20 L99.21,596.20 L99.71,596.20 L100.20,596.20 L100.69,596.20 L101.19,596.20 L101.68,596.20 L102.17,596.20 L102.67,596.20 L103.16,596.20 L103.65,596.20 L104.15,596.20 L104.64,596.20 L105.13,596.20 L105.63,596.20 L106.12,596.20 L106.61,596.20 L107.11,596.20 L107.60,596.20 L108.09,596.20 L108.59,596.20 L109.08,596.20 L109.57,596.20 L110.07,596.20 L110.56,596.20 L111.05,596.20 L111.55,596.20 L112.04,596.19 L112.53,596.19 L113.03,596.18 L113.52,596.17 L114.01,596.15 L114.51,596.12 L115.00,596.08 L115.49,596.02 L115.99,595.95 L116.48,595.85 L116.97,595.71 L117.47,595.53 L117.96,595.27 L118.45,594.87 L118.95,594.23 L119.44,593.20 L119.93,591.57 L120.43,589.17 L120.92,585.96 L121.41,582.18 L121.91,578.34 L122.40,575.19 L122.89,573.47 L123.39,573.63 L123.88,575.62 L124.37,578.93 L124.87,582.81 L125.36,586.53 L125.85,589.61 L126.35,591.88 L126.84,593.40 L127.33,594.36 L127.83,594.95 L128.32,595.32 L128.81,595.56 L129.31,595.74 L129.80,595.86 L130.29,595.96 L130.79,596.03 L131.28,596.09 L131.77,596.12 L132.27,596.15 L132.76,596.16 L133.25,596.16 L133.75,596.16 L134.24,596.14 L134.73,596.11 L135.23,596.07 L135.72,596.00 L136.21,595.90 L136.71,595.78 L137.20,595.62 L137.69,595.44 L138.19,595.22 L138.68,595.00 L139.17,594.77 L139.67,594.56 L140.16,594.38 L140.65,594.26 L141.15,594.20 L141.64,594.22 L142.13,594.30 L142.63,594.44 L143.12,594.63 L143.61,594.85 L144.11,595.08 L144.60,595.31 L145.09,595.51 L145.59,595.69 L146.08,595.83 L146.57,595.94 L147.07,596.03 L147.56,596.09 L148.05,596.13 L148.55,596.16 L149.04,596.18 L149.53,596.19 L150.03,596.19 L150.52,596.20 L151.01,596.20 L151.51,596.20 L152.00,596.20" fill="none" stroke="#4aa83e" stroke-width="0.9" stroke-linejoin="round"/>
<path d="M92.80,609.00 L92.80,609.00 L93.29,609.00 L93.79,609.00 L94.28,609.00 L94.77,609.00 L95.27,609.00 L95.76,609.00 L96.25,609.00 L96.75,609.00 L97.24,609.00 L97.73,609.00 L98.23,609.00 L98.72,609.00 L99.21,609.00 L99.71,609.00 L100.20,609.00 L100.69,609.00 L101.19,609.00 L101.68,609.00 L102.17,609.00 L102.67,609.00 L103.16,609.00 L103.65,609.00 L104.15,609.00 L104.64,609.00 L105.13,609.00 L105.63,609.00 L106.12,609.00 L106.61,609.00 L107.11,609.00 L107.60,609.00 L108.09,609.00 L108.59,609.00 L109.08,609.00 L109.57,609.00 L110.07,609.00 L110.56,609.00 L111.05,609.00 L111.55,608.99 L112.04,608.99 L112.53,608.99 L113.03,608.98 L113.52,608.96 L114.01,608.94 L114.51,608.91 L115.00,608.87 L115.49,608.81 L115.99,608.73 L116.48,608.63 L116.97,608.49 L117.47,608.30 L117.96,608.01 L118.45,607.56 L118.95,606.83 L119.44,605.65 L119.93,603.87 L120.43,601.39 L120.92,598.31 L121.41,594.97 L121.91,591.96 L122.40,589.94 L122.89,589.43 L123.39,590.55 L123.88,593.02 L124.37,596.23 L124.87,599.53 L125.36,602.41 L125.85,604.62 L126.35,606.16 L126.84,607.15 L127.33,607.76 L127.83,608.14 L128.32,608.38 L128.81,608.55 L129.31,608.67 L129.80,608.77 L130.29,608.84 L130.79,608.89 L131.28,608.92 L131.77,608.95 L132.27,608.96 L132.76,608.97 L133.25,608.96 L133.75,608.95 L134.24,608.92 L134.73,608.86 L135.23,608.78 L135.72,608.65 L136.21,608.47 L136.71,608.22 L137.20,607.91 L137.69,607.52 L138.19,607.07 L138.68,606.57 L139.17,606.08 L139.67,605.61 L140.16,605.21 L140.65,604.94 L141.15,604.81 L141.64,604.84 L142.13,605.03 L142.63,605.35 L143.12,605.78 L143.61,606.26 L144.11,606.76 L144.60,607.24 L145.09,607.67 L145.59,608.03 L146.08,608.32 L146.57,608.55 L147.07,608.71 L147.56,608.82 L148.05,608.89 L148.55,608.94 L149.04,608.97 L149.53,608.98 L150.03,608.99 L150.52,609.00 L151.01,609.00 L151.51,609.00 L152.00,609.00 L152.00,609.00 Z" fill="#7b4b8e" stroke="none" stroke-width="1" fill-opacity="0.9"/>
<path d="M92.80,609.00 L92.80,609.00 L93.29,609.00 L93.79,609.00 L94.28,609.00 L94.77,609.00 L95.27,609.00 L95.76,609.00 L96.25,609.00 L96.75,609.00 L97.24,609.00 L97.73,609.00 L98.23,609.00 L98.72,609.00 L99.21,609.00 L99.71,609.00 L100.20,609.00 L100.69,609.00 L101.19,609.00 L101.68,609.00 L102.17,609.00 L102.67,609.00 L103.16,609.00 L103.65,609.00 L104.15,609.00 L104.64,609.00 L105.13,609.00 L105.63,609.00 L106.12,609.00 L106.61,609.00 L107.11,609.00 L107.60,609.00 L108.09,609.00 L108.59,609.00 L109.08,609.00 L109.57,609.00 L110.07,609.00 L110.56,609.00 L111.05,609.00 L111.55,608.99 L112.04,608.99 L112.53,608.99 L113.03,608.98 L113.52,608.96 L114.01,608.94 L114.51,608.91 L115.00,608.87 L115.49,608.81 L115.99,608.73 L116.48,608.63 L116.97,608.49 L117.47,608.30 L117.96,608.01 L118.45,607.56 L118.95,606.83 L119.44,605.65 L119.93,603.87 L120.43,601.39 L120.92,598.31 L121.41,594.97 L121.91,591.96 L122.40,589.94 L122.89,589.43 L123.39,590.55 L123.88,593.02 L124.37,596.23 L124.87,599.53 L125.36,602.41 L125.85,604.62 L126.35,606.16 L126.84,607.15 L127.33,607.76 L127.83,608.14 L128.32,608.38 L128.81,608.55 L129.31,608.67 L129.80,608.77 L130.29,608.84 L130.79,608.89 L131.28,608.92 L131.77,608.95 L132.27,608.96 L132.76,608.97 L133.25,608.96 L133.75,608.95 L134.24,608.92 L134.73,608.86 L135.23,608.78 L135.72,608.65 L136.21,608.47 L136.71,608.22 L137.20,607.91 L137.69,607.52 L138.19,607.07 L138.68,606.57 L139.17,606.08 L139.67,605.61 L140.16,605.21 L140.65,604.94 L141.15,604.81 L141.64,604.84 L142.13,605.03 L142.63,605.35 L143.12,605.78 L143.61,606.26 L144.11,606.76 L144.60,607.24 L145.09,607.67 L145.59,608.03 L146.08,608.32 L146.57,608.55 L147.07,608.71 L147.56,608.82 L148.05,608.89 L148.55,608.94 L149.04,608.97 L149.53,608.98 L150.03,608.99 L150.52,609.00 L151.01,609.00 L151.51,609.00 L152.00,609.00" fill="none" stroke="#5e2f74" stroke-width="0.9" stroke-linejoin="round"/>
<path d="M92.80,621.30 L92.80,621.30 L93.29,621.30 L93.79,621.30 L94.28,621.30 L94.77,621.30 L95.27,621.30 L95.76,621.30 L96.25,621.30 L96.75,621.30 L97.24,621.30 L97.73,621.30 L98.23,621.30 L98.72,621.30 L99.21,621.30 L99.71,621.30 L100.20,621.30 L100.69,621.30 L101.19,621.30 L101.68,621.30 L102.17,621.30 L102.67,621.30 L103.16,621.30 L103.65,621.30 L104.15,621.30 L104.64,621.30 L105.13,621.30 L105.63,621.30 L106.12,621.30 L106.61,621.30 L107.11,621.30 L107.60,621.30 L108.09,621.30 L108.59,621.30 L109.08,621.30 L109.57,621.30 L110.07,621.30 L110.56,621.30 L111.05,621.30 L111.55,621.30 L112.04,621.30 L112.53,621.30 L113.03,621.29 L113.52,621.29 L114.01,621.29 L114.51,621.28 L115.00,621.26 L115.49,621.24 L115.99,621.22 L116.48,621.18 L116.97,621.12 L117.47,621.05 L117.96,620.96 L118.45,620.83 L118.95,620.65 L119.44,620.37 L119.93,619.91 L120.43,619.18 L120.92,618.03 L121.41,616.36 L121.91,614.18 L122.40,611.66 L122.89,609.19 L123.39,607.26 L123.88,606.34 L124.37,606.66 L124.87,608.15 L125.36,610.43 L125.85,612.98 L126.35,615.36 L126.84,617.28 L127.33,618.68 L127.83,619.60 L128.32,620.18 L128.81,620.53 L129.31,620.75 L129.80,620.90 L130.29,621.01 L130.79,621.09 L131.28,621.15 L131.77,621.20 L132.27,621.23 L132.76,621.25 L133.25,621.26 L133.75,621.26 L134.24,621.25 L134.73,621.22 L135.23,621.16 L135.72,621.07 L136.21,620.92 L136.71,620.70 L137.20,620.39 L137.69,619.96 L138.19,619.41 L138.68,618.74 L139.17,617.96 L139.67,617.11 L140.16,616.24 L140.65,615.42 L141.15,614.74 L141.64,614.25 L142.13,614.02 L142.63,614.06 L143.12,614.38 L143.61,614.94 L144.11,615.68 L144.60,616.52 L145.09,617.39 L145.59,618.22 L146.08,618.97 L146.57,619.61 L147.07,620.11 L147.56,620.50 L148.05,620.78 L148.55,620.98 L149.04,621.11 L149.53,621.19 L150.03,621.24 L150.52,621.27 L151.01,621.28 L151.51,621.29 L152.00,621.30 L152.00,621.30 Z" fill="#f7aa5a" stroke="none" stroke-width="1" fill-opacity="0.9"/>
<path d="M92.80,621.30 L92.80,621.30 L93.29,621.30 L93.79,621.30 L94.28,621.30 L94.77,621.30 L95.27,621.30 L95.76,621.30 L96.25,621.30 L96.75,621.30 L97.24,621.30 L97.73,621.30 L98.23,621.30 L98.72,621.30 L99.21,621.30 L99.71,621.30 L100.20,621.30 L100.69,621.30 L101.19,621.30 L101.68,621.30 L102.17,621.30 L102.67,621.30 L103.16,621.30 L103.65,621.30 L104.15,621.30 L104.64,621.30 L105.13,621.30 L105.63,621.30 L106.12,621.30 L106.61,621.30 L107.11,621.30 L107.60,621.30 L108.09,621.30 L108.59,621.30 L109.08,621.30 L109.57,621.30 L110.07,621.30 L110.56,621.30 L111.05,621.30 L111.55,621.30 L112.04,621.30 L112.53,621.30 L113.03,621.29 L113.52,621.29 L114.01,621.29 L114.51,621.28 L115.00,621.26 L115.49,621.24 L115.99,621.22 L116.48,621.18 L116.97,621.12 L117.47,621.05 L117.96,620.96 L118.45,620.83 L118.95,620.65 L119.44,620.37 L119.93,619.91 L120.43,619.18 L120.92,618.03 L121.41,616.36 L121.91,614.18 L122.40,611.66 L122.89,609.19 L123.39,607.26 L123.88,606.34 L124.37,606.66 L124.87,608.15 L125.36,610.43 L125.85,612.98 L126.35,615.36 L126.84,617.28 L127.33,618.68 L127.83,619.60 L128.32,620.18 L128.81,620.53 L129.31,620.75 L129.80,620.90 L130.29,621.01 L130.79,621.09 L131.28,621.15 L131.77,621.20 L132.27,621.23 L132.76,621.25 L133.25,621.26 L133.75,621.26 L134.24,621.25 L134.73,621.22 L135.23,621.16 L135.72,621.07 L136.21,620.92 L136.71,620.70 L137.20,620.39 L137.69,619.96 L138.19,619.41 L138.68,618.74 L139.17,617.96 L139.67,617.11 L140.16,616.24 L140.65,615.42 L141.15,614.74 L141.64,614.25 L142.13,614.02 L142.63,614.06 L143.12,614.38 L143.61,614.94 L144.11,615.68 L144.60,616.52 L145.09,617.39 L145.59,618.22 L146.08,618.97 L146.57,619.61 L147.07,620.11 L147.56,620.50 L148.05,620.78 L148.55,620.98 L149.04,621.11 L149.53,621.19 L150.03,621.24 L150.52,621.27 L151.01,621.28 L151.51,621.29 L152.00,621.30" fill="none" stroke="#f08a30" stroke-width="0.9" stroke-linejoin="round"/>
<path d="M92.80,634.00 L92.80,634.00 L93.29,634.00 L93.79,634.00 L94.28,634.00 L94.77,634.00 L95.27,634.00 L95.76,634.00 L96.25,634.00 L96.75,634.00 L97.24,634.00 L97.73,634.00 L98.23,634.00 L98.72,634.00 L99.21,634.00 L99.71,634.00 L100.20,634.00 L100.69,634.00 L101.19,634.00 L101.68,634.00 L102.17,634.00 L102.67,634.00 L103.16,634.00 L103.65,634.00 L104.15,634.00 L104.64,634.00 L105.13,634.00 L105.63,634.00 L106.12,634.00 L106.61,634.00 L107.11,634.00 L107.60,634.00 L108.09,634.00 L108.59,634.00 L109.08,634.00 L109.57,634.00 L110.07,634.00 L110.56,634.00 L111.05,634.00 L111.55,634.00 L112.04,634.00 L112.53,633.99 L113.03,633.99 L113.52,633.98 L114.01,633.98 L114.51,633.96 L115.00,633.95 L115.49,633.92 L115.99,633.89 L116.48,633.85 L116.97,633.79 L117.47,633.71 L117.96,633.61 L118.45,633.47 L118.95,633.27 L119.44,632.95 L119.93,632.45 L120.43,631.67 L120.92,630.51 L121.41,628.92 L121.91,626.94 L122.40,624.75 L122.89,622.67 L123.39,621.08 L123.88,620.33 L124.37,620.59 L124.87,621.81 L125.36,623.70 L125.85,625.89 L126.35,628.00 L126.84,629.79 L127.33,631.16 L127.83,632.11 L128.32,632.73 L128.81,633.13 L129.31,633.38 L129.80,633.55 L130.29,633.67 L130.79,633.75 L131.28,633.82 L131.77,633.87 L132.27,633.90 L132.76,633.93 L133.25,633.94 L133.75,633.93 L134.24,633.91 L134.73,633.86 L135.23,633.77 L135.72,633.63 L136.21,633.42 L136.71,633.11 L137.20,632.68 L137.69,632.13 L138.19,631.44 L138.68,630.64 L139.17,629.75 L139.67,628.83 L140.16,627.96 L140.65,627.20 L141.15,626.64 L141.64,626.34 L142.13,626.33 L142.63,626.62 L143.12,627.16 L143.61,627.91 L144.11,628.78 L144.60,629.70 L145.09,630.59 L145.59,631.40 L146.08,632.10 L146.57,632.66 L147.07,633.09 L147.56,633.41 L148.05,633.63 L148.55,633.78 L149.04,633.87 L149.53,633.93 L150.03,633.96 L150.52,633.98 L151.01,633.99 L151.51,634.00 L152.00,634.00 L152.00,634.00 Z" fill="#4f7a58" stroke="none" stroke-width="1" fill-opacity="0.9"/>
<path d="M92.80,634.00 L92.80,634.00 L93.29,634.00 L93.79,634.00 L94.28,634.00 L94.77,634.00 L95.27,634.00 L95.76,634.00 L96.25,634.00 L96.75,634.00 L97.24,634.00 L97.73,634.00 L98.23,634.00 L98.72,634.00 L99.21,634.00 L99.71,634.00 L100.20,634.00 L100.69,634.00 L101.19,634.00 L101.68,634.00 L102.17,634.00 L102.67,634.00 L103.16,634.00 L103.65,634.00 L104.15,634.00 L104.64,634.00 L105.13,634.00 L105.63,634.00 L106.12,634.00 L106.61,634.00 L107.11,634.00 L107.60,634.00 L108.09,634.00 L108.59,634.00 L109.08,634.00 L109.57,634.00 L110.07,634.00 L110.56,634.00 L111.05,634.00 L111.55,634.00 L112.04,634.00 L112.53,633.99 L113.03,633.99 L113.52,633.98 L114.01,633.98 L114.51,633.96 L115.00,633.95 L115.49,633.92 L115.99,633.89 L116.48,633.85 L116.97,633.79 L117.47,633.71 L117.96,633.61 L118.45,633.47 L118.95,633.27 L119.44,632.95 L119.93,632.45 L120.43,631.67 L120.92,630.51 L121.41,628.92 L121.91,626.94 L122.40,624.75 L122.89,622.67 L123.39,621.08 L123.88,620.33 L124.37,620.59 L124.87,621.81 L125.36,623.70 L125.85,625.89 L126.35,628.00 L126.84,629.79 L127.33,631.16 L127.83,632.11 L128.32,632.73 L128.81,633.13 L129.31,633.38 L129.80,633.55 L130.29,633.67 L130.79,633.75 L131.28,633.82 L131.77,633.87 L132.27,633.90 L132.76,633.93 L133.25,633.94 L133.75,633.93 L134.24,633.91 L134.73,633.86 L135.23,633.77 L135.72,633.63 L136.21,633.42 L136.71,633.11 L137.20,632.68 L137.69,632.13 L138.19,631.44 L138.68,630.64 L139.17,629.75 L139.67,628.83 L140.16,627.96 L140.65,627.20 L141.15,626.64 L141.64,626.34 L142.13,626.33 L142.63,626.62 L143.12,627.16 L143.61,627.91 L144.11,628.78 L144.60,629.70 L145.09,630.59 L145.59,631.40 L146.08,632.10 L146.57,632.66 L147.07,633.09 L147.56,633.41 L148.05,633.63 L148.55,633.78 L149.04,633.87 L149.53,633.93 L150.03,633.96 L150.52,633.98 L151.01,633.99 L151.51,634.00 L152.00,634.00" fill="none" stroke="#2f5a3a" stroke-width="0.9" stroke-linejoin="round"/>
<g opacity="0.6">
<text x="93.50" y="548.28" font-size="3.48" stroke="#cc3a2c" stroke-width="0.08" fill="#cc3a2c" textLength="21.1" lengthAdjust="spacingAndGlyphs">0.2 μg/ml MTX</text>
</g>
<g opacity="0.6">
<text x="93.50" y="575.78" font-size="3.48" stroke="#4c5a96" stroke-width="0.08" fill="#4c5a96" textLength="19.4" lengthAdjust="spacingAndGlyphs">DMSO control</text>
</g>
<g opacity="0.6">
<text x="93.50" y="587.98" font-size="3.48" stroke="#4aa83e" stroke-width="0.08" fill="#4aa83e" textLength="24.3" lengthAdjust="spacingAndGlyphs">0.01 μM ASTX660</text>
</g>
<g opacity="0.6">
<text x="93.50" y="600.68" font-size="3.48" stroke="#5e2f74" stroke-width="0.08" fill="#5e2f74" textLength="22.7" lengthAdjust="spacingAndGlyphs">0.1 μM ASTX660</text>
</g>
<g opacity="0.6">
<text x="93.50" y="613.48" font-size="3.48" stroke="#f08a30" stroke-width="0.08" fill="#f08a30" textLength="19.4" lengthAdjust="spacingAndGlyphs">1 μM ASTX660</text>
</g>
<g opacity="0.6">
<text x="93.50" y="625.78" font-size="3.48" stroke="#2f5a3a" stroke-width="0.08" fill="#2f5a3a" textLength="21.1" lengthAdjust="spacingAndGlyphs">10 μM ASTX660</text>
</g>
<rect x="92.30" y="543.80" width="60.20" height="90.40" fill="none" stroke="#1a1a1a" stroke-width="0.9"/>
<line x1="92.30" y1="634.50" x2="152.50" y2="634.50" stroke="#111" stroke-width="1.5"/>
<line x1="92.30" y1="634.20" x2="92.30" y2="636.60" stroke="#111" stroke-width="0.6"/>
<g opacity="0.8">
<text x="91.40" y="641.43" font-size="4.29" stroke="#333" stroke-width="0.08" text-anchor="middle" fill="#333" textLength="4.4" lengthAdjust="spacingAndGlyphs">10</text>
<text x="93.30" y="639.33" font-size="2.67" stroke="#333" stroke-width="0.08" fill="#333" textLength="1.4" lengthAdjust="spacingAndGlyphs">0</text>
</g>
<line x1="104.34" y1="634.20" x2="104.34" y2="636.60" stroke="#111" stroke-width="0.6"/>
<g opacity="0.8">
<text x="103.44" y="641.43" font-size="4.29" stroke="#333" stroke-width="0.08" text-anchor="middle" fill="#333" textLength="4.4" lengthAdjust="spacingAndGlyphs">10</text>
<text x="105.34" y="639.33" font-size="2.67" stroke="#333" stroke-width="0.08" fill="#333" textLength="1.4" lengthAdjust="spacingAndGlyphs">1</text>
</g>
<line x1="116.38" y1="634.20" x2="116.38" y2="636.60" stroke="#111" stroke-width="0.6"/>
<g opacity="0.8">
<text x="115.48" y="641.43" font-size="4.29" stroke="#333" stroke-width="0.08" text-anchor="middle" fill="#333" textLength="4.4" lengthAdjust="spacingAndGlyphs">10</text>
<text x="117.38" y="639.33" font-size="2.67" stroke="#333" stroke-width="0.08" fill="#333" textLength="1.4" lengthAdjust="spacingAndGlyphs">2</text>
</g>
<line x1="128.42" y1="634.20" x2="128.42" y2="636.60" stroke="#111" stroke-width="0.6"/>
<g opacity="0.8">
<text x="127.52" y="641.43" font-size="4.29" stroke="#333" stroke-width="0.08" text-anchor="middle" fill="#333" textLength="4.4" lengthAdjust="spacingAndGlyphs">10</text>
<text x="129.42" y="639.33" font-size="2.67" stroke="#333" stroke-width="0.08" fill="#333" textLength="1.4" lengthAdjust="spacingAndGlyphs">3</text>
</g>
<line x1="140.46" y1="634.20" x2="140.46" y2="636.60" stroke="#111" stroke-width="0.6"/>
<g opacity="0.8">
<text x="139.56" y="641.43" font-size="4.29" stroke="#333" stroke-width="0.08" text-anchor="middle" fill="#333" textLength="4.4" lengthAdjust="spacingAndGlyphs">10</text>
<text x="141.46" y="639.33" font-size="2.67" stroke="#333" stroke-width="0.08" fill="#333" textLength="1.4" lengthAdjust="spacingAndGlyphs">4</text>
</g>
<line x1="152.50" y1="634.20" x2="152.50" y2="636.60" stroke="#111" stroke-width="0.6"/>
<g opacity="0.8">
<text x="151.60" y="641.43" font-size="4.29" stroke="#333" stroke-width="0.08" text-anchor="middle" fill="#333" textLength="4.4" lengthAdjust="spacingAndGlyphs">10</text>
<text x="153.50" y="639.33" font-size="2.67" stroke="#333" stroke-width="0.08" fill="#333" textLength="1.4" lengthAdjust="spacingAndGlyphs">5</text>
</g>
<line x1="95.92" y1="634.20" x2="95.92" y2="635.50" stroke="#111" stroke-width="0.45"/>
<line x1="98.04" y1="634.20" x2="98.04" y2="635.50" stroke="#111" stroke-width="0.45"/>
<line x1="99.55" y1="634.20" x2="99.55" y2="635.50" stroke="#111" stroke-width="0.45"/>
<line x1="100.72" y1="634.20" x2="100.72" y2="635.50" stroke="#111" stroke-width="0.45"/>
<line x1="101.67" y1="634.20" x2="101.67" y2="635.50" stroke="#111" stroke-width="0.45"/>
<line x1="102.47" y1="634.20" x2="102.47" y2="635.50" stroke="#111" stroke-width="0.45"/>
<line x1="103.17" y1="634.20" x2="103.17" y2="635.50" stroke="#111" stroke-width="0.45"/>
<line x1="103.79" y1="634.20" x2="103.79" y2="635.50" stroke="#111" stroke-width="0.45"/>
<line x1="107.96" y1="634.20" x2="107.96" y2="635.50" stroke="#111" stroke-width="0.45"/>
<line x1="110.08" y1="634.20" x2="110.08" y2="635.50" stroke="#111" stroke-width="0.45"/>
<line x1="111.59" y1="634.20" x2="111.59" y2="635.50" stroke="#111" stroke-width="0.45"/>
<line x1="112.76" y1="634.20" x2="112.76" y2="635.50" stroke="#111" stroke-width="0.45"/>
<line x1="113.71" y1="634.20" x2="113.71" y2="635.50" stroke="#111" stroke-width="0.45"/>
<line x1="114.51" y1="634.20" x2="114.51" y2="635.50" stroke="#111" stroke-width="0.45"/>
<line x1="115.21" y1="634.20" x2="115.21" y2="635.50" stroke="#111" stroke-width="0.45"/>
<line x1="115.83" y1="634.20" x2="115.83" y2="635.50" stroke="#111" stroke-width="0.45"/>
<line x1="120.00" y1="634.20" x2="120.00" y2="635.50" stroke="#111" stroke-width="0.45"/>
<line x1="122.12" y1="634.20" x2="122.12" y2="635.50" stroke="#111" stroke-width="0.45"/>
<line x1="123.63" y1="634.20" x2="123.63" y2="635.50" stroke="#111" stroke-width="0.45"/>
<line x1="124.80" y1="634.20" x2="124.80" y2="635.50" stroke="#111" stroke-width="0.45"/>
<line x1="125.75" y1="634.20" x2="125.75" y2="635.50" stroke="#111" stroke-width="0.45"/>
<line x1="126.55" y1="634.20" x2="126.55" y2="635.50" stroke="#111" stroke-width="0.45"/>
<line x1="127.25" y1="634.20" x2="127.25" y2="635.50" stroke="#111" stroke-width="0.45"/>
<line x1="127.87" y1="634.20" x2="127.87" y2="635.50" stroke="#111" stroke-width="0.45"/>
<line x1="132.04" y1="634.20" x2="132.04" y2="635.50" stroke="#111" stroke-width="0.45"/>
<line x1="134.16" y1="634.20" x2="134.16" y2="635.50" stroke="#111" stroke-width="0.45"/>
<line x1="135.67" y1="634.20" x2="135.67" y2="635.50" stroke="#111" stroke-width="0.45"/>
<line x1="136.84" y1="634.20" x2="136.84" y2="635.50" stroke="#111" stroke-width="0.45"/>
<line x1="137.79" y1="634.20" x2="137.79" y2="635.50" stroke="#111" stroke-width="0.45"/>
<line x1="138.59" y1="634.20" x2="138.59" y2="635.50" stroke="#111" stroke-width="0.45"/>
<line x1="139.29" y1="634.20" x2="139.29" y2="635.50" stroke="#111" stroke-width="0.45"/>
<line x1="139.91" y1="634.20" x2="139.91" y2="635.50" stroke="#111" stroke-width="0.45"/>
<line x1="144.08" y1="634.20" x2="144.08" y2="635.50" stroke="#111" stroke-width="0.45"/>
<line x1="146.20" y1="634.20" x2="146.20" y2="635.50" stroke="#111" stroke-width="0.45"/>
<line x1="147.71" y1="634.20" x2="147.71" y2="635.50" stroke="#111" stroke-width="0.45"/>
<line x1="148.88" y1="634.20" x2="148.88" y2="635.50" stroke="#111" stroke-width="0.45"/>
<line x1="149.83" y1="634.20" x2="149.83" y2="635.50" stroke="#111" stroke-width="0.45"/>
<line x1="150.63" y1="634.20" x2="150.63" y2="635.50" stroke="#111" stroke-width="0.45"/>
<line x1="151.33" y1="634.20" x2="151.33" y2="635.50" stroke="#111" stroke-width="0.45"/>
<line x1="151.95" y1="634.20" x2="151.95" y2="635.50" stroke="#111" stroke-width="0.45"/>
<g opacity="0.8">
<text x="121.80" y="548.66" font-size="2.78" stroke="#666" stroke-width="0.08" text-anchor="middle" fill="#666" textLength="2.6" lengthAdjust="spacingAndGlyphs">R1</text>
</g>
<rect x="120.10" y="549.50" width="3.40" height="1.50" fill="#555"/>
<g opacity="0.8">
<text x="132.03" y="548.66" font-size="2.78" stroke="#666" stroke-width="0.08" text-anchor="middle" fill="#666" textLength="2.6" lengthAdjust="spacingAndGlyphs">R2</text>
</g>
<rect x="130.33" y="549.50" width="3.40" height="1.50" fill="#555"/>
<line x1="14.50" y1="636.40" x2="14.50" y2="629.50" stroke="#111" stroke-width="0.6"/>
<path d="M13.40,630.20 L14.50,627.80 L15.60,630.20 Z" fill="#111" stroke="none" stroke-width="1"/>
<text transform="translate(12.53,632.40) rotate(-90)" font-size="4.32" text-anchor="middle" stroke="#333" stroke-width="0.14" textLength="10.5" lengthAdjust="spacingAndGlyphs" fill="#333">Count</text>
<line x1="16.50" y1="644.40" x2="28.50" y2="644.40" stroke="#111" stroke-width="0.6"/>
<path d="M27.50,643.30 L30.10,644.40 L27.50,645.50 Z" fill="#111" stroke="none" stroke-width="1"/>
<text x="17.00" y="649.66" font-size="5.34" stroke="#333" stroke-width="0.08" text-anchor="middle" fill="#333" textLength="17.7" lengthAdjust="spacingAndGlyphs">Calreticulin</text>
<line x1="89.40" y1="636.40" x2="89.40" y2="629.50" stroke="#111" stroke-width="0.6"/>
<path d="M88.30,630.20 L89.40,627.80 L90.50,630.20 Z" fill="#111" stroke="none" stroke-width="1"/>
<text transform="translate(87.43,632.40) rotate(-90)" font-size="4.32" text-anchor="middle" stroke="#333" stroke-width="0.14" textLength="10.5" lengthAdjust="spacingAndGlyphs" fill="#333">Count</text>
<line x1="91.40" y1="644.40" x2="103.40" y2="644.40" stroke="#111" stroke-width="0.6"/>
<path d="M102.40,643.30 L105.00,644.40 L102.40,645.50 Z" fill="#111" stroke="none" stroke-width="1"/>
<text x="91.20" y="648.76" font-size="5.34" stroke="#333" stroke-width="0.08" text-anchor="middle" fill="#333" textLength="9.0" lengthAdjust="spacingAndGlyphs">HSP90</text>
<text x="34.20" y="646.86" font-size="5.34" stroke="#333" stroke-width="0.08" fill="#333" textLength="38.0" lengthAdjust="spacingAndGlyphs">GRN-B-HLA: Green-B</text>
<text x="34.20" y="651.56" font-size="5.34" stroke="#333" stroke-width="0.08" fill="#333" textLength="48.5" lengthAdjust="spacingAndGlyphs">Fluorescence (GRN-B-HLA)</text>
<text x="109.00" y="646.66" font-size="5.34" stroke="#333" stroke-width="0.08" fill="#333" textLength="38.0" lengthAdjust="spacingAndGlyphs">GRN-B-HLA: Green-B</text>
<text x="109.00" y="651.36" font-size="5.34" stroke="#333" stroke-width="0.08" fill="#333" textLength="48.5" lengthAdjust="spacingAndGlyphs">Fluorescence (GRN-B-HLA)</text>
<path d="M155.1,560.5 L158.2,558.3 L158.2,559.6 L160.6,559.6 L160.6,561.4 L158.2,561.4 L158.2,562.7 Z" fill="#8a6cc0" stroke="none" stroke-width="1"/>
<text x="162.60" y="557.04" font-size="4.64" stroke="#8a6cc0" stroke-width="0.08" fill="#8a6cc0" textLength="13.5" lengthAdjust="spacingAndGlyphs">0.2 μg/ml</text>
<text x="162.60" y="562.24" font-size="4.64" stroke="#8a6cc0" stroke-width="0.08" fill="#8a6cc0" textLength="22.0" lengthAdjust="spacingAndGlyphs">Mitoxantrone</text>
<text x="162.60" y="567.04" font-size="4.64" stroke="#8a6cc0" stroke-width="0.08" fill="#8a6cc0" textLength="10.5" lengthAdjust="spacingAndGlyphs">(MTX)</text>
<defs><linearGradient id="ga" x1="0" x2="0" y1="0" y2="1"><stop offset="0" stop-color="#4cae4c"/><stop offset="1" stop-color="#1c5a30"/></linearGradient></defs>
<path d="M159.6,589.1 L163.8,589.1 L163.8,626.3 L165.5,626.3 L161.7,630.6 L157.9,626.3 L159.6,626.3 Z" fill="url(#ga)" stroke="none" stroke-width="1"/>
<text x="168.10" y="605.74" font-size="4.64" stroke="#333" stroke-width="0.08" fill="#333" textLength="17.9" lengthAdjust="spacingAndGlyphs">Increasing</text>
<text x="168.10" y="610.24" font-size="4.64" stroke="#333" stroke-width="0.08" fill="#333" textLength="19.3" lengthAdjust="spacingAndGlyphs">(Tolinapant)</text>
<line x1="214.20" y1="541.10" x2="214.20" y2="560.80" stroke="#231f20" stroke-width="1.2"/>
<line x1="214.20" y1="565.00" x2="214.20" y2="619.45" stroke="#231f20" stroke-width="1.2"/>
<line x1="212.60" y1="561.80" x2="216.80" y2="559.80" stroke="#231f20" stroke-width="0.7"/>
<line x1="212.60" y1="565.60" x2="216.80" y2="563.60" stroke="#231f20" stroke-width="0.7"/>
<line x1="213.75" y1="619.00" x2="321.00" y2="619.00" stroke="#231f20" stroke-width="1.2"/>
<line x1="211.60" y1="541.10" x2="214.20" y2="541.10" stroke="#231f20" stroke-width="0.8"/>
<text x="210.00" y="543.19" font-size="6.73" stroke="#333" stroke-width="0.08" text-anchor="end" fill="#333" textLength="10.3" lengthAdjust="spacingAndGlyphs">100</text>
<line x1="211.60" y1="550.50" x2="214.20" y2="550.50" stroke="#231f20" stroke-width="0.8"/>
<text x="210.00" y="552.59" font-size="6.73" stroke="#333" stroke-width="0.08" text-anchor="end" fill="#333" textLength="6.8" lengthAdjust="spacingAndGlyphs">90</text>
<line x1="211.60" y1="559.90" x2="214.20" y2="559.90" stroke="#231f20" stroke-width="0.8"/>
<text x="210.00" y="561.99" font-size="6.73" stroke="#333" stroke-width="0.08" text-anchor="end" fill="#333" textLength="6.8" lengthAdjust="spacingAndGlyphs">80</text>
<line x1="211.60" y1="565.80" x2="214.20" y2="565.80" stroke="#231f20" stroke-width="0.8"/>
<text x="210.00" y="567.89" font-size="6.73" stroke="#333" stroke-width="0.08" text-anchor="end" fill="#333" textLength="6.8" lengthAdjust="spacingAndGlyphs">45</text>
<line x1="211.60" y1="576.50" x2="214.20" y2="576.50" stroke="#231f20" stroke-width="0.8"/>
<text x="210.00" y="578.59" font-size="6.73" stroke="#333" stroke-width="0.08" text-anchor="end" fill="#333" textLength="6.8" lengthAdjust="spacingAndGlyphs">35</text>
<line x1="211.60" y1="586.90" x2="214.20" y2="586.90" stroke="#231f20" stroke-width="0.8"/>
<text x="210.00" y="588.99" font-size="6.73" stroke="#333" stroke-width="0.08" text-anchor="end" fill="#333" textLength="6.8" lengthAdjust="spacingAndGlyphs">30</text>
<line x1="211.60" y1="597.70" x2="214.20" y2="597.70" stroke="#231f20" stroke-width="0.8"/>
<text x="210.00" y="599.79" font-size="6.73" stroke="#333" stroke-width="0.08" text-anchor="end" fill="#333" textLength="6.8" lengthAdjust="spacingAndGlyphs">20</text>
<line x1="211.60" y1="608.40" x2="214.20" y2="608.40" stroke="#231f20" stroke-width="0.8"/>
<text x="210.00" y="610.49" font-size="6.73" stroke="#333" stroke-width="0.08" text-anchor="end" fill="#333" textLength="6.8" lengthAdjust="spacingAndGlyphs">10</text>
<line x1="211.60" y1="619.00" x2="214.20" y2="619.00" stroke="#231f20" stroke-width="0.8"/>
<text x="210.00" y="621.09" font-size="6.73" stroke="#333" stroke-width="0.08" text-anchor="end" fill="#333" textLength="3.4" lengthAdjust="spacingAndGlyphs">0</text>
<text transform="translate(195.70,580.50) rotate(-90)" font-size="6.96" text-anchor="middle" stroke="#333" stroke-width="0.14" textLength="36.5" lengthAdjust="spacingAndGlyphs" fill="#333">% cells positive</text>
<text x="267.90" y="531.10" font-size="6.4" stroke="#000" stroke-width="0.12" text-anchor="middle" font-weight="bold" fill="#000" textLength="23.8" lengthAdjust="spacingAndGlyphs">BW5147</text>
<line x1="223.70" y1="619.00" x2="223.70" y2="621.00" stroke="#231f20" stroke-width="0.8"/>
<rect x="223.70" y="606.70" width="2.60" height="12.30" fill="#4cb848"/>
<rect x="227.50" y="604.60" width="2.60" height="14.40" fill="#5a1f5c"/>
<text transform="translate(226.30,627.60) rotate(-45)" font-size="6.4" text-anchor="end" fill="#333" stroke="#333" stroke-width="0.08" textLength="34.8" lengthAdjust="spacingAndGlyphs">DMSO control</text>
<line x1="241.48" y1="619.00" x2="241.48" y2="621.00" stroke="#231f20" stroke-width="0.8"/>
<rect x="241.48" y="605.40" width="2.60" height="13.60" fill="#4cb848"/>
<rect x="245.28" y="602.00" width="2.60" height="17.00" fill="#5a1f5c"/>
<text transform="translate(244.08,627.60) rotate(-45)" font-size="6.4" text-anchor="end" fill="#333" stroke="#333" stroke-width="0.08" textLength="50.8" lengthAdjust="spacingAndGlyphs">0.01 μM Tolinapant</text>
<line x1="259.26" y1="619.00" x2="259.26" y2="621.00" stroke="#231f20" stroke-width="0.8"/>
<rect x="259.26" y="593.40" width="2.60" height="25.60" fill="#4cb848"/>
<rect x="263.06" y="592.40" width="2.60" height="26.60" fill="#5a1f5c"/>
<text transform="translate(261.86,627.60) rotate(-45)" font-size="6.4" text-anchor="end" fill="#333" stroke="#333" stroke-width="0.08" textLength="46.8" lengthAdjust="spacingAndGlyphs">0.1 μM Tolinapant</text>
<line x1="277.04" y1="619.00" x2="277.04" y2="621.00" stroke="#231f20" stroke-width="0.8"/>
<rect x="277.04" y="578.00" width="2.60" height="41.00" fill="#4cb848"/>
<rect x="280.84" y="576.70" width="2.60" height="42.30" fill="#5a1f5c"/>
<text transform="translate(279.64,627.60) rotate(-45)" font-size="6.4" text-anchor="end" fill="#333" stroke="#333" stroke-width="0.08" textLength="42.1" lengthAdjust="spacingAndGlyphs">1 μM Tolinapant</text>
<line x1="294.82" y1="619.00" x2="294.82" y2="621.00" stroke="#231f20" stroke-width="0.8"/>
<rect x="294.82" y="574.50" width="2.60" height="44.50" fill="#4cb848"/>
<rect x="298.62" y="572.80" width="2.60" height="46.20" fill="#5a1f5c"/>
<text transform="translate(297.42,627.60) rotate(-45)" font-size="6.4" text-anchor="end" fill="#333" stroke="#333" stroke-width="0.08" textLength="46.8" lengthAdjust="spacingAndGlyphs">10 μM Tolinapant</text>
<line x1="312.60" y1="619.00" x2="312.60" y2="621.00" stroke="#231f20" stroke-width="0.8"/>
<rect x="312.60" y="565.50" width="2.60" height="53.50" fill="#4cb848"/>
<rect x="316.40" y="565.50" width="2.60" height="53.50" fill="#5a1f5c"/>
<text transform="translate(315.20,627.60) rotate(-45)" font-size="6.4" text-anchor="end" fill="#333" stroke="#333" stroke-width="0.08" textLength="42.8" lengthAdjust="spacingAndGlyphs">0.2 μg/ml MTO</text>
<rect x="312.60" y="556.70" width="2.60" height="3.10" fill="#4cb848"/>
<rect x="316.40" y="553.40" width="2.60" height="6.40" fill="#5a1f5c"/>
<rect x="221.20" y="540.90" width="7.20" height="2.80" fill="#d42a2f"/>
<text x="231.50" y="544.17" font-size="6.03" stroke="#333" stroke-width="0.08" fill="#333" textLength="21.5" lengthAdjust="spacingAndGlyphs">Unstained</text>
<rect x="221.20" y="549.00" width="7.20" height="2.80" fill="#27406f"/>
<text x="231.50" y="552.27" font-size="6.03" stroke="#333" stroke-width="0.08" fill="#333" textLength="32.5" lengthAdjust="spacingAndGlyphs">Isotype control</text>
<rect x="221.20" y="556.50" width="7.20" height="2.80" fill="#4cb848"/>
<text x="231.50" y="559.77" font-size="6.03" stroke="#333" stroke-width="0.08" fill="#333" textLength="33.5" lengthAdjust="spacingAndGlyphs">Anti-calreticulin</text>
<rect x="221.20" y="564.80" width="7.20" height="2.80" fill="#5a1f5c"/>
<text x="231.50" y="568.07" font-size="6.03" stroke="#333" stroke-width="0.08" fill="#333" textLength="24.5" lengthAdjust="spacingAndGlyphs">Anti-HSP90</text>
<text x="339.80" y="536.30" font-size="10.4" font-weight="bold" fill="#000" stroke="#000" stroke-width="0.45">K</text>
<line x1="366.50" y1="549.70" x2="366.50" y2="629.65" stroke="#231f20" stroke-width="1.2"/>
<line x1="366.05" y1="629.20" x2="486.20" y2="629.20" stroke="#231f20" stroke-width="1.2"/>
<line x1="363.90" y1="549.70" x2="366.50" y2="549.70" stroke="#231f20" stroke-width="0.8"/>
<text x="361.90" y="551.72" font-size="6.5" stroke="#333" stroke-width="0.08" text-anchor="end" fill="#333" textLength="6.6" lengthAdjust="spacingAndGlyphs">20</text>
<line x1="363.90" y1="569.58" x2="366.50" y2="569.58" stroke="#231f20" stroke-width="0.8"/>
<text x="361.90" y="571.59" font-size="6.5" stroke="#333" stroke-width="0.08" text-anchor="end" fill="#333" textLength="6.6" lengthAdjust="spacingAndGlyphs">15</text>
<line x1="363.90" y1="589.45" x2="366.50" y2="589.45" stroke="#231f20" stroke-width="0.8"/>
<text x="361.90" y="591.47" font-size="6.5" stroke="#333" stroke-width="0.08" text-anchor="end" fill="#333" textLength="6.6" lengthAdjust="spacingAndGlyphs">10</text>
<line x1="363.90" y1="609.33" x2="366.50" y2="609.33" stroke="#231f20" stroke-width="0.8"/>
<text x="361.90" y="611.34" font-size="6.5" stroke="#333" stroke-width="0.08" text-anchor="end" fill="#333" textLength="3.3" lengthAdjust="spacingAndGlyphs">5</text>
<line x1="363.90" y1="629.20" x2="366.50" y2="629.20" stroke="#231f20" stroke-width="0.8"/>
<text x="361.90" y="631.22" font-size="6.5" stroke="#333" stroke-width="0.08" text-anchor="end" fill="#333" textLength="3.3" lengthAdjust="spacingAndGlyphs">0</text>
<line x1="366.55" y1="629.20" x2="366.55" y2="631.40" stroke="#231f20" stroke-width="0.8"/>
<text x="366.55" y="639.02" font-size="6.5" stroke="#333" stroke-width="0.08" text-anchor="middle" fill="#333" textLength="6.8" lengthAdjust="spacingAndGlyphs">−4</text>
<line x1="386.50" y1="629.20" x2="386.50" y2="631.40" stroke="#231f20" stroke-width="0.8"/>
<text x="386.50" y="639.02" font-size="6.5" stroke="#333" stroke-width="0.08" text-anchor="middle" fill="#333" textLength="6.8" lengthAdjust="spacingAndGlyphs">−3</text>
<line x1="406.45" y1="629.20" x2="406.45" y2="631.40" stroke="#231f20" stroke-width="0.8"/>
<text x="406.45" y="639.02" font-size="6.5" stroke="#333" stroke-width="0.08" text-anchor="middle" fill="#333" textLength="6.8" lengthAdjust="spacingAndGlyphs">−2</text>
<line x1="426.40" y1="629.20" x2="426.40" y2="631.40" stroke="#231f20" stroke-width="0.8"/>
<text x="426.40" y="639.02" font-size="6.5" stroke="#333" stroke-width="0.08" text-anchor="middle" fill="#333" textLength="6.8" lengthAdjust="spacingAndGlyphs">−1</text>
<line x1="446.35" y1="629.20" x2="446.35" y2="631.40" stroke="#231f20" stroke-width="0.8"/>
<text x="446.35" y="639.02" font-size="6.5" stroke="#333" stroke-width="0.08" text-anchor="middle" fill="#333" textLength="3.3" lengthAdjust="spacingAndGlyphs">0</text>
<line x1="466.30" y1="629.20" x2="466.30" y2="631.40" stroke="#231f20" stroke-width="0.8"/>
<text x="466.30" y="639.02" font-size="6.5" stroke="#333" stroke-width="0.08" text-anchor="middle" fill="#333" textLength="3.3" lengthAdjust="spacingAndGlyphs">1</text>
<line x1="486.25" y1="629.20" x2="486.25" y2="631.40" stroke="#231f20" stroke-width="0.8"/>
<text x="486.25" y="639.02" font-size="6.5" stroke="#333" stroke-width="0.08" text-anchor="middle" fill="#333" textLength="3.3" lengthAdjust="spacingAndGlyphs">2</text>
<text transform="translate(349.04,588.90) rotate(-90)" font-size="6.48" text-anchor="middle" stroke="#333" stroke-width="0.14" textLength="54.2" lengthAdjust="spacingAndGlyphs" fill="#333">Conc. HMGB1 (ng/ml)</text>
<text x="398.6" y="648.8" font-size="6.8" fill="#333" stroke="#333" stroke-width="0.08" textLength="55.3" lengthAdjust="spacingAndGlyphs">Log<tspan font-size="3.8" dy="1.5">10</tspan><tspan dy="-1.5"> [Tolinapant] (μM)</tspan></text>
<path d="M386.50,611.52 L387.83,611.34 L389.16,611.14 L390.49,610.93 L391.82,610.69 L393.15,610.44 L394.48,610.15 L395.81,609.85 L397.14,609.51 L398.47,609.15 L399.80,608.75 L401.13,608.32 L402.46,607.86 L403.79,607.35 L405.12,606.81 L406.45,606.23 L407.78,605.60 L409.11,604.93 L410.44,604.21 L411.77,603.45 L413.10,602.63 L414.43,601.78 L415.76,600.87 L417.09,599.92 L418.42,598.92 L419.75,597.88 L421.08,596.80 L422.41,595.68 L423.74,594.53 L425.07,593.35 L426.40,592.15 L427.73,590.93 L429.06,589.69 L430.39,588.46 L431.72,587.22 L433.05,585.99 L434.38,584.77 L435.71,583.56 L437.04,582.38 L438.37,581.23 L439.70,580.12 L441.03,579.04 L442.36,578.00 L443.69,577.00 L445.02,576.04 L446.35,575.14 L447.68,574.28 L449.01,573.47 L450.34,572.70 L451.67,571.98 L453.00,571.31 L454.33,570.68 L455.66,570.10 L456.99,569.56 L458.32,569.06 L459.65,568.59 L460.98,568.16 L462.31,567.77 L463.64,567.40 L464.97,567.07 L466.30,566.76" fill="none" stroke="#bf2026" stroke-width="1.4" stroke-linejoin="round" stroke-linecap="round"/>
<line x1="386.50" y1="608.13" x2="386.50" y2="613.30" stroke="#bf2026" stroke-width="0.8"/>
<line x1="384.80" y1="608.13" x2="388.20" y2="608.13" stroke="#bf2026" stroke-width="0.8"/>
<line x1="384.80" y1="613.30" x2="388.20" y2="613.30" stroke="#bf2026" stroke-width="0.8"/>
<circle cx="386.50" cy="610.92" r="1.2" fill="#bf2026"/>
<line x1="396.48" y1="605.75" x2="396.48" y2="612.11" stroke="#bf2026" stroke-width="0.8"/>
<line x1="394.78" y1="605.75" x2="398.18" y2="605.75" stroke="#bf2026" stroke-width="0.8"/>
<line x1="394.78" y1="612.11" x2="398.18" y2="612.11" stroke="#bf2026" stroke-width="0.8"/>
<circle cx="396.48" cy="608.93" r="1.2" fill="#bf2026"/>
<line x1="406.45" y1="599.39" x2="406.45" y2="614.10" stroke="#bf2026" stroke-width="0.8"/>
<line x1="404.75" y1="599.39" x2="408.15" y2="599.39" stroke="#bf2026" stroke-width="0.8"/>
<line x1="404.75" y1="614.10" x2="408.15" y2="614.10" stroke="#bf2026" stroke-width="0.8"/>
<circle cx="406.45" cy="606.54" r="1.2" fill="#bf2026"/>
<line x1="416.43" y1="589.85" x2="416.43" y2="611.31" stroke="#bf2026" stroke-width="0.8"/>
<line x1="414.73" y1="589.85" x2="418.12" y2="589.85" stroke="#bf2026" stroke-width="0.8"/>
<line x1="414.73" y1="611.31" x2="418.12" y2="611.31" stroke="#bf2026" stroke-width="0.8"/>
<circle cx="416.43" cy="600.18" r="1.2" fill="#bf2026"/>
<line x1="426.40" y1="578.72" x2="426.40" y2="593.43" stroke="#bf2026" stroke-width="0.8"/>
<line x1="424.70" y1="578.72" x2="428.10" y2="578.72" stroke="#bf2026" stroke-width="0.8"/>
<line x1="424.70" y1="593.43" x2="428.10" y2="593.43" stroke="#bf2026" stroke-width="0.8"/>
<circle cx="426.40" cy="587.46" r="1.2" fill="#bf2026"/>
<line x1="436.38" y1="573.55" x2="436.38" y2="589.45" stroke="#bf2026" stroke-width="0.8"/>
<line x1="434.68" y1="573.55" x2="438.07" y2="573.55" stroke="#bf2026" stroke-width="0.8"/>
<line x1="434.68" y1="589.45" x2="438.07" y2="589.45" stroke="#bf2026" stroke-width="0.8"/>
<circle cx="436.38" cy="581.90" r="1.2" fill="#bf2026"/>
<line x1="446.35" y1="572.36" x2="446.35" y2="579.51" stroke="#bf2026" stroke-width="0.8"/>
<line x1="444.65" y1="572.36" x2="448.05" y2="572.36" stroke="#bf2026" stroke-width="0.8"/>
<line x1="444.65" y1="579.51" x2="448.05" y2="579.51" stroke="#bf2026" stroke-width="0.8"/>
<circle cx="446.35" cy="575.14" r="1.2" fill="#bf2026"/>
<line x1="456.32" y1="562.42" x2="456.32" y2="582.30" stroke="#bf2026" stroke-width="0.8"/>
<line x1="454.62" y1="562.42" x2="458.02" y2="562.42" stroke="#bf2026" stroke-width="0.8"/>
<line x1="454.62" y1="582.30" x2="458.02" y2="582.30" stroke="#bf2026" stroke-width="0.8"/>
<circle cx="456.32" cy="571.96" r="1.2" fill="#bf2026"/>
<line x1="466.30" y1="552.88" x2="466.30" y2="575.94" stroke="#bf2026" stroke-width="0.8"/>
<line x1="464.60" y1="552.88" x2="468.00" y2="552.88" stroke="#bf2026" stroke-width="0.8"/>
<line x1="464.60" y1="575.94" x2="468.00" y2="575.94" stroke="#bf2026" stroke-width="0.8"/>
<circle cx="466.30" cy="564.01" r="1.2" fill="#bf2026"/>
<rect x="0.00" y="0.00" width="520.00" height="1.10" fill="#0a0a0a"/>
<rect x="0.00" y="0.00" width="1.10" height="671.00" fill="#0a0a0a"/>
<rect x="518.90" y="0.00" width="1.10" height="671.00" fill="#0a0a0a"/>
<rect x="0.00" y="669.70" width="520.00" height="1.30" fill="#0a0a0a"/>
</svg>
</body></html>
